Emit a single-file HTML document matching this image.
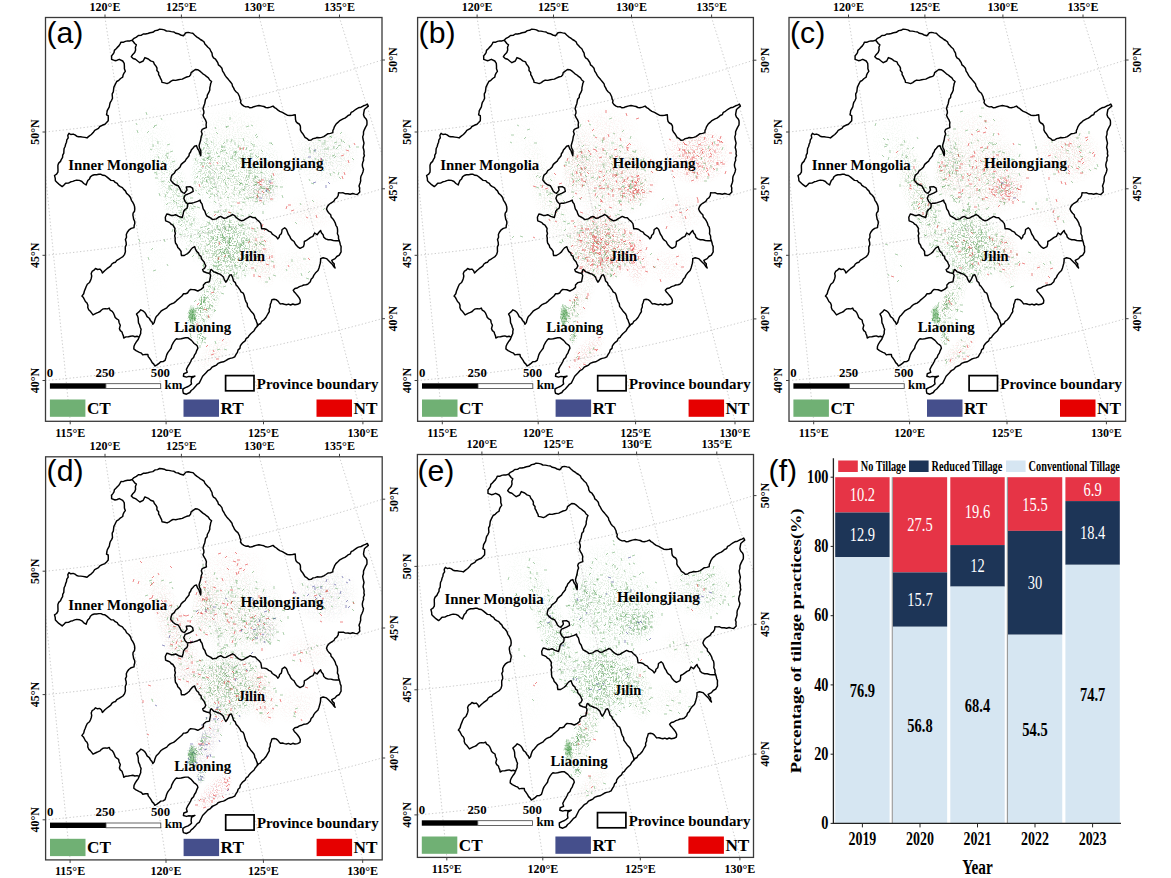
<!DOCTYPE html>
<html><head><meta charset="utf-8"><style>
html,body{margin:0;padding:0;background:#fff;}
body{width:1171px;height:878px;overflow:hidden;}
svg{display:block;}
</style></head><body>
<svg width="1171" height="878" viewBox="0 0 1171 878">
<defs><polygon id="outerA" points="139.1,337.1 130.6,336.3 123.7,338.0 122.0,332.0 119.4,328.6 120.3,325.2 118.6,320.0 115.2,317.5 113.5,313.2 109.2,308.1 103.2,308.9 96.4,313.2 93.0,314.9 88.7,309.8 87.0,303.0 84.4,299.5 81.9,296.1 84.4,291.0 86.1,286.7 89.5,282.5 91.3,278.2 92.1,271.4 95.5,268.5 99.8,269.1 102.4,273.1 104.9,270.5 109.2,267.1 113.5,262.8 118.6,259.4 122.9,256.7 125.4,251.6 126.3,244.7 125.4,239.6 126.3,234.5 128.8,230.2 134.0,227.6 134.8,223.4 133.6,219.1 133.1,213.1 134.8,208.8 134.0,204.6 131.4,200.3 128.8,195.2 125.4,190.9 120.3,186.6 115.2,182.4 109.2,178.9 104.9,175.5 98.9,174.3 92.1,175.5 89.5,178.9 86.1,184.9 81.9,181.5 76.7,180.1 70.8,181.8 65.6,183.2 62.2,186.6 58.8,184.1 55.4,180.7 54.5,175.5 57.9,172.1 57.9,165.3 61.4,159.3 63.9,150.8 66.5,142.2 69.0,133.3 76.7,136.2 82.7,137.1 87.0,137.9 91.3,134.5 94.7,130.3 99.8,126.5 104.9,124.3 108.2,120.8 108.2,115.7 106.5,114.8 108.2,108.8 111.6,100.3 113.3,91.8 115.0,84.9 116.7,81.5 122.7,77.2 125.3,71.3 124.4,66.1 122.7,61.0 119.3,59.3 115.0,60.7 111.6,59.3 111.6,55.9 115.9,49.0 121.0,42.2 125.3,41.4 132.1,40.2 136.4,37.1 143.2,34.0 150.0,32.8 155.2,30.6 162.0,29.4 168.8,31.1 174.0,32.0 178.2,33.7 183.4,35.7 185.9,32.8 192.8,33.3 197.0,37.1 202.2,40.5 206.4,45.6 210.7,50.8 212.4,55.9 216.7,61.0 220.1,66.1 222.6,71.1 225.1,75.4 228.5,79.6 232.0,83.9 234.5,89.9 237.9,93.3 239.6,96.7 240.5,102.7 243.9,106.1 249.9,107.8 255.9,106.1 261.9,106.1 267.8,107.8 273.0,106.1 276.4,108.7 279.8,111.3 284.9,113.8 290.0,115.5 295.2,114.7 296.0,121.5 300.3,125.8 301.2,131.8 303.7,135.2 308.8,140.3 313.1,138.6 319.1,137.7 325.9,135.2 332.8,132.6 334.5,126.6 337.9,122.4 343.0,118.9 348.1,115.5 353.3,111.3 358.4,107.8 363.5,105.8 367.3,104.1 368.3,106.1 364.4,109.5 363.5,114.7 366.1,118.9 366.9,124.9 363.5,131.8 362.7,136.9 363.5,145.4 364.4,155.7 362.7,162.5 363.5,169.3 361.0,176.2 360.1,183.0 359.0,186.0 359.8,192.0 357.3,194.5 347.9,193.7 338.5,192.8 336.8,197.9 332.5,202.2 327.4,206.5 326.5,209.0 329.1,213.3 332.5,218.4 335.9,225.3 337.6,231.3 339.3,240.7 341.1,246.6 341.1,251.8 339.3,255.2 335.1,258.6 331.7,260.3 334.2,263.7 335.1,268.0 332.5,264.6 329.9,262.0 326.5,258.6 323.1,257.7 320.6,258.6 319.7,265.4 318.0,270.6 315.4,273.1 312.9,277.4 310.3,281.7 307.7,284.2 301.8,285.9 294.9,288.5 293.2,290.2 295.8,293.6 299.2,297.9 300.0,303.0 294.9,304.7 286.4,304.7 280.4,303.9 276.1,299.6 271.9,299.6 270.2,304.7 269.3,311.6 265.9,317.5 263.7,320.0 260.6,323.5 257.3,326.3 255.2,328.6 249.2,335.4 243.2,342.3 238.1,349.9 234.7,356.8 227.8,359.3 221.0,362.3 218.0,363.4 214.5,366.0 210.3,369.4 206.0,372.8 202.6,376.2 200.9,379.7 199.2,383.1 195.8,386.1 193.2,389.0 189.8,392.5 186.4,394.2 183.4,393.3 182.9,389.0 188.1,386.5 191.5,383.9 191.1,381.4 191.5,378.0 194.9,376.1 191.5,376.7 186.4,377.1 183.4,376.2 183.8,373.7 187.2,372.4 186.4,369.4 188.1,366.0 190.6,361.7 193.6,357.5 195.8,353.2 197.9,348.1 195.8,344.6 191.5,340.4 188.1,337.8 185.5,337.8 181.2,338.7 176.5,338.7 173.6,342.1 171.8,345.5 169.3,350.6 166.7,354.9 165.0,360.4 159.0,363.4 154.8,366.0 152.2,362.6 149.6,358.3 147.9,354.5 142.8,354.9 139.4,352.3 136.0,350.6 133.8,348.9 135.1,343.8 136.8,341.2 139.1,337.1"/>
<radialGradient id="rgf"><stop offset="0" stop-color="#fff"/><stop offset="0.55" stop-color="#fff" stop-opacity="0.55"/><stop offset="1" stop-color="#fff" stop-opacity="0"/></radialGradient>
<clipPath id="oca"><use href="#outerA" transform="translate(0,0)"/></clipPath>
<clipPath id="ocb"><use href="#outerA" transform="translate(372.1,0)"/></clipPath>
<clipPath id="occ"><use href="#outerA" transform="translate(743.5,0)"/></clipPath>
<clipPath id="ocd"><use href="#outerA" transform="translate(0,439.3)"/></clipPath>
<clipPath id="oce"><use href="#outerA" transform="translate(376.4,434.0)"/></clipPath>
<filter id="spg" filterUnits="userSpaceOnUse" x="0" y="0" width="1171" height="878" color-interpolation-filters="sRGB"><feTurbulence type="fractalNoise" baseFrequency="0.75" numOctaves="2" seed="3"/><feColorMatrix type="matrix" values="0 0 0 0 0.33  0 0 0 0 0.62  0 0 0 0 0.33  -9 0 0 0 4.4"/></filter>
<mask id="mkg" maskUnits="userSpaceOnUse" x="0" y="0" width="1171" height="878"><g clip-path="url(#oca)"><ellipse cx="178.0" cy="200.0" rx="17.2" ry="71.5" transform="rotate(-20 178.0 200.0)" fill="url(#rgf)" opacity="0.306"/><ellipse cx="240.0" cy="175.0" rx="49.3" ry="44.4" transform="rotate(0 240.0 175.0)" fill="url(#rgf)" opacity="0.323"/><ellipse cx="205.0" cy="165.0" rx="14.8" ry="37.0" transform="rotate(10 205.0 165.0)" fill="url(#rgf)" opacity="0.300"/><ellipse cx="262.0" cy="190.0" rx="17.2" ry="16.0" transform="rotate(0 262.0 190.0)" fill="url(#rgf)" opacity="0.275"/><ellipse cx="232.0" cy="128.0" rx="37.0" ry="22.2" transform="rotate(0 232.0 128.0)" fill="url(#rgf)" opacity="0.085"/><ellipse cx="325.0" cy="155.0" rx="34.5" ry="30.8" transform="rotate(0 325.0 155.0)" fill="url(#rgf)" opacity="0.182"/><ellipse cx="310.0" cy="212.0" rx="29.6" ry="19.7" transform="rotate(0 310.0 212.0)" fill="url(#rgf)" opacity="0.050"/><ellipse cx="228.0" cy="245.0" rx="34.5" ry="39.4" transform="rotate(-20 228.0 245.0)" fill="url(#rgf)" opacity="0.621"/><ellipse cx="262.0" cy="255.0" rx="14.8" ry="34.5" transform="rotate(-10 262.0 255.0)" fill="url(#rgf)" opacity="0.154"/><ellipse cx="296.0" cy="266.0" rx="27.1" ry="19.7" transform="rotate(0 296.0 266.0)" fill="url(#rgf)" opacity="0.070"/><ellipse cx="208.0" cy="300.0" rx="12.3" ry="44.4" transform="rotate(22 208.0 300.0)" fill="url(#rgf)" opacity="0.380"/><ellipse cx="192.0" cy="316.0" rx="5.5" ry="12.3" transform="rotate(0 192.0 316.0)" fill="url(#rgf)" opacity="1.000"/><ellipse cx="202.0" cy="304.0" rx="3.7" ry="14.8" transform="rotate(15 202.0 304.0)" fill="url(#rgf)" opacity="0.800"/><ellipse cx="201.0" cy="337.0" rx="4.9" ry="8.6" transform="rotate(0 201.0 337.0)" fill="url(#rgf)" opacity="0.800"/><ellipse cx="215.0" cy="352.0" rx="11.1" ry="27.1" transform="rotate(42 215.0 352.0)" fill="url(#rgf)" opacity="0.080"/><ellipse cx="150.0" cy="140.0" rx="27.1" ry="34.5" transform="rotate(0 150.0 140.0)" fill="url(#rgf)" opacity="0.060"/><ellipse cx="150.0" cy="255.0" rx="24.6" ry="49.3" transform="rotate(0 150.0 255.0)" fill="url(#rgf)" opacity="0.029"/></g><g clip-path="url(#ocb)"><ellipse cx="550.1" cy="200.0" rx="17.2" ry="71.5" transform="rotate(-20 550.1 200.0)" fill="url(#rgf)" opacity="0.128"/><ellipse cx="612.1" cy="175.0" rx="49.3" ry="44.4" transform="rotate(0 612.1 175.0)" fill="url(#rgf)" opacity="0.187"/><ellipse cx="577.1" cy="165.0" rx="14.8" ry="37.0" transform="rotate(10 577.1 165.0)" fill="url(#rgf)" opacity="0.180"/><ellipse cx="634.1" cy="190.0" rx="17.2" ry="16.0" transform="rotate(0 634.1 190.0)" fill="url(#rgf)" opacity="0.250"/><ellipse cx="604.1" cy="128.0" rx="37.0" ry="22.2" transform="rotate(0 604.1 128.0)" fill="url(#rgf)" opacity="0.040"/><ellipse cx="697.1" cy="155.0" rx="34.5" ry="30.8" transform="rotate(0 697.1 155.0)" fill="url(#rgf)" opacity="0.098"/><ellipse cx="682.1" cy="212.0" rx="29.6" ry="19.7" transform="rotate(0 682.1 212.0)" fill="url(#rgf)" opacity="0.040"/><ellipse cx="600.1" cy="245.0" rx="34.5" ry="39.4" transform="rotate(-20 600.1 245.0)" fill="url(#rgf)" opacity="0.352"/><ellipse cx="634.1" cy="255.0" rx="14.8" ry="34.5" transform="rotate(-10 634.1 255.0)" fill="url(#rgf)" opacity="0.056"/><ellipse cx="668.1" cy="266.0" rx="27.1" ry="19.7" transform="rotate(0 668.1 266.0)" fill="url(#rgf)" opacity="0.030"/><ellipse cx="580.1" cy="300.0" rx="12.3" ry="44.4" transform="rotate(22 580.1 300.0)" fill="url(#rgf)" opacity="0.084"/><ellipse cx="564.1" cy="316.0" rx="5.5" ry="12.3" transform="rotate(0 564.1 316.0)" fill="url(#rgf)" opacity="1.000"/><ellipse cx="574.1" cy="304.0" rx="3.7" ry="14.8" transform="rotate(15 574.1 304.0)" fill="url(#rgf)" opacity="0.720"/><ellipse cx="573.1" cy="337.0" rx="4.9" ry="8.6" transform="rotate(0 573.1 337.0)" fill="url(#rgf)" opacity="0.720"/><ellipse cx="587.1" cy="352.0" rx="11.1" ry="27.1" transform="rotate(42 587.1 352.0)" fill="url(#rgf)" opacity="0.072"/><ellipse cx="522.1" cy="140.0" rx="27.1" ry="34.5" transform="rotate(0 522.1 140.0)" fill="url(#rgf)" opacity="0.024"/><ellipse cx="522.1" cy="255.0" rx="24.6" ry="49.3" transform="rotate(0 522.1 255.0)" fill="url(#rgf)" opacity="0.012"/></g><g clip-path="url(#occ)"><ellipse cx="921.5" cy="200.0" rx="17.2" ry="71.5" transform="rotate(-20 921.5 200.0)" fill="url(#rgf)" opacity="0.318"/><ellipse cx="983.5" cy="175.0" rx="49.3" ry="44.4" transform="rotate(0 983.5 175.0)" fill="url(#rgf)" opacity="0.204"/><ellipse cx="948.5" cy="165.0" rx="14.8" ry="37.0" transform="rotate(10 948.5 165.0)" fill="url(#rgf)" opacity="0.312"/><ellipse cx="1005.5" cy="190.0" rx="17.2" ry="16.0" transform="rotate(0 1005.5 190.0)" fill="url(#rgf)" opacity="0.075"/><ellipse cx="975.5" cy="128.0" rx="37.0" ry="22.2" transform="rotate(0 975.5 128.0)" fill="url(#rgf)" opacity="0.050"/><ellipse cx="1068.5" cy="155.0" rx="34.5" ry="30.8" transform="rotate(0 1068.5 155.0)" fill="url(#rgf)" opacity="0.130"/><ellipse cx="1053.5" cy="212.0" rx="29.6" ry="19.7" transform="rotate(0 1053.5 212.0)" fill="url(#rgf)" opacity="0.060"/><ellipse cx="971.5" cy="245.0" rx="34.5" ry="39.4" transform="rotate(-20 971.5 245.0)" fill="url(#rgf)" opacity="0.589"/><ellipse cx="1005.5" cy="255.0" rx="14.8" ry="34.5" transform="rotate(-10 1005.5 255.0)" fill="url(#rgf)" opacity="0.154"/><ellipse cx="1039.5" cy="266.0" rx="27.1" ry="19.7" transform="rotate(0 1039.5 266.0)" fill="url(#rgf)" opacity="0.060"/><ellipse cx="951.5" cy="300.0" rx="12.3" ry="44.4" transform="rotate(22 951.5 300.0)" fill="url(#rgf)" opacity="0.294"/><ellipse cx="935.5" cy="316.0" rx="5.5" ry="12.3" transform="rotate(0 935.5 316.0)" fill="url(#rgf)" opacity="1.000"/><ellipse cx="945.5" cy="304.0" rx="3.7" ry="14.8" transform="rotate(15 945.5 304.0)" fill="url(#rgf)" opacity="0.720"/><ellipse cx="944.5" cy="337.0" rx="4.9" ry="8.6" transform="rotate(0 944.5 337.0)" fill="url(#rgf)" opacity="0.720"/><ellipse cx="958.5" cy="352.0" rx="11.1" ry="27.1" transform="rotate(42 958.5 352.0)" fill="url(#rgf)" opacity="0.120"/><ellipse cx="893.5" cy="140.0" rx="27.1" ry="34.5" transform="rotate(0 893.5 140.0)" fill="url(#rgf)" opacity="0.060"/><ellipse cx="893.5" cy="255.0" rx="24.6" ry="49.3" transform="rotate(0 893.5 255.0)" fill="url(#rgf)" opacity="0.024"/></g><g clip-path="url(#ocd)"><ellipse cx="178.0" cy="639.3" rx="17.2" ry="71.5" transform="rotate(-20 178.0 639.3)" fill="url(#rgf)" opacity="0.138"/><ellipse cx="240.0" cy="614.3" rx="49.3" ry="44.4" transform="rotate(0 240.0 614.3)" fill="url(#rgf)" opacity="0.238"/><ellipse cx="205.0" cy="604.3" rx="14.8" ry="37.0" transform="rotate(10 205.0 604.3)" fill="url(#rgf)" opacity="0.150"/><ellipse cx="262.0" cy="629.3" rx="17.2" ry="16.0" transform="rotate(0 262.0 629.3)" fill="url(#rgf)" opacity="0.300"/><ellipse cx="232.0" cy="567.3" rx="37.0" ry="22.2" transform="rotate(0 232.0 567.3)" fill="url(#rgf)" opacity="0.040"/><ellipse cx="325.0" cy="594.3" rx="34.5" ry="30.8" transform="rotate(0 325.0 594.3)" fill="url(#rgf)" opacity="0.117"/><ellipse cx="310.0" cy="651.3" rx="29.6" ry="19.7" transform="rotate(0 310.0 651.3)" fill="url(#rgf)" opacity="0.040"/><ellipse cx="228.0" cy="684.3" rx="34.5" ry="39.4" transform="rotate(-20 228.0 684.3)" fill="url(#rgf)" opacity="0.512"/><ellipse cx="262.0" cy="694.3" rx="14.8" ry="34.5" transform="rotate(-10 262.0 694.3)" fill="url(#rgf)" opacity="0.126"/><ellipse cx="296.0" cy="705.3" rx="27.1" ry="19.7" transform="rotate(0 296.0 705.3)" fill="url(#rgf)" opacity="0.040"/><ellipse cx="208.0" cy="739.3" rx="12.3" ry="44.4" transform="rotate(22 208.0 739.3)" fill="url(#rgf)" opacity="0.096"/><ellipse cx="192.0" cy="755.3" rx="5.5" ry="12.3" transform="rotate(0 192.0 755.3)" fill="url(#rgf)" opacity="1.000"/><ellipse cx="202.0" cy="743.3" rx="3.7" ry="14.8" transform="rotate(15 202.0 743.3)" fill="url(#rgf)" opacity="0.480"/><ellipse cx="201.0" cy="776.3" rx="4.9" ry="8.6" transform="rotate(0 201.0 776.3)" fill="url(#rgf)" opacity="0.480"/><ellipse cx="150.0" cy="579.3" rx="27.1" ry="34.5" transform="rotate(0 150.0 579.3)" fill="url(#rgf)" opacity="0.036"/><ellipse cx="150.0" cy="694.3" rx="24.6" ry="49.3" transform="rotate(0 150.0 694.3)" fill="url(#rgf)" opacity="0.012"/></g><g clip-path="url(#oce)"><ellipse cx="554.4" cy="634.0" rx="17.2" ry="71.5" transform="rotate(-20 554.4 634.0)" fill="url(#rgf)" opacity="0.316"/><ellipse cx="616.4" cy="609.0" rx="49.3" ry="44.4" transform="rotate(0 616.4 609.0)" fill="url(#rgf)" opacity="0.326"/><ellipse cx="581.4" cy="599.0" rx="14.8" ry="37.0" transform="rotate(10 581.4 599.0)" fill="url(#rgf)" opacity="0.255"/><ellipse cx="638.4" cy="624.0" rx="17.2" ry="16.0" transform="rotate(0 638.4 624.0)" fill="url(#rgf)" opacity="0.440"/><ellipse cx="608.4" cy="562.0" rx="37.0" ry="22.2" transform="rotate(0 608.4 562.0)" fill="url(#rgf)" opacity="0.090"/><ellipse cx="701.4" cy="589.0" rx="34.5" ry="30.8" transform="rotate(0 701.4 589.0)" fill="url(#rgf)" opacity="0.213"/><ellipse cx="686.4" cy="646.0" rx="29.6" ry="19.7" transform="rotate(0 686.4 646.0)" fill="url(#rgf)" opacity="0.075"/><ellipse cx="604.4" cy="679.0" rx="34.5" ry="39.4" transform="rotate(-20 604.4 679.0)" fill="url(#rgf)" opacity="0.621"/><ellipse cx="638.4" cy="689.0" rx="14.8" ry="34.5" transform="rotate(-10 638.4 689.0)" fill="url(#rgf)" opacity="0.258"/><ellipse cx="672.4" cy="700.0" rx="27.1" ry="19.7" transform="rotate(0 672.4 700.0)" fill="url(#rgf)" opacity="0.085"/><ellipse cx="584.4" cy="734.0" rx="12.3" ry="44.4" transform="rotate(22 584.4 734.0)" fill="url(#rgf)" opacity="0.360"/><ellipse cx="568.4" cy="750.0" rx="5.5" ry="12.3" transform="rotate(0 568.4 750.0)" fill="url(#rgf)" opacity="1.000"/><ellipse cx="578.4" cy="738.0" rx="3.7" ry="14.8" transform="rotate(15 578.4 738.0)" fill="url(#rgf)" opacity="0.760"/><ellipse cx="577.4" cy="771.0" rx="4.9" ry="8.6" transform="rotate(0 577.4 771.0)" fill="url(#rgf)" opacity="0.760"/><ellipse cx="591.4" cy="786.0" rx="11.1" ry="27.1" transform="rotate(42 591.4 786.0)" fill="url(#rgf)" opacity="0.096"/><ellipse cx="526.4" cy="574.0" rx="27.1" ry="34.5" transform="rotate(0 526.4 574.0)" fill="url(#rgf)" opacity="0.060"/><ellipse cx="526.4" cy="689.0" rx="24.6" ry="49.3" transform="rotate(0 526.4 689.0)" fill="url(#rgf)" opacity="0.026"/></g></mask>
<filter id="spr" filterUnits="userSpaceOnUse" x="0" y="0" width="1171" height="878" color-interpolation-filters="sRGB"><feTurbulence type="fractalNoise" baseFrequency="0.75" numOctaves="2" seed="7"/><feColorMatrix type="matrix" values="0 0 0 0 0.9  0 0 0 0 0.15  0 0 0 0 0.15  -9 0 0 0 4.4"/></filter>
<mask id="mkr" maskUnits="userSpaceOnUse" x="0" y="0" width="1171" height="878"><g clip-path="url(#oca)"><ellipse cx="240.0" cy="175.0" rx="49.3" ry="44.4" transform="rotate(0 240.0 175.0)" fill="url(#rgf)" opacity="0.017"/><ellipse cx="262.0" cy="190.0" rx="17.2" ry="16.0" transform="rotate(0 262.0 190.0)" fill="url(#rgf)" opacity="0.125"/><ellipse cx="232.0" cy="128.0" rx="37.0" ry="22.2" transform="rotate(0 232.0 128.0)" fill="url(#rgf)" opacity="0.015"/><ellipse cx="325.0" cy="155.0" rx="34.5" ry="30.8" transform="rotate(0 325.0 155.0)" fill="url(#rgf)" opacity="0.039"/><ellipse cx="310.0" cy="212.0" rx="29.6" ry="19.7" transform="rotate(0 310.0 212.0)" fill="url(#rgf)" opacity="0.050"/><ellipse cx="228.0" cy="245.0" rx="34.5" ry="39.4" transform="rotate(-20 228.0 245.0)" fill="url(#rgf)" opacity="0.019"/><ellipse cx="262.0" cy="255.0" rx="14.8" ry="34.5" transform="rotate(-10 262.0 255.0)" fill="url(#rgf)" opacity="0.126"/><ellipse cx="296.0" cy="266.0" rx="27.1" ry="19.7" transform="rotate(0 296.0 266.0)" fill="url(#rgf)" opacity="0.030"/><ellipse cx="208.0" cy="300.0" rx="12.3" ry="44.4" transform="rotate(22 208.0 300.0)" fill="url(#rgf)" opacity="0.020"/><ellipse cx="215.0" cy="352.0" rx="11.1" ry="27.1" transform="rotate(42 215.0 352.0)" fill="url(#rgf)" opacity="0.080"/><ellipse cx="150.0" cy="255.0" rx="24.6" ry="49.3" transform="rotate(0 150.0 255.0)" fill="url(#rgf)" opacity="0.002"/></g><g clip-path="url(#ocb)"><ellipse cx="550.1" cy="200.0" rx="17.2" ry="71.5" transform="rotate(-20 550.1 200.0)" fill="url(#rgf)" opacity="0.043"/><ellipse cx="612.1" cy="175.0" rx="49.3" ry="44.4" transform="rotate(0 612.1 175.0)" fill="url(#rgf)" opacity="0.153"/><ellipse cx="577.1" cy="165.0" rx="14.8" ry="37.0" transform="rotate(10 577.1 165.0)" fill="url(#rgf)" opacity="0.120"/><ellipse cx="634.1" cy="190.0" rx="17.2" ry="16.0" transform="rotate(0 634.1 190.0)" fill="url(#rgf)" opacity="0.250"/><ellipse cx="604.1" cy="128.0" rx="37.0" ry="22.2" transform="rotate(0 604.1 128.0)" fill="url(#rgf)" opacity="0.060"/><ellipse cx="697.1" cy="155.0" rx="34.5" ry="30.8" transform="rotate(0 697.1 155.0)" fill="url(#rgf)" opacity="0.293"/><ellipse cx="682.1" cy="212.0" rx="29.6" ry="19.7" transform="rotate(0 682.1 212.0)" fill="url(#rgf)" opacity="0.060"/><ellipse cx="600.1" cy="245.0" rx="34.5" ry="39.4" transform="rotate(-20 600.1 245.0)" fill="url(#rgf)" opacity="0.352"/><ellipse cx="634.1" cy="255.0" rx="14.8" ry="34.5" transform="rotate(-10 634.1 255.0)" fill="url(#rgf)" opacity="0.224"/><ellipse cx="668.1" cy="266.0" rx="27.1" ry="19.7" transform="rotate(0 668.1 266.0)" fill="url(#rgf)" opacity="0.070"/><ellipse cx="580.1" cy="300.0" rx="12.3" ry="44.4" transform="rotate(22 580.1 300.0)" fill="url(#rgf)" opacity="0.056"/><ellipse cx="574.1" cy="304.0" rx="3.7" ry="14.8" transform="rotate(15 574.1 304.0)" fill="url(#rgf)" opacity="0.080"/><ellipse cx="573.1" cy="337.0" rx="4.9" ry="8.6" transform="rotate(0 573.1 337.0)" fill="url(#rgf)" opacity="0.080"/><ellipse cx="587.1" cy="352.0" rx="11.1" ry="27.1" transform="rotate(42 587.1 352.0)" fill="url(#rgf)" opacity="0.168"/><ellipse cx="522.1" cy="140.0" rx="27.1" ry="34.5" transform="rotate(0 522.1 140.0)" fill="url(#rgf)" opacity="0.006"/><ellipse cx="522.1" cy="255.0" rx="24.6" ry="49.3" transform="rotate(0 522.1 255.0)" fill="url(#rgf)" opacity="0.003"/></g><g clip-path="url(#occ)"><ellipse cx="921.5" cy="200.0" rx="17.2" ry="71.5" transform="rotate(-20 921.5 200.0)" fill="url(#rgf)" opacity="0.056"/><ellipse cx="983.5" cy="175.0" rx="49.3" ry="44.4" transform="rotate(0 983.5 175.0)" fill="url(#rgf)" opacity="0.136"/><ellipse cx="948.5" cy="165.0" rx="14.8" ry="37.0" transform="rotate(10 948.5 165.0)" fill="url(#rgf)" opacity="0.078"/><ellipse cx="1005.5" cy="190.0" rx="17.2" ry="16.0" transform="rotate(0 1005.5 190.0)" fill="url(#rgf)" opacity="0.375"/><ellipse cx="975.5" cy="128.0" rx="37.0" ry="22.2" transform="rotate(0 975.5 128.0)" fill="url(#rgf)" opacity="0.050"/><ellipse cx="1068.5" cy="155.0" rx="34.5" ry="30.8" transform="rotate(0 1068.5 155.0)" fill="url(#rgf)" opacity="0.130"/><ellipse cx="1053.5" cy="212.0" rx="29.6" ry="19.7" transform="rotate(0 1053.5 212.0)" fill="url(#rgf)" opacity="0.040"/><ellipse cx="971.5" cy="245.0" rx="34.5" ry="39.4" transform="rotate(-20 971.5 245.0)" fill="url(#rgf)" opacity="0.051"/><ellipse cx="1005.5" cy="255.0" rx="14.8" ry="34.5" transform="rotate(-10 1005.5 255.0)" fill="url(#rgf)" opacity="0.126"/><ellipse cx="1039.5" cy="266.0" rx="27.1" ry="19.7" transform="rotate(0 1039.5 266.0)" fill="url(#rgf)" opacity="0.040"/><ellipse cx="951.5" cy="300.0" rx="12.3" ry="44.4" transform="rotate(22 951.5 300.0)" fill="url(#rgf)" opacity="0.026"/><ellipse cx="945.5" cy="304.0" rx="3.7" ry="14.8" transform="rotate(15 945.5 304.0)" fill="url(#rgf)" opacity="0.080"/><ellipse cx="944.5" cy="337.0" rx="4.9" ry="8.6" transform="rotate(0 944.5 337.0)" fill="url(#rgf)" opacity="0.080"/><ellipse cx="958.5" cy="352.0" rx="11.1" ry="27.1" transform="rotate(42 958.5 352.0)" fill="url(#rgf)" opacity="0.120"/><ellipse cx="893.5" cy="255.0" rx="24.6" ry="49.3" transform="rotate(0 893.5 255.0)" fill="url(#rgf)" opacity="0.006"/></g><g clip-path="url(#ocd)"><ellipse cx="178.0" cy="639.3" rx="17.2" ry="71.5" transform="rotate(-20 178.0 639.3)" fill="url(#rgf)" opacity="0.138"/><ellipse cx="240.0" cy="614.3" rx="49.3" ry="44.4" transform="rotate(0 240.0 614.3)" fill="url(#rgf)" opacity="0.075"/><ellipse cx="205.0" cy="604.3" rx="14.8" ry="37.0" transform="rotate(10 205.0 604.3)" fill="url(#rgf)" opacity="0.135"/><ellipse cx="262.0" cy="629.3" rx="17.2" ry="16.0" transform="rotate(0 262.0 629.3)" fill="url(#rgf)" opacity="0.075"/><ellipse cx="232.0" cy="567.3" rx="37.0" ry="22.2" transform="rotate(0 232.0 567.3)" fill="url(#rgf)" opacity="0.060"/><ellipse cx="325.0" cy="594.3" rx="34.5" ry="30.8" transform="rotate(0 325.0 594.3)" fill="url(#rgf)" opacity="0.052"/><ellipse cx="310.0" cy="651.3" rx="29.6" ry="19.7" transform="rotate(0 310.0 651.3)" fill="url(#rgf)" opacity="0.060"/><ellipse cx="228.0" cy="684.3" rx="34.5" ry="39.4" transform="rotate(-20 228.0 684.3)" fill="url(#rgf)" opacity="0.096"/><ellipse cx="262.0" cy="694.3" rx="14.8" ry="34.5" transform="rotate(-10 262.0 694.3)" fill="url(#rgf)" opacity="0.154"/><ellipse cx="296.0" cy="705.3" rx="27.1" ry="19.7" transform="rotate(0 296.0 705.3)" fill="url(#rgf)" opacity="0.060"/><ellipse cx="208.0" cy="739.3" rx="12.3" ry="44.4" transform="rotate(22 208.0 739.3)" fill="url(#rgf)" opacity="0.080"/><ellipse cx="215.0" cy="791.3" rx="11.1" ry="27.1" transform="rotate(42 215.0 791.3)" fill="url(#rgf)" opacity="0.256"/><ellipse cx="150.0" cy="579.3" rx="27.1" ry="34.5" transform="rotate(0 150.0 579.3)" fill="url(#rgf)" opacity="0.024"/><ellipse cx="150.0" cy="694.3" rx="24.6" ry="49.3" transform="rotate(0 150.0 694.3)" fill="url(#rgf)" opacity="0.015"/></g><g clip-path="url(#oce)"><ellipse cx="701.4" cy="589.0" rx="34.5" ry="30.8" transform="rotate(0 701.4 589.0)" fill="url(#rgf)" opacity="0.013"/><ellipse cx="686.4" cy="646.0" rx="29.6" ry="19.7" transform="rotate(0 686.4 646.0)" fill="url(#rgf)" opacity="0.025"/><ellipse cx="638.4" cy="689.0" rx="14.8" ry="34.5" transform="rotate(-10 638.4 689.0)" fill="url(#rgf)" opacity="0.022"/><ellipse cx="672.4" cy="700.0" rx="27.1" ry="19.7" transform="rotate(0 672.4 700.0)" fill="url(#rgf)" opacity="0.015"/><ellipse cx="584.4" cy="734.0" rx="12.3" ry="44.4" transform="rotate(22 584.4 734.0)" fill="url(#rgf)" opacity="0.040"/><ellipse cx="591.4" cy="786.0" rx="11.1" ry="27.1" transform="rotate(42 591.4 786.0)" fill="url(#rgf)" opacity="0.064"/><ellipse cx="526.4" cy="689.0" rx="24.6" ry="49.3" transform="rotate(0 526.4 689.0)" fill="url(#rgf)" opacity="0.004"/></g></mask>
<filter id="spb" filterUnits="userSpaceOnUse" x="0" y="0" width="1171" height="878" color-interpolation-filters="sRGB"><feTurbulence type="fractalNoise" baseFrequency="0.75" numOctaves="2" seed="11"/><feColorMatrix type="matrix" values="0 0 0 0 0.25  0 0 0 0 0.25  0 0 0 0 0.6  -9 0 0 0 4.4"/></filter>
<mask id="mkb" maskUnits="userSpaceOnUse" x="0" y="0" width="1171" height="878"><g clip-path="url(#oca)"><ellipse cx="262.0" cy="190.0" rx="17.2" ry="16.0" transform="rotate(0 262.0 190.0)" fill="url(#rgf)" opacity="0.100"/><ellipse cx="325.0" cy="155.0" rx="34.5" ry="30.8" transform="rotate(0 325.0 155.0)" fill="url(#rgf)" opacity="0.039"/></g><g clip-path="url(#ocb)"></g><g clip-path="url(#occ)"><ellipse cx="1005.5" cy="190.0" rx="17.2" ry="16.0" transform="rotate(0 1005.5 190.0)" fill="url(#rgf)" opacity="0.050"/></g><g clip-path="url(#ocd)"><ellipse cx="178.0" cy="639.3" rx="17.2" ry="71.5" transform="rotate(-20 178.0 639.3)" fill="url(#rgf)" opacity="0.031"/><ellipse cx="240.0" cy="614.3" rx="49.3" ry="44.4" transform="rotate(0 240.0 614.3)" fill="url(#rgf)" opacity="0.027"/><ellipse cx="205.0" cy="604.3" rx="14.8" ry="37.0" transform="rotate(10 205.0 604.3)" fill="url(#rgf)" opacity="0.015"/><ellipse cx="262.0" cy="629.3" rx="17.2" ry="16.0" transform="rotate(0 262.0 629.3)" fill="url(#rgf)" opacity="0.125"/><ellipse cx="325.0" cy="594.3" rx="34.5" ry="30.8" transform="rotate(0 325.0 594.3)" fill="url(#rgf)" opacity="0.091"/><ellipse cx="228.0" cy="684.3" rx="34.5" ry="39.4" transform="rotate(-20 228.0 684.3)" fill="url(#rgf)" opacity="0.032"/><ellipse cx="208.0" cy="739.3" rx="12.3" ry="44.4" transform="rotate(22 208.0 739.3)" fill="url(#rgf)" opacity="0.144"/><ellipse cx="192.0" cy="755.3" rx="5.5" ry="12.3" transform="rotate(0 192.0 755.3)" fill="url(#rgf)" opacity="0.540"/><ellipse cx="202.0" cy="743.3" rx="3.7" ry="14.8" transform="rotate(15 202.0 743.3)" fill="url(#rgf)" opacity="0.320"/><ellipse cx="201.0" cy="776.3" rx="4.9" ry="8.6" transform="rotate(0 201.0 776.3)" fill="url(#rgf)" opacity="0.320"/><ellipse cx="215.0" cy="791.3" rx="11.1" ry="27.1" transform="rotate(42 215.0 791.3)" fill="url(#rgf)" opacity="0.064"/><ellipse cx="150.0" cy="694.3" rx="24.6" ry="49.3" transform="rotate(0 150.0 694.3)" fill="url(#rgf)" opacity="0.003"/></g><g clip-path="url(#oce)"><ellipse cx="554.4" cy="634.0" rx="17.2" ry="71.5" transform="rotate(-20 554.4 634.0)" fill="url(#rgf)" opacity="0.024"/><ellipse cx="616.4" cy="609.0" rx="49.3" ry="44.4" transform="rotate(0 616.4 609.0)" fill="url(#rgf)" opacity="0.014"/><ellipse cx="581.4" cy="599.0" rx="14.8" ry="37.0" transform="rotate(10 581.4 599.0)" fill="url(#rgf)" opacity="0.045"/><ellipse cx="638.4" cy="624.0" rx="17.2" ry="16.0" transform="rotate(0 638.4 624.0)" fill="url(#rgf)" opacity="0.060"/><ellipse cx="608.4" cy="562.0" rx="37.0" ry="22.2" transform="rotate(0 608.4 562.0)" fill="url(#rgf)" opacity="0.010"/><ellipse cx="701.4" cy="589.0" rx="34.5" ry="30.8" transform="rotate(0 701.4 589.0)" fill="url(#rgf)" opacity="0.034"/><ellipse cx="604.4" cy="679.0" rx="34.5" ry="39.4" transform="rotate(-20 604.4 679.0)" fill="url(#rgf)" opacity="0.019"/><ellipse cx="578.4" cy="738.0" rx="3.7" ry="14.8" transform="rotate(15 578.4 738.0)" fill="url(#rgf)" opacity="0.040"/><ellipse cx="577.4" cy="771.0" rx="4.9" ry="8.6" transform="rotate(0 577.4 771.0)" fill="url(#rgf)" opacity="0.040"/></g></mask><radialGradient id="gblob"><stop offset="0" stop-color="#5fa862" stop-opacity="0.75"/><stop offset="0.6" stop-color="#6aae6c" stop-opacity="0.45"/><stop offset="1" stop-color="#7ab87a" stop-opacity="0"/></radialGradient></defs>
<rect width="1171" height="878" fill="#fff"/>
<rect x="0" y="0" width="1171" height="878" filter="url(#spg)" mask="url(#mkg)"/>
<rect x="0" y="0" width="1171" height="878" filter="url(#spr)" mask="url(#mkr)"/>
<rect x="0" y="0" width="1171" height="878" filter="url(#spb)" mask="url(#mkb)"/>
<clipPath id="clipa"><rect x="45.5" y="17.5" width="336.5" height="403.8"/></clipPath>
<g clip-path="url(#clipa)" fill="none" stroke="#b4b4b4" stroke-width="0.7" stroke-dasharray="1.3 2.2">
<polyline points="85.9,578.1 84.2,561.5 82.6,544.9 80.9,528.3 79.3,511.7 77.6,495.0 75.9,478.4 74.3,461.8 72.6,445.1 70.9,428.5 69.3,411.9 67.6,395.2 65.9,378.6 64.3,362.0 62.6,345.4 60.9,328.9 59.3,312.3 57.6,295.8 56.0,279.3 54.3,262.8 52.7,246.3 51.0,229.9 49.4,213.6 47.8,197.2 46.1,180.9 44.5,164.7 42.9,148.5 41.3,132.4 39.7,116.3 38.1,100.3 36.5,84.4 34.9,68.5 33.3,52.7 31.7,37.0 30.1,21.4 28.6,5.9 27.0,-9.6 25.5,-24.9 24.0,-40.1 22.5,-55.2"/>
<polyline points="187.9,565.3 185.4,548.8 182.9,532.3 180.4,515.8 177.9,499.3 175.4,482.7 172.9,466.2 170.4,449.7 167.9,433.1 165.4,416.6 162.9,400.1 160.4,383.6 157.9,367.1 155.4,350.6 152.9,334.1 150.4,317.6 147.9,301.2 145.5,284.7 143.0,268.3 140.5,252.0 138.0,235.6 135.6,219.3 133.1,203.0 130.6,186.8 128.2,170.6 125.7,154.5 123.3,138.4 120.9,122.4 118.5,106.4 116.1,90.5 113.7,74.7 111.3,58.9 108.9,43.2 106.5,27.6 104.2,12.1 101.9,-3.3 99.5,-18.7 97.2,-33.9 94.9,-49.0 92.7,-64.1"/>
<polyline points="289.1,547.3 285.8,531.0 282.5,514.6 279.2,498.3 275.8,481.9 272.5,465.5 269.2,449.1 265.8,432.8 262.5,416.4 259.2,400.0 255.9,383.6 252.5,367.2 249.2,350.9 245.9,334.5 242.6,318.2 239.2,301.9 235.9,285.6 232.6,269.3 229.3,253.0 226.0,236.8 222.7,220.6 219.4,204.5 216.2,188.3 212.9,172.2 209.6,156.2 206.4,140.2 203.1,124.3 199.9,108.4 196.7,92.6 193.5,76.8 190.3,61.1 187.1,45.5 184.0,29.9 180.8,14.5 177.7,-0.9 174.6,-16.2 171.5,-31.4 168.4,-46.5 165.4,-61.5 162.3,-76.4"/>
<polyline points="389.3,524.3 385.2,508.2 381.0,492.0 376.9,475.8 372.7,459.7 368.6,443.5 364.4,427.3 360.3,411.1 356.1,394.9 352.0,378.7 347.8,362.5 343.7,346.3 339.6,330.1 335.4,314.0 331.3,297.8 327.1,281.7 323.0,265.6 318.9,249.5 314.8,233.4 310.7,217.4 306.6,201.4 302.5,185.4 298.4,169.4 294.3,153.5 290.2,137.7 286.2,121.9 282.1,106.1 278.1,90.4 274.1,74.8 270.1,59.2 266.1,43.7 262.2,28.2 258.2,12.9 254.3,-2.4 250.4,-17.6 246.6,-32.8 242.7,-47.8 238.9,-62.7 235.1,-77.5 231.3,-92.2"/>
<polyline points="488.2,496.3 483.3,480.4 478.3,464.4 473.4,448.5 468.4,432.5 463.5,416.6 458.5,400.6 453.5,384.7 448.6,368.7 443.6,352.7 438.7,336.8 433.7,320.8 428.8,304.9 423.8,288.9 418.9,273.0 413.9,257.1 409.0,241.2 404.0,225.4 399.1,209.5 394.2,193.7 389.3,177.9 384.4,162.2 379.5,146.5 374.7,130.8 369.8,115.1 365.0,99.6 360.1,84.0 355.3,68.6 350.5,53.1 345.8,37.8 341.0,22.5 336.3,7.2 331.6,-7.9 326.9,-23.0 322.2,-38.0 317.6,-52.9 313.0,-67.7 308.4,-82.4 303.9,-97.0 299.4,-111.5"/>
<polyline points="-119.2,387.8 -100.2,387.7 -81.2,387.4 -62.2,386.9 -43.1,386.3 -24.1,385.4 -5.2,384.3 13.8,383.1 32.8,381.6 51.7,380.0 70.7,378.1 89.6,376.1 108.5,373.9 127.3,371.4 146.2,368.8 165.0,366.0 183.7,363.0 202.5,359.8 221.2,356.3 239.9,352.8 258.5,349.0 277.1,345.0 295.7,340.8 314.2,336.4 332.6,331.9 351.1,327.1 369.4,322.2 387.7,317.1 406.0,311.8 424.2,306.3 442.4,300.6 460.4,294.7 478.5,288.6 496.4,282.4 514.3,276.0 532.2,269.3 549.9,262.5 567.6,255.5 585.2,248.4 602.8,241.0"/>
<polyline points="-119.1,263.1 -101.4,263.0 -83.6,262.8 -65.9,262.3 -48.2,261.7 -30.5,260.9 -12.8,259.9 4.9,258.7 22.6,257.4 40.3,255.8 57.9,254.1 75.5,252.2 93.2,250.1 110.7,247.9 128.3,245.4 145.8,242.8 163.3,240.0 180.8,237.0 198.3,233.8 215.7,230.4 233.0,226.9 250.4,223.2 267.7,219.3 284.9,215.2 302.2,211.0 319.3,206.6 336.5,202.0 353.5,197.2 370.6,192.2 387.5,187.1 404.4,181.8 421.3,176.3 438.1,170.7 454.9,164.9 471.5,158.9 488.2,152.7 504.7,146.3 521.2,139.8 537.6,133.1 554.0,126.3"/>
<polyline points="-119.0,140.3 -102.5,140.3 -86.1,140.0 -69.6,139.6 -53.1,139.0 -36.7,138.3 -20.3,137.4 -3.8,136.3 12.6,135.0 29.0,133.6 45.4,132.0 61.7,130.2 78.1,128.3 94.4,126.2 110.7,123.9 127.0,121.4 143.2,118.8 159.5,116.1 175.7,113.1 191.8,110.0 208.0,106.7 224.1,103.3 240.1,99.7 256.2,95.9 272.1,91.9 288.1,87.8 304.0,83.6 319.8,79.1 335.6,74.5 351.4,69.8 367.1,64.8 382.8,59.8 398.4,54.5 413.9,49.1 429.4,43.5 444.8,37.8 460.2,31.9 475.5,25.9 490.8,19.7 506.0,13.3"/>
</g>
<g clip-path="url(#clipa)"><path d="M146 112l1 3m83 2l0 3m-69-2l1 2m-26 3l1 2m114 0l2 1m-99 0l3-1m69 1l1 2m-12-1l1 2m10-2l3-1m17 1l3-1m-96 2l2-2m-18 4l1 3m78-1l2 2m-71-1l2-2m191 3l2-2m-140 3l0 3m53-2l2-2m73 2l2 2m-3-1l3-1m-125 2l0 3m36-3l1 3m12-3l2-2m-31 3l0 3m5-3l-1 3m110-3l1 3m-24-2l3 1m4-1l0 3m-167-2l0 3m53-3l1 2m131-2l2 2m-141-1l2 2m29-2l0 3m-29-2l2 2m43-2l2 2m16-2l3 0m-1 0l2 2m61-2l3-1m-184 2l0 3m70-3l2-2m29 2l0 3m68-3l3 0m-158 1l3-1m52 1l0 3m17-3l-1 3m111-3l1 3m-143-2l2 1m15-1l1 2m109-2l0 3m4-3l3-1m-137 2l-1 3m18-3l3 0m23 0l-1 3m64-3l-1 3m19-3l0 3m28-3l3 0m-209 2l2 1m69-1l2 2m17-2l3-1m81 1l3 0m9 0l2-2m-77 3l2 2m47-2l0 3m-87-2l3-1m8 1l3 1m12-1l3-1m61 1l3-1m-146 2l3-1m43 1l2 2m2-2l3-1m3 1l1 2m8-2l2 1m-30 0l3 1m23-1l3-1m0 1l-1 3m-69-2l3-1m81 1l3 0m-88 1l2 1m66-1l-1 3m11-3l0 3m7-3l1 3m4-3l2 2m-99-1l1 2m8-2l1 3m164-3l3-1m-128 2l2 1m-1-1l3-1m6 1l3-1m-25 2l1 3m8-3l0 3m3-3l2 2m21-2l3 1m5-1l3 0m16 0l2-2m56 2l1 2m18-2l2-2m16 2l2 2m-200-1l2 2m46-2l2 1m2-1l3-1m25 1l2 1m5-1l1 2m3-2l2 1m56-1l2 1m13-1l1 2m-109-1l2-2m64 2l1 3m44-3l3 0m-162 1l2 2m100-2l2-2m-94 3l3-1m26 1l1 3m2-3l1 2m21-2l1 3m19-3l0 3m9-3l-1 3m62-3l2 2m-161 0l1 3m111-3l0 3m-47-2l2 2m4-2l1 2m24-1l1 3m21-3l3 1m43-1l-1 3m-99-2l1 3m3-3l-1 3m32-3l3 0m-115 1l3-1m16 1l2 2m44-2l2-2m48 2l2-2m38 3l3 0m20 0l2 2m-114 0l0 3m4-3l2 2m13-2l3 0m0 0l3-1m13 1l3-1m-53 2l3-1m59 1l3 1m70-1l2 1m4-1l-1 3m-184-2l3-1m-1 1l1 2m91-2l3 0m79 0l1 3m-111-2l2-2m25 3l-1 3m3-3l-1 3m7-3l0 3m16-3l1 3m-65-2l2 2m10-2l-1 3m37-3l1 3m0-3l2 1m-48 0l0 3m22-3l2-2m105 2l2 2m-186-1l3 0m38 0l2-2m13 2l2 1m14-1l3 1m23-1l1 2m-50-1l2-2m1 2l-1 3m53-3l1 2m49-2l1 2m-39-1l3-1m-106 2l2 2m7-2l1 3m3-3l2 1m12-1l0 3m8-3l-1 3m4-3l2 1m3-1l0 3m12-3l2-2m21 2l2-2m-87 3l3-1m61 1l1 3m13-3l2 2m14-2l3 1m-44 0l1 2m25-2l3 1m68-1l3 1m-144 1l3 1m66-1l2-2m4 2l3-1m6 1l3-1m16 1l-1 3m-103-2l0 3m43-3l2 2m31-2l0 3m9-3l2-2m4 2l2 2m1-2l0 3m12-3l3 1m-75 0l2 1m9-1l3 1m10-1l2 1m6-1l-1 3m35-3l2-2m-1 2l1 3m9-3l3 0m-113 1l2 2m5-2l0 3m33-3l3 1m46-1l3 0m-20 1l2 1m-1-1l2 2m18-2l3-1m1 1l3-1m-85 2l1 2m9-2l2 1m11 0l3 0m6 0l2 1m21-1l-1 3m27-3l3 0m-103 1l2 1m38-1l2 2m46-2l1 2m-96-1l1 3m38-3l2 2m25-2l2-2m30 2l1 3m10-3l3 0m-105 1l-1 3m45-3l3 0m1 0l1 3m1-3l2 2m15-2l2 1m-52 0l1 3m73-3l2 2m23-2l1 3m-106-2l3 0m40 1l1 2m6-2l2 1m20-1l2 1m6-1l-1 3m-66-2l3 0m16 0l2-2m33 2l1 2m1-2l3 1m2-1l3-1m-70 2l1 2m-12-1l2 2m137-2l2 2m-100-1l2 2m-40-1l1 2m10-2l1 2m54-2l3 1m10-1l3-1m5 1l1 3m-73-2l2 2m107-2l1 2m-116-1l2-2m-21 3l2-2m52 2l2 1m9-1l1 2m-52-1l3 1m10-1l3 1m1 0l3 1m-9 0l3 1m32 0l0 3m14-3l2 1m-23 0l-1 3m105-3l2-2m-141 3l3-1m27 1l1 2m8-2l2 1m38-1l0 3m-48-2l3 0m11 0l3 1m-53 0l3-1m55 1l2 1m-32 0l2-2m40 2l0 3m2-3l2-2m-65 3l2 1m47-1l1 2m3-2l3 1m-16 0l-1 3m-43-2l0 3m69-3l3 0m-77 1l3 0m12 0l0 3m30-3l1 3m-46-1l0 3m2-3l2 1m47-1l0 3m-44-2l2 1m19 0l3 1m85-1l2 2m-124-1l1 3m17-3l2 1m-3 0l2 1m16-1l3 0m18 0l1 3m8-3l2 2m1-2l3 1m-26 0l-1 3m8-3l0 3m15-3l2 1m-62 0l2-2m35 2l0 3m23-3l3 0m-39 1l3-1m18 1l1 3m2-3l3 0m0 0l1 3m25-3l1 2m-58-1l3-1m19 1l2-2m18 2l3 1m2-1l3 0m4 0l1 2m-82-1l-1 3m46-3l2 1m5-1l2 2m7-2l2-2m-1 2l1 2m-51-1l2-2m20 2l2-2m4 2l-1 3m15-3l2 1m-55 0l3 0m25 0l2 2m30-2l2 2m18-2l3 1m-24 0l2 1m9-1l-1 3m-45-2l2-2m7 2l3 0m13 0l-1 3m-43-2l3 1m18-1l0 3m-9-2l0 3m32-3l-1 3m-12-2l2 1m5-1l1 2m-19-1l2-2m10 2l3 0m9 0l3 1m-2-1l0 3m5-3l2 1m1-1l1 3m27-3l3 0m-45 1l-1 3m11-3l3 1m15-1l1 2m-108-1l1 3m24-3l1 3m84-3l0 3m-59-2l2 2m20-2l2-2m11 2l1 3m3-3l0 3m14-3l0 3m2-3l3 1m-39 0l3 0m16 0l0 3m16-3l0 3m-5-2l0 3m4-3l1 3m15-3l2 2m0-2l3-1m-35 2l1 3m11-3l1 3m13-3l2 2m-43-1l2-2m12 2l2-2m25 2l2 2m4-2l3 1m-57 0l3-1m28 1l3 0m0 0l-1 3m19-3l2-2m2 2l2 1m-67 0l1 3m29-3l1 2m-15-1l2 1m11-1l-1 3m9-3l3 0m1 0l1 3m-54-2l1 2m57-2l3 1m-22 0l-1 3m-73-2l2-2m64 2l3 0m0 0l3-1m4 1l1 3m32-3l0 3m-55-2l3 1m30-1l-1 3m2-3l3 1m-39 0l0 3m11-3l3 0m6 0l2 2m24-2l3-1m-1 1l3 0m-58 1l2 1m21-1l2-2m2 2l2 1m-12 0l1 2m13-2l2-2m11 2l2 1m-55 0l2-2m39 2l1 3m2-3l-1 3m13-3l0 3m3-3l-1 3m-46-2l0 3m30-3l2-2m18 2l2-2m-103 3l1 3m43-3l2-2m21 2l2-2m1 2l1 3m14-3l2 1m3-1l1 2m17-2l3-1m-12 2l1 2m-18-1l3 0m-1 0l3 1m19-1l3-1m35 1l0 3m11-3l3 0m-89 1l2 2m4-2l1 2m19-2l2-2m-19 3l2 1m43-1l3 1m-60 0l3 1m0-1l2 1m24-1l-1 3m-38-2l-1 3m-36-2l1 2m67-2l1 2m-33-1l1 3m9-3l3 1m3-1l3 0m12 0l2 1m9-1l2 2m-34-1l3 1m0-1l3 0m20 0l2 1m-24 0l1 3m9-3l2-2m6 3l3 0m-18 1l1 2m34-2l1 3m30-3l1 2m-80-1l3-1m7 1l3-1m-67 2l3-1m57 1l3 1m9-1l-1 3m5-3l3-1m10 1l3-1m-40 2l3 1m26-1l1 3m2-3l-1 3m-8-2l2 2m71-2l1 3m6-3l2-2m-76 3l0 3m10-2l2 1m27-1l3 1m-7 1l1 3m-34-2l3 0m67 0l3 1m-80 0l1 2m-9 0l-1 3m45-2l3 0m-38 1l2 2m-24 1l3 1m3 0l1 3m8-3l3-1m-12 2l0 3m-8 0l3 1m12 1l3 1m-20 2l1 3m-4-2l1 3m-3-1l1 2m6-2l2-2m5 2l2 1m-12 0l3-1m-3 2l3-1m-12 2l2-2m7 2l3 1m4 1l2 2m-12-1l2-2m8 2l-1 3m3-3l1 2m-16 1l3 0m3 0l0 3m3-3l3 1m0-1l2 1m-16 0l3-1m16 1l1 2m-22-1l3 1m0-1l-1 3m11-3l2 1m-17 0l3 1m-2-1l2-2m-3 3l0 3m1-3l2 1m2-1l2 1m16-1l2-2m-27 3l2 2m1-2l2-2m-2 3l1 3m-3-2l-1 3m3-3l3 0m-6 1l2-2m0 2l0 3m4-3l1 3m-5-2l2 2m-1-2l2 2m0-2l1 3m12-3l3 0m-8 1l2 2m-15-1l2 2m1-2l1 3m1-3l2 1m8-1l0 3m-10-2l2-2m-4 4l1 2m-2 0l-1 3m15-3l1 2m-16 0l3 0m-1 0l-1 3m2-3l3 0m-7 2l2 2m-1 3l1 3m-1 0l2 2m12-1l1 2m1-2l-1 3m-2-1l-1 3m-5-1l1 3m17-3l1 3m-12-2l2 1m-6 2l0 3m24 1l3 1m-10 0l3-1" fill="none" stroke="#3f923f" stroke-opacity="0.42" stroke-width="1"/>
<path d="M354 143l1 2m-115 2l0 3m4-3l-1 3m103 0l3 1m-8 5l3-1m-23 3l0 3m27-1l1 3m-132-1l1 2m-9-1l2 1m-9 2l2 1m140 5l1 3m-72-2l1 3m68 0l1 3m-82 1l3 0m-5 1l3 1m-5 0l3 1m10 0l3 0m-74 1l1 3m59-3l3 1m4 3l2 1m0 0l2 2m-12 0l1 2m3-2l2 2m-7 2l1 3m12 1l3 0m-14 1l3 1m-25 2l3 0m48 2l3 0m-4 1l-1 3m5 2l3-1m-66 2l3 1m85 2l1 3m-103-2l2-2m90 3l2 1m-45 6l-1 3m-11 1l3 1m10 2l2-2m-10 9l0 3m8-1l2 2m-47 0l1 3m28-2l2-2m13 8l3 0m-12 6l1 3m17-3l0 3m-2-2l-1 3m-50-2l-1 3m6-3l2-2m82 3l2 2m-60-1l1 2m9 0l3 0m3 3l3 1m5 0l0 3m14-3l1 2m-38 1l3 0m0 6l0 3m4-1l3 1m-50 16l3-1m-17 13l2-2m5 6l3 1m1 5l1 3m-12 5l0 3m25 15l2-2m-18 8l2-2m5 5l1 2m-3 3l3-1m2 5l3 0" fill="none" stroke="#e01818" stroke-opacity="0.5" stroke-width="1"/>
<path d="M315 149l0 3m-7 5l3 0m10 1l1 2m-52 20l0 3m58-1l2 2m-17-1l3-1m10 3l0 3m-59 1l-1 3m-7 6l3 0" fill="none" stroke="#30308c" stroke-opacity="0.5" stroke-width="1"/></g>
<ellipse cx="192.0" cy="315.0" rx="4.2" ry="10" fill="url(#gblob)"/>
<g fill="none" stroke="#000" stroke-width="1.45" stroke-linejoin="round">
<polygon points="139.1,337.1 137.0,336.3 134.9,336.7 132.8,335.9 130.6,336.3 128.3,336.7 125.9,336.9 123.7,338.0 123.4,335.9 122.6,334.0 122.0,332.0 120.3,330.6 119.4,328.6 120.3,325.2 119.1,322.7 118.6,320.0 116.8,318.9 115.2,317.5 114.4,315.3 113.5,313.2 112.2,311.4 110.2,310.2 109.2,308.1 107.3,308.9 105.2,308.6 103.2,308.9 101.5,310.0 100.1,311.5 98.3,312.4 96.4,313.2 93.0,314.9 91.7,313.1 90.3,311.3 88.7,309.8 87.8,307.6 87.9,305.2 87.0,303.0 85.4,301.5 84.4,299.5 83.4,297.6 81.9,296.1 83.7,293.8 84.4,291.0 85.3,288.9 86.1,286.7 87.3,284.2 89.5,282.5 90.5,280.4 91.3,278.2 91.7,276.0 91.2,273.6 92.1,271.4 94.0,270.2 95.5,268.5 97.6,269.5 99.8,269.1 101.5,270.8 102.4,273.1 104.9,270.5 107.0,268.7 109.2,267.1 110.8,265.9 111.8,264.0 113.5,262.8 115.5,262.2 116.8,260.4 118.6,259.4 120.7,258.0 122.9,256.7 124.6,254.3 125.4,251.6 125.3,249.3 125.3,246.9 126.3,244.7 126.1,242.1 125.4,239.6 126.5,237.2 126.3,234.5 127.3,232.2 128.8,230.2 131.2,228.4 134.0,227.6 134.2,225.5 134.8,223.4 134.6,221.1 133.6,219.1 133.3,217.1 132.9,215.1 133.1,213.1 134.5,211.2 134.8,208.8 134.6,206.7 134.0,204.6 132.8,202.4 131.4,200.3 130.5,197.5 128.8,195.2 126.6,193.4 125.4,190.9 123.7,189.4 122.4,187.6 120.3,186.6 118.4,185.4 117.2,183.4 115.2,182.4 113.5,180.6 111.0,180.4 109.2,178.9 107.1,177.1 104.9,175.5 102.9,175.3 101.0,174.3 98.9,174.3 96.6,174.7 94.3,174.7 92.1,175.5 90.4,176.9 89.5,178.9 87.8,180.6 86.9,182.7 86.1,184.9 83.8,183.5 81.9,181.5 79.4,180.4 76.7,180.1 74.7,180.6 72.8,181.4 70.8,181.8 68.4,183.1 65.6,183.2 64.0,185.0 62.2,186.6 60.5,185.3 58.8,184.1 57.1,182.4 55.4,180.7 55.2,178.1 54.5,175.5 56.6,174.2 57.9,172.1 58.0,169.8 57.9,167.6 57.9,165.3 58.7,163.1 60.5,161.4 61.4,159.3 62.6,157.3 62.7,155.1 63.8,153.1 63.9,150.8 64.1,148.5 65.1,146.5 65.6,144.3 66.5,142.2 66.8,139.9 68.2,137.9 67.8,135.4 69.0,133.3 70.8,134.5 73.1,134.1 75.0,134.9 76.7,136.2 78.6,136.8 80.7,136.8 82.7,137.1 84.9,137.4 87.0,137.9 89.1,136.1 91.3,134.5 93.2,132.6 94.7,130.3 96.6,129.3 98.5,128.3 99.8,126.5 102.3,125.3 104.9,124.3 106.6,122.6 108.2,120.8 108.3,118.2 108.2,115.7 106.5,114.8 106.9,112.7 107.2,110.7 108.2,108.8 109.3,106.8 109.7,104.5 110.3,102.3 111.6,100.3 112.5,98.3 112.3,96.0 112.2,93.8 113.3,91.8 113.6,89.4 113.9,87.1 115.0,84.9 116.7,81.5 118.8,80.3 120.6,78.5 122.7,77.2 123.1,75.0 124.0,73.1 125.3,71.3 124.4,68.8 124.4,66.1 124.2,63.3 122.7,61.0 119.3,59.3 117.2,60.2 115.0,60.7 111.6,59.3 111.6,55.9 112.9,54.3 114.0,52.6 114.4,50.4 115.9,49.0 117.3,47.4 118.9,45.9 120.0,44.1 121.0,42.2 123.2,42.3 125.3,41.4 127.6,40.9 129.9,40.9 132.1,40.2 134.0,38.3 136.4,37.1 138.4,35.5 141.1,35.4 143.2,34.0 145.5,34.0 147.8,33.5 150.0,32.8 152.8,32.3 155.2,30.6 157.5,30.3 159.6,29.2 162.0,29.4 164.3,29.9 166.4,31.0 168.8,31.1 171.4,31.6 174.0,32.0 175.9,33.3 178.2,33.7 180.7,35.0 183.4,35.7 185.9,32.8 188.2,32.4 190.5,32.9 192.8,33.3 194.8,35.3 197.0,37.1 198.7,38.2 200.4,39.5 202.2,40.5 204.0,41.8 204.9,44.0 206.4,45.6 207.9,47.3 209.7,48.7 210.7,50.8 212.0,53.2 212.4,55.9 213.5,57.8 215.5,59.1 216.7,61.0 217.8,62.7 218.4,64.8 220.1,66.1 221.9,68.3 222.6,71.1 224.0,73.2 225.1,75.4 226.7,77.6 228.5,79.6 230.3,81.7 232.0,83.9 232.5,86.1 233.6,87.9 234.5,89.9 236.0,91.8 237.9,93.3 239.6,96.7 239.9,98.7 240.9,100.6 240.5,102.7 241.9,104.7 243.9,106.1 245.8,106.9 248.0,106.7 249.9,107.8 252.0,107.5 253.9,106.7 255.9,106.1 258.9,105.5 261.9,106.1 263.9,106.5 265.8,107.5 267.8,107.8 270.4,107.1 273.0,106.1 274.6,107.6 276.4,108.7 278.0,110.1 279.8,111.3 282.4,112.4 284.9,113.8 287.3,115.2 290.0,115.5 292.6,115.2 295.2,114.7 295.4,117.0 295.5,119.3 296.0,121.5 297.3,123.0 299.2,124.0 300.3,125.8 300.5,127.8 300.4,129.9 301.2,131.8 302.6,133.4 303.7,135.2 305.0,137.3 307.1,138.6 308.8,140.3 311.2,140.0 313.1,138.6 315.1,138.3 317.0,137.5 319.1,137.7 321.6,137.4 323.8,136.6 325.9,135.2 328.0,133.7 330.5,133.4 332.8,132.6 332.9,130.5 333.8,128.6 334.5,126.6 335.9,124.3 337.9,122.4 339.4,120.9 341.2,119.9 343.0,118.9 344.9,118.1 346.6,116.9 348.1,115.5 350.3,114.6 351.2,112.3 353.3,111.3 354.9,110.0 356.6,108.8 358.4,107.8 361.1,107.2 363.5,105.8 365.5,105.1 367.3,104.1 368.3,106.1 366.3,107.7 364.4,109.5 363.9,112.1 363.5,114.7 364.3,117.1 366.1,118.9 366.9,120.8 367.0,122.9 366.9,124.9 365.6,127.1 364.5,129.4 363.5,131.8 363.5,134.4 362.7,136.9 363.0,139.0 363.5,141.1 364.0,143.2 363.5,145.4 363.1,147.5 363.7,149.5 364.1,151.6 363.9,153.7 364.4,155.7 363.4,157.9 363.6,160.3 362.7,162.5 362.3,164.8 362.6,167.1 363.5,169.3 363.0,171.7 362.1,174.0 361.0,176.2 360.6,178.5 360.7,180.8 360.1,183.0 359.0,186.0 359.7,187.9 359.5,190.0 359.8,192.0 357.3,194.5 355.0,194.1 352.7,193.5 350.2,194.2 347.9,193.7 345.5,193.8 343.2,192.8 340.9,192.9 338.5,192.8 338.2,195.5 336.8,197.9 335.0,199.0 334.1,200.9 332.5,202.2 330.5,203.3 328.8,204.7 327.4,206.5 326.5,209.0 327.5,211.3 329.1,213.3 330.7,214.7 331.1,216.9 332.5,218.4 334.0,220.5 335.2,222.8 335.9,225.3 337.1,227.1 337.5,229.2 337.6,231.3 337.4,233.8 338.5,236.0 338.5,238.4 339.3,240.7 339.9,242.7 340.3,244.7 341.1,246.6 341.0,249.2 341.1,251.8 339.3,255.2 336.8,256.5 335.1,258.6 331.7,260.3 332.6,262.3 334.2,263.7 334.2,265.9 335.1,268.0 333.6,266.4 332.5,264.6 329.9,262.0 328.2,260.3 326.5,258.6 323.1,257.7 320.6,258.6 320.6,260.9 320.3,263.2 319.7,265.4 319.0,268.0 318.0,270.6 315.4,273.1 313.9,275.1 312.9,277.4 311.1,279.3 310.3,281.7 307.7,284.2 305.8,284.8 303.7,285.0 301.8,285.9 299.4,286.6 297.3,288.0 294.9,288.5 293.2,290.2 294.3,292.1 295.8,293.6 297.6,295.7 299.2,297.9 300.3,300.3 300.0,303.0 297.6,304.3 294.9,304.7 292.8,304.0 290.6,305.0 288.5,304.1 286.4,304.7 284.4,304.3 282.5,303.7 280.4,303.9 279.0,302.4 277.7,300.8 276.1,299.6 274.0,299.2 271.9,299.6 271.2,302.2 270.2,304.7 270.2,307.0 269.2,309.3 269.3,311.6 268.1,313.5 267.0,315.5 265.9,317.5 263.7,320.0 261.7,321.3 260.6,323.5 258.6,324.5 257.3,326.3 255.2,328.6 254.1,330.7 252.4,332.2 250.7,333.7 249.2,335.4 248.0,337.4 246.0,338.7 245.1,340.9 243.2,342.3 241.6,344.0 240.3,345.8 239.9,348.4 238.1,349.9 237.4,352.4 235.9,354.6 234.7,356.8 232.5,357.9 230.1,358.4 227.8,359.3 225.7,360.7 223.5,361.8 221.0,362.3 218.0,363.4 216.5,365.1 214.5,366.0 212.0,367.2 210.3,369.4 207.8,370.7 206.0,372.8 204.3,374.5 202.6,376.2 200.9,379.7 199.2,383.1 197.2,384.3 195.8,386.1 193.2,389.0 191.2,390.5 189.8,392.5 186.4,394.2 183.4,393.3 182.9,391.2 182.9,389.0 185.4,387.6 188.1,386.5 189.9,385.3 191.5,383.9 191.1,381.4 191.5,378.0 194.9,376.1 191.5,376.7 188.9,376.4 186.4,377.1 183.4,376.2 183.8,373.7 187.2,372.4 186.4,369.4 188.1,366.0 189.5,363.9 190.6,361.7 191.7,359.3 193.6,357.5 194.4,355.2 195.8,353.2 196.7,350.6 197.9,348.1 197.3,346.1 195.8,344.6 194.1,343.5 192.8,341.9 191.5,340.4 189.8,339.1 188.1,337.8 185.5,337.8 183.3,338.2 181.2,338.7 178.8,339.1 176.5,338.7 174.9,340.3 173.6,342.1 171.8,345.5 171.1,348.3 169.3,350.6 167.8,352.6 166.7,354.9 165.9,357.7 165.0,360.4 163.1,361.6 160.7,361.8 159.0,363.4 157.0,364.8 154.8,366.0 153.8,364.1 152.2,362.6 151.0,360.4 149.6,358.3 148.2,356.6 147.9,354.5 145.3,354.4 142.8,354.9 141.4,353.2 139.4,352.3 136.0,350.6 133.8,348.9 134.0,346.2 135.1,343.8 136.8,341.2 138.3,339.3 139.1,337.1"/>
<polyline points="132.1,40.2 133.4,41.8 134.7,43.5 136.4,44.8 135.4,47.3 135.6,50.0 134.7,52.5 132.8,54.4 131.3,56.7 133.1,58.5 135.5,59.3 137.6,61.0 139.8,62.7 143.2,61.0 144.9,57.6 148.3,59.0 150.6,60.9 153.5,61.9 154.4,64.2 156.0,66.1 157.0,68.1 156.9,70.5 158.6,72.4 158.6,74.7 159.8,76.5 160.5,78.4 161.6,80.3 162.0,82.4 164.6,82.9 167.1,83.6 169.2,82.6 171.1,81.2 173.1,80.1 175.7,80.4 178.2,79.8 180.3,79.4 182.3,79.1 184.2,78.1 186.7,77.0 189.3,76.4 190.6,74.8 191.1,72.6 192.8,71.3 195.3,69.5 197.6,69.7 199.6,70.9 201.2,72.3 202.9,73.8 204.8,75.0 206.4,76.4 208.4,77.8 209.7,80.0 211.6,81.5 210.7,83.5 210.3,85.7 209.8,87.8 209.8,90.0 208.7,92.7 207.3,95.2 207.1,97.5 205.5,99.3 205.1,101.5 204.7,103.7 203.7,106.2 203.0,108.8 203.8,110.9 203.9,113.1 203.0,115.3 203.9,117.4 205.4,119.8 206.4,122.5 206.1,125.0 206.4,127.6 204.3,128.4 202.2,129.3 201.3,131.5 202.2,134.0 201.3,136.2 200.9,138.5 200.5,140.8 199.8,143.0 199.1,145.5 199.5,148.0 200.7,150.0 200.9,152.8 200.7,155.7 199.5,152.5 198.9,150.5 197.6,148.8 196.4,145.6 194.5,146.3 192.9,148.2 191.3,150.0 190.6,152.0 189.3,153.7 189.0,155.8 187.6,157.5 186.1,159.2 185.1,161.2 183.2,162.6 181.2,164.4 180.1,166.9 178.1,169.0 175.7,170.7 174.2,173.3 171.9,175.1 171.1,177.5 170.7,180.1 173.2,183.2 175.5,184.8 178.2,185.7 180.1,188.9 181.0,191.0 182.6,192.6 184.5,193.2 187.0,190.1 186.3,187.0 190.1,186.6 192.6,188.2 193.2,191.4 190.1,193.2 187.6,194.2 185.1,195.1 183.8,198.3 185.1,201.4 187.6,203.9"/>
<polyline points="187.6,203.9 188.8,203.3 191.3,203.3 193.8,202.6 197.6,201.4 200.1,200.1 200.7,202.2 202.0,203.9 202.6,206.4 203.2,208.9 204.9,211.2 205.7,213.9 206.8,215.9 208.9,217.0 210.9,218.1 212.6,219.6 216.4,218.9 218.4,217.3 220.8,216.4 223.9,218.3 226.0,218.1 227.7,217.0 230.2,215.8 232.7,214.5 234.8,215.8 236.4,217.7 238.8,219.5 241.5,220.8 243.8,220.2 245.8,218.9 248.0,217.7 250.2,216.4 252.6,217.5 255.2,217.7 257.0,219.7 259.0,221.4 260.8,223.6 261.3,226.1 261.6,228.7 264.2,228.8 266.7,229.5 268.7,231.1 271.0,232.1 272.3,234.2 274.4,235.5 276.4,236.9 277.8,238.9 279.1,237.3 279.6,235.2 281.3,233.8 281.8,231.7 282.1,229.5 284.7,227.8 286.4,229.2 287.2,231.3 288.2,234.0 289.8,236.4 290.7,238.5 292.2,240.2 294.1,241.5 295.0,243.4 296.1,245.1 297.5,246.6 300.0,248.3 303.5,246.6 304.2,244.1 304.3,241.5 306.5,240.3 308.6,238.9 310.6,237.4 312.9,236.4 314.6,233.0 317.1,234.7 318.8,232.5 320.6,230.4 321.4,232.8 323.1,234.7 323.8,237.2 325.7,238.9 328.2,239.8 330.8,239.8 333.3,240.5 335.9,240.7 339.3,240.7"/>
<polyline points="187.6,203.9 187.6,206.4 186.8,208.4 185.0,209.5 183.6,211.5 183.2,213.9 182.2,217.5 178.6,216.4 175.6,214.7 173.4,215.4 171.0,215.4 169.0,214.5 166.8,214.0 165.3,217.2 165.6,220.8 167.7,221.7 169.8,222.6 171.1,224.2 172.9,225.2 175.0,228.5 174.7,231.0 175.4,233.5 174.7,235.8 175.2,238.1 175.1,240.4 175.5,243.0 177.1,245.2 177.8,247.5 179.5,249.1 181.1,251.5 181.1,253.5 181.5,255.5 184.3,255.5 187.5,253.5 189.4,251.9 190.7,249.9 192.4,247.9 194.7,246.7 195.5,249.1 196.6,251.4 198.6,253.1 199.2,255.1 201.0,256.3 201.3,258.5 202.6,260.3 204.1,261.9 204.9,264.0 205.8,265.9 204.6,268.3 202.6,269.5 203.4,271.5 206.6,272.7 209.8,273.5"/>
<polyline points="209.8,273.5 210.6,269.9 211.4,269.5 213.8,271.9 215.9,272.5 217.8,273.5 220.0,274.1 221.8,275.5 223.5,277.1 224.2,279.4 225.8,282.2 227.1,280.5 228.1,278.6 229.7,275.1 231.3,274.7 232.2,276.6 232.9,278.6 233.5,281.0 235.3,282.6 236.1,284.9 237.7,286.6 240.0,289.8 241.0,291.9 243.2,293.1 244.1,295.3 244.6,297.3 245.1,299.3 245.8,301.3 247.2,303.7 247.5,306.4 249.2,308.6 250.8,310.9 252.2,312.5 253.6,314.1 254.5,316.0 254.8,318.1 255.9,319.8 256.5,321.8 257.4,324.0 257.3,326.3"/>
<polyline points="209.8,273.5 210.6,275.6 210.2,277.8 209.8,279.8 209.4,281.8 205.8,282.6 203.4,285.0 203.4,287.4 201.0,289.4 197.8,291.0 194.7,289.8 192.7,289.6 190.7,289.4 189.1,290.6 187.5,293.0 185.6,293.7 183.5,293.8 181.9,296.0 179.0,298.5 176.7,300.4 175.2,301.9 173.6,303.1 171.6,303.8 169.8,304.7 168.2,306.1 166.8,307.8 164.9,308.8 163.0,309.8 161.0,311.2 159.5,313.1 157.9,314.9 156.3,316.5 155.4,318.4 154.7,320.5 154.2,322.6 152.8,324.3 152.0,322.1 150.4,320.4 149.3,318.3 147.1,316.6 145.9,314.1 144.6,312.2 142.9,310.8 140.8,309.8 139.5,311.4 137.9,312.7 136.5,314.1 137.6,316.1 138.2,318.3 138.3,320.6 138.5,322.9 139.6,325.0 140.2,327.2 141.1,329.3 140.7,331.4 140.7,333.5 139.1,337.1"/>
</g>
<g font-family="Liberation Serif, Times New Roman, serif" font-weight="bold" font-size="14.6" fill="#000">
<text x="68.2" y="170.4" textLength="99" lengthAdjust="spacingAndGlyphs">Inner Mongolia</text>
<text x="240.5" y="167.6" textLength="83" lengthAdjust="spacingAndGlyphs">Heilongjiang</text>
<text x="237.7" y="261.2" textLength="27.3" lengthAdjust="spacingAndGlyphs">Jilin</text>
<text x="174.2" y="331.9" textLength="57" lengthAdjust="spacingAndGlyphs">Liaoning</text>
</g>
<rect x="45.5" y="17.5" width="336.5" height="403.8" fill="none" stroke="#3a3a3a" stroke-width="1.3"/>
<g font-family="Liberation Serif, Times New Roman, serif" font-weight="bold" font-size="12" fill="#000">
<line x1="70.2" y1="421.3" x2="70.2" y2="424.3" stroke="#404040" stroke-width="1"/>
<text x="70.2" y="436.6" text-anchor="middle">115°E</text>
<line x1="105.0" y1="17.5" x2="105.0" y2="14.5" stroke="#404040" stroke-width="1"/>
<text x="105.0" y="10.9" text-anchor="middle">120°E</text>
<line x1="166.1" y1="421.3" x2="166.1" y2="424.3" stroke="#404040" stroke-width="1"/>
<text x="166.1" y="436.6" text-anchor="middle">120°E</text>
<line x1="181.4" y1="17.5" x2="181.4" y2="14.5" stroke="#404040" stroke-width="1"/>
<text x="181.4" y="10.9" text-anchor="middle">125°E</text>
<line x1="263.5" y1="421.3" x2="263.5" y2="424.3" stroke="#404040" stroke-width="1"/>
<text x="263.5" y="436.6" text-anchor="middle">125°E</text>
<line x1="259.4" y1="17.5" x2="259.4" y2="14.5" stroke="#404040" stroke-width="1"/>
<text x="259.4" y="10.9" text-anchor="middle">130°E</text>
<line x1="362.9" y1="421.3" x2="362.9" y2="424.3" stroke="#404040" stroke-width="1"/>
<text x="362.9" y="436.6" text-anchor="middle">130°E</text>
<line x1="339.5" y1="17.5" x2="339.5" y2="14.5" stroke="#404040" stroke-width="1"/>
<text x="339.5" y="10.9" text-anchor="middle">135°E</text>
<line x1="45.5" y1="380.5" x2="42.5" y2="380.5" stroke="#404040" stroke-width="1"/>
<text transform="translate(38.8,380.5) rotate(-90)" text-anchor="middle">40°N</text>
<line x1="382.0" y1="318.7" x2="385.0" y2="318.7" stroke="#404040" stroke-width="1"/>
<text transform="translate(397.3,318.7) rotate(-90)" text-anchor="middle">40°N</text>
<line x1="45.5" y1="255.3" x2="42.5" y2="255.3" stroke="#404040" stroke-width="1"/>
<text transform="translate(38.8,255.3) rotate(-90)" text-anchor="middle">45°N</text>
<line x1="382.0" y1="188.8" x2="385.0" y2="188.8" stroke="#404040" stroke-width="1"/>
<text transform="translate(397.3,188.8) rotate(-90)" text-anchor="middle">45°N</text>
<line x1="45.5" y1="132.0" x2="42.5" y2="132.0" stroke="#404040" stroke-width="1"/>
<text transform="translate(38.8,132.0) rotate(-90)" text-anchor="middle">50°N</text>
<line x1="382.0" y1="60.0" x2="385.0" y2="60.0" stroke="#404040" stroke-width="1"/>
<text transform="translate(397.3,60.0) rotate(-90)" text-anchor="middle">50°N</text>
</g>
<rect x="49.9" y="383.3" width="56" height="5.4" fill="#000"/>
<rect x="105.9" y="383.7" width="54.8" height="4.8" fill="#fff" stroke="#404040" stroke-width="0.8"/>
<g font-family="Liberation Serif, Times New Roman, serif" font-weight="bold" font-size="12.8" fill="#000">
<text x="46.8" y="376.9">0</text>
<text x="95.5" y="376.9">250</text>
<text x="150.8" y="376.9">500</text>
<text x="164.6" y="388.6">km</text>
</g>
<rect x="225.6" y="375.6" width="28.4" height="15.2" fill="#fff" stroke="#000" stroke-width="1.7"/>
<text x="256.8" y="388.7" font-family="Liberation Serif, Times New Roman, serif" font-weight="bold" font-size="15" textLength="121.7" lengthAdjust="spacingAndGlyphs">Province boundary</text>
<rect x="49.9" y="399.5" width="35.5" height="17.3" fill="#70b074"/>
<text x="86.9" y="413.6" font-family="Liberation Serif, Times New Roman, serif" font-weight="bold" font-size="17.2" fill="#000">CT</text>
<rect x="183.5" y="399.5" width="35.5" height="17.3" fill="#454f8c"/>
<text x="220.5" y="413.6" font-family="Liberation Serif, Times New Roman, serif" font-weight="bold" font-size="17.2" fill="#000">RT</text>
<rect x="316.5" y="399.5" width="35.5" height="17.3" fill="#e60000"/>
<text x="353.5" y="413.6" font-family="Liberation Serif, Times New Roman, serif" font-weight="bold" font-size="17.2" fill="#000">NT</text>
<text x="46.5" y="42.8" font-family="Liberation Sans, Arial, sans-serif" font-size="30.2" fill="#000">(a)</text>
<clipPath id="clipb"><rect x="417.6" y="17.5" width="335.79999999999995" height="403.8"/></clipPath>
<g clip-path="url(#clipb)" fill="none" stroke="#b4b4b4" stroke-width="0.7" stroke-dasharray="1.3 2.2">
<polyline points="458.0,578.1 456.3,561.5 454.7,544.9 453.0,528.3 451.4,511.7 449.7,495.0 448.0,478.4 446.4,461.8 444.7,445.1 443.0,428.5 441.4,411.9 439.7,395.2 438.0,378.6 436.4,362.0 434.7,345.4 433.0,328.9 431.4,312.3 429.7,295.8 428.1,279.3 426.4,262.8 424.8,246.3 423.1,229.9 421.5,213.6 419.9,197.2 418.2,180.9 416.6,164.7 415.0,148.5 413.4,132.4 411.8,116.3 410.2,100.3 408.6,84.4 407.0,68.5 405.4,52.7 403.8,37.0 402.2,21.4 400.7,5.9 399.1,-9.6 397.6,-24.9 396.1,-40.1 394.6,-55.2"/>
<polyline points="560.0,565.3 557.5,548.8 555.0,532.3 552.5,515.8 550.0,499.3 547.5,482.7 545.0,466.2 542.5,449.7 540.0,433.1 537.5,416.6 535.0,400.1 532.5,383.6 530.0,367.1 527.5,350.6 525.0,334.1 522.5,317.6 520.0,301.2 517.6,284.7 515.1,268.3 512.6,252.0 510.1,235.6 507.7,219.3 505.2,203.0 502.7,186.8 500.3,170.6 497.8,154.5 495.4,138.4 493.0,122.4 490.6,106.4 488.2,90.5 485.8,74.7 483.4,58.9 481.0,43.2 478.6,27.6 476.3,12.1 474.0,-3.3 471.6,-18.7 469.3,-33.9 467.0,-49.0 464.8,-64.1"/>
<polyline points="661.2,547.3 657.9,531.0 654.6,514.6 651.3,498.3 647.9,481.9 644.6,465.5 641.3,449.1 637.9,432.8 634.6,416.4 631.3,400.0 628.0,383.6 624.6,367.2 621.3,350.9 618.0,334.5 614.7,318.2 611.3,301.9 608.0,285.6 604.7,269.3 601.4,253.0 598.1,236.8 594.8,220.6 591.5,204.5 588.3,188.3 585.0,172.2 581.7,156.2 578.5,140.2 575.2,124.3 572.0,108.4 568.8,92.6 565.6,76.8 562.4,61.1 559.2,45.5 556.1,29.9 552.9,14.5 549.8,-0.9 546.7,-16.2 543.6,-31.4 540.5,-46.5 537.5,-61.5 534.4,-76.4"/>
<polyline points="761.4,524.3 757.3,508.2 753.1,492.0 749.0,475.8 744.8,459.7 740.7,443.5 736.5,427.3 732.4,411.1 728.2,394.9 724.1,378.7 719.9,362.5 715.8,346.3 711.7,330.1 707.5,314.0 703.4,297.8 699.2,281.7 695.1,265.6 691.0,249.5 686.9,233.4 682.8,217.4 678.7,201.4 674.6,185.4 670.5,169.4 666.4,153.5 662.3,137.7 658.3,121.9 654.2,106.1 650.2,90.4 646.2,74.8 642.2,59.2 638.2,43.7 634.3,28.2 630.3,12.9 626.4,-2.4 622.5,-17.6 618.7,-32.8 614.8,-47.8 611.0,-62.7 607.2,-77.5 603.4,-92.2"/>
<polyline points="860.3,496.3 855.4,480.4 850.4,464.4 845.5,448.5 840.5,432.5 835.6,416.6 830.6,400.6 825.6,384.7 820.7,368.7 815.7,352.7 810.8,336.8 805.8,320.8 800.9,304.9 795.9,288.9 791.0,273.0 786.0,257.1 781.1,241.2 776.1,225.4 771.2,209.5 766.3,193.7 761.4,177.9 756.5,162.2 751.6,146.5 746.8,130.8 741.9,115.1 737.1,99.6 732.2,84.0 727.4,68.6 722.6,53.1 717.9,37.8 713.1,22.5 708.4,7.2 703.7,-7.9 699.0,-23.0 694.3,-38.0 689.7,-52.9 685.1,-67.7 680.5,-82.4 676.0,-97.0 671.5,-111.5"/>
<polyline points="252.9,387.8 271.9,387.7 290.9,387.4 309.9,386.9 329.0,386.3 348.0,385.4 366.9,384.3 385.9,383.1 404.9,381.6 423.8,380.0 442.8,378.1 461.7,376.1 480.6,373.9 499.4,371.4 518.3,368.8 537.1,366.0 555.8,363.0 574.6,359.8 593.3,356.3 612.0,352.8 630.6,349.0 649.2,345.0 667.8,340.8 686.3,336.4 704.7,331.9 723.2,327.1 741.5,322.2 759.8,317.1 778.1,311.8 796.3,306.3 814.5,300.6 832.5,294.7 850.6,288.6 868.5,282.4 886.4,276.0 904.3,269.3 922.0,262.5 939.7,255.5 957.3,248.4 974.9,241.0"/>
<polyline points="253.0,263.1 270.7,263.0 288.5,262.8 306.2,262.3 323.9,261.7 341.6,260.9 359.3,259.9 377.0,258.7 394.7,257.4 412.4,255.8 430.0,254.1 447.6,252.2 465.3,250.1 482.8,247.9 500.4,245.4 517.9,242.8 535.4,240.0 552.9,237.0 570.4,233.8 587.8,230.4 605.1,226.9 622.5,223.2 639.8,219.3 657.0,215.2 674.3,211.0 691.4,206.6 708.6,202.0 725.6,197.2 742.7,192.2 759.6,187.1 776.5,181.8 793.4,176.3 810.2,170.7 827.0,164.9 843.6,158.9 860.3,152.7 876.8,146.3 893.3,139.8 909.7,133.1 926.1,126.3"/>
<polyline points="253.1,140.3 269.6,140.3 286.0,140.0 302.5,139.6 319.0,139.0 335.4,138.3 351.8,137.4 368.3,136.3 384.7,135.0 401.1,133.6 417.5,132.0 433.8,130.2 450.2,128.3 466.5,126.2 482.8,123.9 499.1,121.4 515.3,118.8 531.6,116.1 547.8,113.1 563.9,110.0 580.1,106.7 596.2,103.3 612.2,99.7 628.3,95.9 644.2,91.9 660.2,87.8 676.1,83.6 691.9,79.1 707.7,74.5 723.5,69.8 739.2,64.8 754.9,59.8 770.5,54.5 786.0,49.1 801.5,43.5 816.9,37.8 832.3,31.9 847.6,25.9 862.9,19.7 878.1,13.3"/>
</g>
<g clip-path="url(#clipb)"><path d="M609 119l3-1m-31 6l-1 3m9-3l2 1m-74 0l2 1m8 4l3-1m92 3l2-2m-11 3l2 1m-104 1l3 0m79 0l2 1m36 0l-1 3m-27-1l0 3m-79-2l2-2m150 2l2-2m-76 3l1 3m111-2l1 3m-205-2l2 1m22 0l3 0m74 0l3 0m5 3l3-1m0 1l1 2m86-2l-1 3m-126-2l2-2m11 2l2 1m126-1l-1 3m-119 0l3 1m13-1l2 2m15-2l-1 3m53-3l1 3m-57-2l3 1m-56 0l3-1m25 1l-1 3m-23 0l-1 3m7-3l2 2m20-2l2 1m66-1l1 2m-71-1l2 2m9-2l-1 3m-43-2l0 3m8-3l3 0m23 0l3 0m23 0l2 2m64-2l-1 3m-92-2l2 1m18-1l2 1m13-1l-1 3m-57-2l3 1m29-1l2 2m21-2l0 3m3-2l1 3m-119-2l2 2m41-2l0 3m-4-2l2 1m54-1l1 2m-11-1l2 2m90-2l3 1m-104 0l3 0m-41 1l3 0m36 0l1 3m15-3l1 3m91-3l0 3m-134-2l2-2m55 2l2-2m54 3l2-2m12 2l0 3m-77-2l1 2m15-2l2 1m72-1l0 3m-137-2l3 0m2 0l2-2m24 2l-1 3m31-3l3 0m-37 1l-1 3m30-3l2-2m6 2l2 1m49 0l-1 3m-115-2l2 1m36-1l0 3m-45-2l1 3m12-1l2 2m28-2l3 0m78 0l0 3m12-2l0 3m-172-2l2-2m60 2l-1 3m24-3l2 1m-84 0l2-2m31 2l1 2m18-2l3-1m-44 2l2 2m93-2l1 2m-70-1l1 2m1-1l2-2m5 2l1 2m45-2l3-1m70 1l3 0m-164 1l2-2m61 3l0 3m25-3l-1 3m10-2l3-1m-103 2l2 1m81-1l1 3m-52-2l2-2m8 2l3-1m13 1l2 1m29-1l3 0m-96 1l3 1m67 0l3 0m1 0l2 2m9-2l2-2m6 2l3 1m-2-1l3-1m-82 2l2 1m-6 0l0 3m46-2l3 0m25 0l2 1m-73 0l0 3m21-3l3 0m-34 1l0 3m10-3l3 1m3-1l3 0m2 0l0 3m76-3l2 2m-81-1l1 2m44-1l-1 3m18-3l3 1m-76 0l2-2m74 2l3 1m8-1l1 3m-63-1l2-2m5 2l2 2m15-2l2-2m41 3l2 1m-78 0l2 2m97-2l2-2m-115 3l3 1m66-1l3-1m-1 1l-1 3m9-3l1 2m-10-1l3-1m19 2l-1 3m-42-1l3 1m-6 0l1 3m-40-2l1 2m74-1l3 1m-77 1l1 2m47-2l1 3m13-2l3-1m-71 4l2 1m8-1l3 1m53-1l3 1m-5 0l2 1m-11 0l2 1m-15 0l1 3m-6-2l-1 3m19-2l-1 3m11-2l3 0m-56 1l3 1m44-1l2 1m-19 0l1 3m-27-1l3-1m3 1l2-2m7 3l0 3m34-3l-1 3m-18-2l0 3m-2 0l1 2m11-2l3 1m-29 0l2 1m25-1l2-2m-46 3l2-2m13 2l3-1m36 1l2-2m-23 3l3 0m-23 1l3 0m11 0l3-1m15 2l0 3m21-3l2 1m-65 0l1 2m2-2l0 3m21-3l3 0m28 0l3-1m-105 2l3 1m82-1l3-1m15 1l2 1m-16 0l2 1m-1-1l1 2m-99-1l2-2m48 3l1 3m14-3l2 1m19 1l-1 3m15-3l3 1m-56 0l3 1m31-1l2 2m1-2l1 2m7-2l3-1m1 1l1 2m9-2l2 1m-34 0l3 0m35 0l2 2m5-2l3 0m-33 4l3 0m-4 1l2 1m25 0l3 0m-26 1l1 3m6-2l3-1m0 1l2-2m4 2l2-2m-46 3l0 3m19-3l1 2m23-2l-1 3m13-3l3 0m-54 1l2 1m7-1l3-1m1 1l2 2m10-2l1 2m-1-1l-1 3m9-3l1 3m6-3l2 2m-2-1l0 3m30-3l2-2m-80 4l2-2m11 2l0 3m21-3l2-2m-33 3l3-1m4 1l2 1m19-1l-1 3m20-3l1 2m1-2l2 1m-15 0l3 1m-15 0l0 3m30-3l3 0m4 0l3-1m1 2l1 3m-12-2l2 2m-12-1l1 2m5-2l0 3m-32-2l3 1m5-1l2 1m9-1l2 2m-7-1l2 2m9-2l-1 3m36-1l3 0m-44 1l0 3m-18-2l-1 3m9-3l1 3m8-2l2 1m-6 2l1 2m2-2l1 3m1-2l-1 3m-19-2l3 0m-2 1l2-2m20 2l2 1m-7 0l2-2m-27 23l3 1m-14 0l1 3m1-2l3 0m-16 4l-1 3m14-3l3 1m-14 0l1 2m8-2l1 3m-12-2l1 2m2-1l3 1m-4 1l1 3m1-3l-1 3m2-3l3-1m-8 2l0 3m2-3l2 1m7-1l1 2m-10 0l3 1m-5 0l2 1m0-1l3-1m0 1l2 1m2-1l1 3m4-3l2 2m-19-1l3 1m-1-1l3 1m0-1l2-2m-4 3l2 2m2-2l2 1m-2 0l3 0m-2 0l2 1m5-1l3 0m-16 1l1 2m2-2l1 2m-6-1l2 1m3-1l2 2m1-2l3 1m-6 0l2 1m-3 1l1 3m2-3l2 2m-7-1l1 3m0-3l1 3m9-3l3-1m-13 2l2 2m-3-1l2 1m-1-1l2 2m-1 0l3 1m-2 0l0 3m9 2l2-2m-4 5l3-1m-2 1l3 1m-4 0l0 3m-2-1l1 3m1-1l2 1m20 6l-1 3m-4 2l2 1m-15 5l2-2" fill="none" stroke="#3f923f" stroke-opacity="0.42" stroke-width="1"/>
<path d="M606 110l0 3m20 0l1 3m9 3l3-1m-51 2l1 2m3 9l2-2m14 5l1 3m104-2l-1 3m9-2l-1 3m-125-2l2 1m7-1l0 3m101-3l-1 3m-84-2l1 3m48-2l2 1m46 0l3 1m1 0l2 2m-40-1l2 2m28-2l-1 3m7-3l3 0m-93 1l2 2m53-1l3 1m11 0l3-1m15 1l3 0m-92 1l2-2m-3 3l3 1m-26 0l0 3m24-3l1 3m52-3l-1 3m-86-2l3 1m-8 0l2 2m6-2l1 2m17-2l3-1m65 1l3 0m-1 0l1 2m9-2l0 3m21-3l0 3m-134-2l1 3m119-3l2-2m0 2l-1 3m7-3l2-2m-121 4l1 2m93-2l3 0m1 0l3 0m19 0l2 2m17-2l3 0m-49 1l0 3m-105-2l-1 3m120-3l2 2m-11-1l-1 3m-72-2l3-1m91 1l3-1m-144 2l-1 3m32-3l3-1m90 1l3-1m-44 2l-1 3m40-3l3 0m-7 1l1 2m30 0l0 3m1-3l0 3m-22-2l3 1m21-1l3-1m-90 2l2 2m87-2l3 0m-161 1l1 2m137-1l1 2m-122-1l1 3m2-3l1 2m100-2l1 3m7-3l2-2m3 2l3-1m-88 2l1 2m92-2l2 1m5-1l2 2m-79-1l2-2m34 3l1 2m-97-1l1 3m22-3l3 1m20-1l0 3m29-3l2 2m38-2l2-2m33 2l-1 3m-138-2l2 2m98-2l0 3m5-3l3 1m2-1l1 3m8-3l2-2m-154 3l2 2m25-2l0 3m127-3l1 3m-96-2l0 3m1-2l3 0m-18 1l1 2m31-2l2 1m3-1l3 0m34 0l2 2m22-2l0 3m-94-2l2-2m10 2l2-2m11 2l-1 3m10-3l2-2m-57 3l0 3m42-2l1 3m12-3l3 0m-66 1l-1 3m43-3l1 3m15-3l1 3m4-3l2 2m-56-1l3 1m17-1l2-2m86 2l3-1m-60 2l3 0m-2 0l2 2m-15-1l2-2m-65 3l3-1m21 1l-1 3m47-3l0 3m-86-2l-1 3m57-3l2 1m7-1l0 3m42-3l3 0m-120 1l3 1m98-1l3-1m-43 3l3 0m5 0l3 1m29-1l2 2m-91-1l3-1m51 1l3-1m11 1l-1 3m6-3l3 0m3 0l2-2m2 2l0 3m7-3l2 1m2-1l-1 3m-5-2l0 3m4-3l1 2m-8-1l1 2m3-2l2-2m5 2l2-2m6 2l3 1m-16 0l3 1m-64 0l2 1m19-1l-1 3m13-3l1 2m23-2l3 1m7-1l3-1m-32 2l0 3m9-3l3-1m-2 2l-1 3m11-3l1 3m63-1l1 3m-118-1l2-2m18 2l2 2m28-2l1 2m67-1l0 3m-98-2l3 1m17 2l2 1m53 0l3 0m-69 2l3 1m-13 3l2-2m85 2l2-2m-108 3l3 1m96-1l3 1m-127 1l2-2m114 4l1 2m13-2l1 3m-78-2l3-1m-21 2l3 0m0 0l2-2m-46 3l1 2m46-2l2-2m11 2l1 2m-55 0l2 1m14-1l3 0m18 0l2 1m11 2l2 1m-33 1l2 1m91-1l-1 3m-85-1l2 1m5-1l1 2m-4-1l3 0m36 0l1 2m0 0l0 3m-43-2l2 1m7-1l0 3m18-3l0 3m20-2l3 0m-53 1l1 3m13-2l0 3m1-3l0 3m12-3l2-2m4 2l2 2m-19-1l0 3m1-3l0 3m-63-2l2 1m65 0l2 2m-8-1l1 3m3-3l0 3m23-3l1 2m-43-1l3 1m-1-1l0 3m20-3l2-2m36 2l2 1m-45 0l1 3m3-2l1 2m4-2l1 3m17-3l3-1m3 1l2 2m-38-1l1 3m4-3l1 2m35-1l1 3m-29-2l3-1m21 1l2 1m-40 0l3 0m10 0l1 2m-35-1l2-2m20 2l-1 3m4-3l2 1m32-1l3-1m1 1l-1 3m14-3l-1 3m-44-2l2-2m-1 2l2 1m8-1l3 1m1-1l2-2m14 2l-1 3m-37-2l-1 3m6-3l1 2m-19-1l3 0m7 0l2 2m36-2l3 0m-17 1l1 2m22-2l3-1m-71 2l2 2m23-2l2 2m2-2l0 3m-2-2l2 2m6-2l2-2m17 3l3-1m9 1l2-2m-60 4l-1 3m48-3l1 2m12-2l-1 3m38-2l3-1m-94 2l3-1m18 1l3 0m2 0l3 0m-27 1l1 3m5-3l-1 3m7-3l3 0m0 0l1 3m4-3l2-2m48 2l2 1m-47 0l0 3m4-3l1 3m4-3l2 2m19-2l2-2m-43 3l-1 3m5-3l3-1m25 1l2 2m-42 0l-1 3m9-3l-1 3m10-3l3 0m18 0l3 0m42 0l1 2m-79 0l-1 3m-7-2l2-2m61 2l2 2m-75-1l3 0m18 0l2 1m15-1l3-1m-1 1l0 3m22-3l3 0m36 0l3 0m-105 1l3 1m45 0l1 2m-46 0l-1 3m64-3l3 1m-65 0l3-1m27 4l2-2m45 6l1 3m-73 11l0 3m-1 0l0 3m-12-2l3 1m-4 1l1 2m-6-1l2 1m12 6l2 2m-8 12l1 2m20 15l3-1m-7 12l3 1m-1 1l2-2m-20 5l2-2m-1 4l0 3m-1-1l1 2m-4-1l0 3m8 2l3 1m-17 1l1 2m9-1l2 2" fill="none" stroke="#e01818" stroke-opacity="0.5" stroke-width="1"/></g>
<ellipse cx="564.1" cy="315.0" rx="4.2" ry="10" fill="url(#gblob)"/>
<g fill="none" stroke="#000" stroke-width="1.45" stroke-linejoin="round">
<polygon points="511.2,337.1 509.1,336.3 507.0,336.7 504.9,335.9 502.7,336.3 500.4,336.7 498.0,336.9 495.8,338.0 495.5,335.9 494.7,334.0 494.1,332.0 492.4,330.6 491.5,328.6 492.4,325.2 491.2,322.7 490.7,320.0 488.9,318.9 487.3,317.5 486.5,315.3 485.6,313.2 484.3,311.4 482.3,310.2 481.3,308.1 479.4,308.9 477.3,308.6 475.3,308.9 473.6,310.0 472.2,311.5 470.4,312.4 468.5,313.2 465.1,314.9 463.8,313.1 462.4,311.3 460.8,309.8 459.9,307.6 460.0,305.2 459.1,303.0 457.5,301.5 456.5,299.5 455.5,297.6 454.0,296.1 455.8,293.8 456.5,291.0 457.4,288.9 458.2,286.7 459.4,284.2 461.6,282.5 462.6,280.4 463.4,278.2 463.8,276.0 463.3,273.6 464.2,271.4 466.1,270.2 467.6,268.5 469.7,269.5 471.9,269.1 473.6,270.8 474.5,273.1 477.0,270.5 479.1,268.7 481.3,267.1 482.9,265.9 483.9,264.0 485.6,262.8 487.6,262.2 488.9,260.4 490.7,259.4 492.8,258.0 495.0,256.7 496.7,254.3 497.5,251.6 497.4,249.3 497.4,246.9 498.4,244.7 498.2,242.1 497.5,239.6 498.6,237.2 498.4,234.5 499.4,232.2 500.9,230.2 503.3,228.4 506.1,227.6 506.3,225.5 506.9,223.4 506.7,221.1 505.7,219.1 505.4,217.1 505.0,215.1 505.2,213.1 506.6,211.2 506.9,208.8 506.7,206.7 506.1,204.6 504.9,202.4 503.5,200.3 502.6,197.5 500.9,195.2 498.7,193.4 497.5,190.9 495.8,189.4 494.5,187.6 492.4,186.6 490.5,185.4 489.3,183.4 487.3,182.4 485.6,180.6 483.1,180.4 481.3,178.9 479.2,177.1 477.0,175.5 475.0,175.3 473.1,174.3 471.0,174.3 468.7,174.7 466.4,174.7 464.2,175.5 462.5,176.9 461.6,178.9 459.9,180.6 459.0,182.7 458.2,184.9 455.9,183.5 454.0,181.5 451.5,180.4 448.8,180.1 446.8,180.6 444.9,181.4 442.9,181.8 440.5,183.1 437.7,183.2 436.1,185.0 434.3,186.6 432.6,185.3 430.9,184.1 429.2,182.4 427.5,180.7 427.3,178.1 426.6,175.5 428.7,174.2 430.0,172.1 430.1,169.8 430.0,167.6 430.0,165.3 430.8,163.1 432.6,161.4 433.5,159.3 434.7,157.3 434.8,155.1 435.9,153.1 436.0,150.8 436.2,148.5 437.2,146.5 437.7,144.3 438.6,142.2 438.9,139.9 440.3,137.9 439.9,135.4 441.1,133.3 442.9,134.5 445.2,134.1 447.1,134.9 448.8,136.2 450.7,136.8 452.8,136.8 454.8,137.1 457.0,137.4 459.1,137.9 461.2,136.1 463.4,134.5 465.3,132.6 466.8,130.3 468.7,129.3 470.6,128.3 471.9,126.5 474.4,125.3 477.0,124.3 478.7,122.6 480.3,120.8 480.4,118.2 480.3,115.7 478.6,114.8 479.0,112.7 479.3,110.7 480.3,108.8 481.4,106.8 481.8,104.5 482.4,102.3 483.7,100.3 484.6,98.3 484.4,96.0 484.3,93.8 485.4,91.8 485.7,89.4 486.0,87.1 487.1,84.9 488.8,81.5 490.9,80.3 492.7,78.5 494.8,77.2 495.2,75.0 496.1,73.1 497.4,71.3 496.5,68.8 496.5,66.1 496.3,63.3 494.8,61.0 491.4,59.3 489.3,60.2 487.1,60.7 483.7,59.3 483.7,55.9 485.0,54.3 486.1,52.6 486.5,50.4 488.0,49.0 489.4,47.4 491.0,45.9 492.1,44.1 493.1,42.2 495.3,42.3 497.4,41.4 499.7,40.9 502.0,40.9 504.2,40.2 506.1,38.3 508.5,37.1 510.5,35.5 513.2,35.4 515.3,34.0 517.6,34.0 519.9,33.5 522.1,32.8 524.9,32.3 527.3,30.6 529.6,30.3 531.7,29.2 534.1,29.4 536.4,29.9 538.5,31.0 540.9,31.1 543.5,31.6 546.1,32.0 548.0,33.3 550.3,33.7 552.8,35.0 555.5,35.7 558.0,32.8 560.3,32.4 562.6,32.9 564.9,33.3 566.9,35.3 569.1,37.1 570.8,38.2 572.5,39.5 574.3,40.5 576.1,41.8 577.0,44.0 578.5,45.6 580.0,47.3 581.8,48.7 582.8,50.8 584.1,53.2 584.5,55.9 585.6,57.8 587.6,59.1 588.8,61.0 589.9,62.7 590.5,64.8 592.2,66.1 594.0,68.3 594.7,71.1 596.1,73.2 597.2,75.4 598.8,77.6 600.6,79.6 602.4,81.7 604.1,83.9 604.6,86.1 605.7,87.9 606.6,89.9 608.1,91.8 610.0,93.3 611.7,96.7 612.0,98.7 613.0,100.6 612.6,102.7 614.0,104.7 616.0,106.1 617.9,106.9 620.1,106.7 622.0,107.8 624.1,107.5 626.0,106.7 628.0,106.1 631.0,105.5 634.0,106.1 636.0,106.5 637.9,107.5 639.9,107.8 642.5,107.1 645.1,106.1 646.7,107.6 648.5,108.7 650.1,110.1 651.9,111.3 654.5,112.4 657.0,113.8 659.4,115.2 662.1,115.5 664.7,115.2 667.3,114.7 667.5,117.0 667.6,119.3 668.1,121.5 669.4,123.0 671.3,124.0 672.4,125.8 672.6,127.8 672.5,129.9 673.3,131.8 674.7,133.4 675.8,135.2 677.1,137.3 679.2,138.6 680.9,140.3 683.3,140.0 685.2,138.6 687.2,138.3 689.1,137.5 691.2,137.7 693.7,137.4 695.9,136.6 698.0,135.2 700.1,133.7 702.6,133.4 704.9,132.6 705.0,130.5 705.9,128.6 706.6,126.6 708.0,124.3 710.0,122.4 711.5,120.9 713.3,119.9 715.1,118.9 717.0,118.1 718.7,116.9 720.2,115.5 722.4,114.6 723.3,112.3 725.4,111.3 727.0,110.0 728.7,108.8 730.5,107.8 733.2,107.2 735.6,105.8 737.6,105.1 739.4,104.1 740.4,106.1 738.4,107.7 736.5,109.5 736.0,112.1 735.6,114.7 736.4,117.1 738.2,118.9 739.0,120.8 739.1,122.9 739.0,124.9 737.7,127.1 736.6,129.4 735.6,131.8 735.6,134.4 734.8,136.9 735.1,139.0 735.6,141.1 736.1,143.2 735.6,145.4 735.2,147.5 735.8,149.5 736.2,151.6 736.0,153.7 736.5,155.7 735.5,157.9 735.7,160.3 734.8,162.5 734.4,164.8 734.7,167.1 735.6,169.3 735.1,171.7 734.2,174.0 733.1,176.2 732.7,178.5 732.8,180.8 732.2,183.0 731.1,186.0 731.8,187.9 731.6,190.0 731.9,192.0 729.4,194.5 727.1,194.1 724.8,193.5 722.3,194.2 720.0,193.7 717.6,193.8 715.3,192.8 713.0,192.9 710.6,192.8 710.3,195.5 708.9,197.9 707.1,199.0 706.2,200.9 704.6,202.2 702.6,203.3 700.9,204.7 699.5,206.5 698.6,209.0 699.6,211.3 701.2,213.3 702.8,214.7 703.2,216.9 704.6,218.4 706.1,220.5 707.3,222.8 708.0,225.3 709.2,227.1 709.6,229.2 709.7,231.3 709.5,233.8 710.6,236.0 710.6,238.4 711.4,240.7 712.0,242.7 712.4,244.7 713.2,246.6 713.1,249.2 713.2,251.8 711.4,255.2 708.9,256.5 707.2,258.6 703.8,260.3 704.7,262.3 706.3,263.7 706.3,265.9 707.2,268.0 705.7,266.4 704.6,264.6 702.0,262.0 700.3,260.3 698.6,258.6 695.2,257.7 692.7,258.6 692.7,260.9 692.4,263.2 691.8,265.4 691.1,268.0 690.1,270.6 687.5,273.1 686.0,275.1 685.0,277.4 683.2,279.3 682.4,281.7 679.8,284.2 677.9,284.8 675.8,285.0 673.9,285.9 671.5,286.6 669.4,288.0 667.0,288.5 665.3,290.2 666.4,292.1 667.9,293.6 669.7,295.7 671.3,297.9 672.4,300.3 672.1,303.0 669.7,304.3 667.0,304.7 664.9,304.0 662.8,305.0 660.6,304.1 658.5,304.7 656.5,304.3 654.6,303.7 652.5,303.9 651.1,302.4 649.8,300.8 648.2,299.6 646.1,299.2 644.0,299.6 643.3,302.2 642.3,304.7 642.3,307.0 641.3,309.3 641.4,311.6 640.2,313.5 639.1,315.5 638.0,317.5 635.8,320.0 633.8,321.3 632.7,323.5 630.7,324.5 629.4,326.3 627.3,328.6 626.2,330.7 624.5,332.2 622.8,333.7 621.3,335.4 620.1,337.4 618.1,338.7 617.2,340.9 615.3,342.3 613.7,344.0 612.4,345.8 612.0,348.4 610.2,349.9 609.5,352.4 608.0,354.6 606.8,356.8 604.6,357.9 602.2,358.4 599.9,359.3 597.8,360.7 595.6,361.8 593.1,362.3 590.1,363.4 588.6,365.1 586.6,366.0 584.1,367.2 582.4,369.4 579.9,370.7 578.1,372.8 576.4,374.5 574.7,376.2 573.0,379.7 571.3,383.1 569.3,384.3 567.9,386.1 565.3,389.0 563.3,390.5 561.9,392.5 558.5,394.2 555.5,393.3 555.0,391.2 555.0,389.0 557.5,387.6 560.2,386.5 562.0,385.3 563.6,383.9 563.2,381.4 563.6,378.0 567.0,376.1 563.6,376.7 561.0,376.4 558.5,377.1 555.5,376.2 555.9,373.7 559.3,372.4 558.5,369.4 560.2,366.0 561.6,363.9 562.7,361.7 563.8,359.3 565.7,357.5 566.5,355.2 567.9,353.2 568.8,350.6 570.0,348.1 569.4,346.1 567.9,344.6 566.2,343.5 564.9,341.9 563.6,340.4 561.9,339.1 560.2,337.8 557.6,337.8 555.4,338.2 553.3,338.7 551.0,339.1 548.6,338.7 547.0,340.3 545.7,342.1 543.9,345.5 543.2,348.3 541.4,350.6 539.9,352.6 538.8,354.9 538.0,357.7 537.1,360.4 535.2,361.6 532.8,361.8 531.1,363.4 529.1,364.8 526.9,366.0 525.9,364.1 524.3,362.6 523.1,360.4 521.7,358.3 520.3,356.6 520.0,354.5 517.4,354.4 514.9,354.9 513.5,353.2 511.5,352.3 508.1,350.6 505.9,348.9 506.1,346.2 507.2,343.8 508.9,341.2 510.4,339.3 511.2,337.1"/>
<polyline points="504.2,40.2 505.5,41.8 506.8,43.5 508.5,44.8 507.5,47.3 507.7,50.0 506.8,52.5 504.9,54.4 503.4,56.7 505.2,58.5 507.6,59.3 509.7,61.0 511.9,62.7 515.3,61.0 517.0,57.6 520.4,59.0 522.7,60.9 525.6,61.9 526.5,64.2 528.1,66.1 529.1,68.1 529.0,70.5 530.7,72.4 530.7,74.7 531.9,76.5 532.6,78.4 533.7,80.3 534.1,82.4 536.7,82.9 539.2,83.6 541.3,82.6 543.2,81.2 545.2,80.1 547.8,80.4 550.3,79.8 552.4,79.4 554.4,79.1 556.3,78.1 558.8,77.0 561.4,76.4 562.7,74.8 563.2,72.6 564.9,71.3 567.4,69.5 569.7,69.7 571.7,70.9 573.3,72.3 575.0,73.8 576.9,75.0 578.5,76.4 580.5,77.8 581.8,80.0 583.7,81.5 582.8,83.5 582.4,85.7 581.9,87.8 581.9,90.0 580.8,92.7 579.4,95.2 579.2,97.5 577.6,99.3 577.2,101.5 576.8,103.7 575.8,106.2 575.1,108.8 575.9,110.9 576.0,113.1 575.1,115.3 576.0,117.4 577.5,119.8 578.5,122.5 578.2,125.0 578.5,127.6 576.4,128.4 574.3,129.3 573.4,131.5 574.3,134.0 573.4,136.2 573.0,138.5 572.6,140.8 571.9,143.0 571.2,145.5 571.6,148.0 572.8,150.0 573.0,152.8 572.8,155.7 571.6,152.5 571.0,150.5 569.7,148.8 568.5,145.6 566.6,146.3 565.0,148.2 563.4,150.0 562.7,152.0 561.4,153.7 561.1,155.8 559.7,157.5 558.2,159.2 557.2,161.2 555.3,162.6 553.3,164.4 552.2,166.9 550.2,169.0 547.8,170.7 546.3,173.3 544.0,175.1 543.2,177.5 542.8,180.1 545.3,183.2 547.6,184.8 550.3,185.7 552.2,188.9 553.1,191.0 554.7,192.6 556.6,193.2 559.1,190.1 558.4,187.0 562.2,186.6 564.7,188.2 565.3,191.4 562.2,193.2 559.7,194.2 557.2,195.1 555.9,198.3 557.2,201.4 559.7,203.9"/>
<polyline points="559.7,203.9 560.9,203.3 563.4,203.3 565.9,202.6 569.7,201.4 572.2,200.1 572.8,202.2 574.1,203.9 574.7,206.4 575.3,208.9 577.0,211.2 577.8,213.9 578.9,215.9 581.0,217.0 583.0,218.1 584.7,219.6 588.5,218.9 590.5,217.3 592.9,216.4 596.0,218.3 598.1,218.1 599.8,217.0 602.3,215.8 604.8,214.5 606.9,215.8 608.5,217.7 610.9,219.5 613.6,220.8 615.9,220.2 617.9,218.9 620.1,217.7 622.3,216.4 624.7,217.5 627.3,217.7 629.1,219.7 631.1,221.4 632.9,223.6 633.4,226.1 633.7,228.7 636.3,228.8 638.8,229.5 640.8,231.1 643.1,232.1 644.4,234.2 646.5,235.5 648.5,236.9 649.9,238.9 651.2,237.3 651.7,235.2 653.4,233.8 653.9,231.7 654.2,229.5 656.8,227.8 658.5,229.2 659.3,231.3 660.3,234.0 661.9,236.4 662.8,238.5 664.3,240.2 666.2,241.5 667.1,243.4 668.2,245.1 669.6,246.6 672.1,248.3 675.6,246.6 676.3,244.1 676.4,241.5 678.6,240.3 680.7,238.9 682.7,237.4 685.0,236.4 686.7,233.0 689.2,234.7 690.9,232.5 692.7,230.4 693.5,232.8 695.2,234.7 695.9,237.2 697.8,238.9 700.3,239.8 702.9,239.8 705.4,240.5 708.0,240.7 711.4,240.7"/>
<polyline points="559.7,203.9 559.7,206.4 558.9,208.4 557.1,209.5 555.7,211.5 555.3,213.9 554.3,217.5 550.7,216.4 547.7,214.7 545.5,215.4 543.1,215.4 541.1,214.5 538.9,214.0 537.4,217.2 537.7,220.8 539.8,221.7 541.9,222.6 543.2,224.2 545.0,225.2 547.1,228.5 546.8,231.0 547.5,233.5 546.8,235.8 547.3,238.1 547.2,240.4 547.6,243.0 549.2,245.2 549.9,247.5 551.6,249.1 553.2,251.5 553.2,253.5 553.6,255.5 556.4,255.5 559.6,253.5 561.5,251.9 562.8,249.9 564.5,247.9 566.8,246.7 567.6,249.1 568.7,251.4 570.7,253.1 571.3,255.1 573.1,256.3 573.4,258.5 574.7,260.3 576.2,261.9 577.0,264.0 577.9,265.9 576.7,268.3 574.7,269.5 575.5,271.5 578.7,272.7 581.9,273.5"/>
<polyline points="581.9,273.5 582.7,269.9 583.5,269.5 585.9,271.9 588.0,272.5 589.9,273.5 592.1,274.1 593.9,275.5 595.6,277.1 596.3,279.4 597.9,282.2 599.2,280.5 600.2,278.6 601.8,275.1 603.4,274.7 604.3,276.6 605.0,278.6 605.6,281.0 607.4,282.6 608.2,284.9 609.8,286.6 612.1,289.8 613.1,291.9 615.3,293.1 616.2,295.3 616.7,297.3 617.2,299.3 617.9,301.3 619.3,303.7 619.6,306.4 621.3,308.6 622.9,310.9 624.3,312.5 625.7,314.1 626.6,316.0 626.9,318.1 628.0,319.8 628.6,321.8 629.5,324.0 629.4,326.3"/>
<polyline points="581.9,273.5 582.7,275.6 582.3,277.8 581.9,279.8 581.5,281.8 577.9,282.6 575.5,285.0 575.5,287.4 573.1,289.4 569.9,291.0 566.8,289.8 564.8,289.6 562.8,289.4 561.2,290.6 559.6,293.0 557.7,293.7 555.6,293.8 554.0,296.0 551.1,298.5 548.8,300.4 547.3,301.9 545.7,303.1 543.7,303.8 541.9,304.7 540.3,306.1 538.9,307.8 537.0,308.8 535.1,309.8 533.1,311.2 531.6,313.1 530.0,314.9 528.4,316.5 527.5,318.4 526.8,320.5 526.3,322.6 524.9,324.3 524.1,322.1 522.5,320.4 521.4,318.3 519.2,316.6 518.0,314.1 516.7,312.2 515.0,310.8 512.9,309.8 511.6,311.4 510.0,312.7 508.6,314.1 509.7,316.1 510.3,318.3 510.4,320.6 510.6,322.9 511.7,325.0 512.3,327.2 513.2,329.3 512.8,331.4 512.8,333.5 511.2,337.1"/>
</g>
<g font-family="Liberation Serif, Times New Roman, serif" font-weight="bold" font-size="14.6" fill="#000">
<text x="440.3" y="170.4" textLength="99" lengthAdjust="spacingAndGlyphs">Inner Mongolia</text>
<text x="612.6" y="167.6" textLength="83" lengthAdjust="spacingAndGlyphs">Heilongjiang</text>
<text x="609.8" y="261.2" textLength="27.3" lengthAdjust="spacingAndGlyphs">Jilin</text>
<text x="546.3" y="331.9" textLength="57" lengthAdjust="spacingAndGlyphs">Liaoning</text>
</g>
<rect x="417.6" y="17.5" width="335.79999999999995" height="403.8" fill="none" stroke="#3a3a3a" stroke-width="1.3"/>
<g font-family="Liberation Serif, Times New Roman, serif" font-weight="bold" font-size="12" fill="#000">
<line x1="442.3" y1="421.3" x2="442.3" y2="424.3" stroke="#404040" stroke-width="1"/>
<text x="442.3" y="436.6" text-anchor="middle">115°E</text>
<line x1="477.1" y1="17.5" x2="477.1" y2="14.5" stroke="#404040" stroke-width="1"/>
<text x="477.1" y="10.9" text-anchor="middle">120°E</text>
<line x1="538.2" y1="421.3" x2="538.2" y2="424.3" stroke="#404040" stroke-width="1"/>
<text x="538.2" y="436.6" text-anchor="middle">120°E</text>
<line x1="553.5" y1="17.5" x2="553.5" y2="14.5" stroke="#404040" stroke-width="1"/>
<text x="553.5" y="10.9" text-anchor="middle">125°E</text>
<line x1="635.6" y1="421.3" x2="635.6" y2="424.3" stroke="#404040" stroke-width="1"/>
<text x="635.6" y="436.6" text-anchor="middle">125°E</text>
<line x1="631.5" y1="17.5" x2="631.5" y2="14.5" stroke="#404040" stroke-width="1"/>
<text x="631.5" y="10.9" text-anchor="middle">130°E</text>
<line x1="735.0" y1="421.3" x2="735.0" y2="424.3" stroke="#404040" stroke-width="1"/>
<text x="735.0" y="436.6" text-anchor="middle">130°E</text>
<line x1="711.6" y1="17.5" x2="711.6" y2="14.5" stroke="#404040" stroke-width="1"/>
<text x="711.6" y="10.9" text-anchor="middle">135°E</text>
<line x1="417.6" y1="380.5" x2="414.6" y2="380.5" stroke="#404040" stroke-width="1"/>
<text transform="translate(410.9,380.5) rotate(-90)" text-anchor="middle">40°N</text>
<line x1="753.4" y1="318.9" x2="756.4" y2="318.9" stroke="#404040" stroke-width="1"/>
<text transform="translate(768.7,318.9) rotate(-90)" text-anchor="middle">40°N</text>
<line x1="417.6" y1="255.3" x2="414.6" y2="255.3" stroke="#404040" stroke-width="1"/>
<text transform="translate(410.9,255.3) rotate(-90)" text-anchor="middle">45°N</text>
<line x1="753.4" y1="189.0" x2="756.4" y2="189.0" stroke="#404040" stroke-width="1"/>
<text transform="translate(768.7,189.0) rotate(-90)" text-anchor="middle">45°N</text>
<line x1="417.6" y1="132.0" x2="414.6" y2="132.0" stroke="#404040" stroke-width="1"/>
<text transform="translate(410.9,132.0) rotate(-90)" text-anchor="middle">50°N</text>
<line x1="753.4" y1="60.2" x2="756.4" y2="60.2" stroke="#404040" stroke-width="1"/>
<text transform="translate(768.7,60.2) rotate(-90)" text-anchor="middle">50°N</text>
</g>
<rect x="422.0" y="383.3" width="56" height="5.4" fill="#000"/>
<rect x="478.0" y="383.7" width="54.8" height="4.8" fill="#fff" stroke="#404040" stroke-width="0.8"/>
<g font-family="Liberation Serif, Times New Roman, serif" font-weight="bold" font-size="12.8" fill="#000">
<text x="418.9" y="376.9">0</text>
<text x="467.6" y="376.9">250</text>
<text x="522.9" y="376.9">500</text>
<text x="536.7" y="388.6">km</text>
</g>
<rect x="597.7" y="375.6" width="28.4" height="15.2" fill="#fff" stroke="#000" stroke-width="1.7"/>
<text x="628.9" y="388.7" font-family="Liberation Serif, Times New Roman, serif" font-weight="bold" font-size="15" textLength="121.7" lengthAdjust="spacingAndGlyphs">Province boundary</text>
<rect x="422.0" y="399.5" width="35.5" height="17.3" fill="#70b074"/>
<text x="459.0" y="413.6" font-family="Liberation Serif, Times New Roman, serif" font-weight="bold" font-size="17.2" fill="#000">CT</text>
<rect x="555.6" y="399.5" width="35.5" height="17.3" fill="#454f8c"/>
<text x="592.6" y="413.6" font-family="Liberation Serif, Times New Roman, serif" font-weight="bold" font-size="17.2" fill="#000">RT</text>
<rect x="688.6" y="399.5" width="35.5" height="17.3" fill="#e60000"/>
<text x="725.6" y="413.6" font-family="Liberation Serif, Times New Roman, serif" font-weight="bold" font-size="17.2" fill="#000">NT</text>
<text x="418.6" y="42.8" font-family="Liberation Sans, Arial, sans-serif" font-size="30.2" fill="#000">(b)</text>
<clipPath id="clipc"><rect x="789.0" y="17.5" width="336.5999999999999" height="403.8"/></clipPath>
<g clip-path="url(#clipc)" fill="none" stroke="#b4b4b4" stroke-width="0.7" stroke-dasharray="1.3 2.2">
<polyline points="829.4,578.1 827.7,561.5 826.1,544.9 824.4,528.3 822.8,511.7 821.1,495.0 819.4,478.4 817.8,461.8 816.1,445.1 814.4,428.5 812.8,411.9 811.1,395.2 809.4,378.6 807.8,362.0 806.1,345.4 804.4,328.9 802.8,312.3 801.1,295.8 799.5,279.3 797.8,262.8 796.2,246.3 794.5,229.9 792.9,213.6 791.3,197.2 789.6,180.9 788.0,164.7 786.4,148.5 784.8,132.4 783.2,116.3 781.6,100.3 780.0,84.4 778.4,68.5 776.8,52.7 775.2,37.0 773.6,21.4 772.1,5.9 770.5,-9.6 769.0,-24.9 767.5,-40.1 766.0,-55.2"/>
<polyline points="931.4,565.3 928.9,548.8 926.4,532.3 923.9,515.8 921.4,499.3 918.9,482.7 916.4,466.2 913.9,449.7 911.4,433.1 908.9,416.6 906.4,400.1 903.9,383.6 901.4,367.1 898.9,350.6 896.4,334.1 893.9,317.6 891.4,301.2 889.0,284.7 886.5,268.3 884.0,252.0 881.5,235.6 879.1,219.3 876.6,203.0 874.1,186.8 871.7,170.6 869.2,154.5 866.8,138.4 864.4,122.4 862.0,106.4 859.6,90.5 857.2,74.7 854.8,58.9 852.4,43.2 850.0,27.6 847.7,12.1 845.4,-3.3 843.0,-18.7 840.7,-33.9 838.4,-49.0 836.2,-64.1"/>
<polyline points="1032.6,547.3 1029.3,531.0 1026.0,514.6 1022.7,498.3 1019.3,481.9 1016.0,465.5 1012.7,449.1 1009.3,432.8 1006.0,416.4 1002.7,400.0 999.4,383.6 996.0,367.2 992.7,350.9 989.4,334.5 986.1,318.2 982.7,301.9 979.4,285.6 976.1,269.3 972.8,253.0 969.5,236.8 966.2,220.6 962.9,204.5 959.7,188.3 956.4,172.2 953.1,156.2 949.9,140.2 946.6,124.3 943.4,108.4 940.2,92.6 937.0,76.8 933.8,61.1 930.6,45.5 927.5,29.9 924.3,14.5 921.2,-0.9 918.1,-16.2 915.0,-31.4 911.9,-46.5 908.9,-61.5 905.8,-76.4"/>
<polyline points="1132.8,524.3 1128.7,508.2 1124.5,492.0 1120.4,475.8 1116.2,459.7 1112.1,443.5 1107.9,427.3 1103.8,411.1 1099.6,394.9 1095.5,378.7 1091.3,362.5 1087.2,346.3 1083.1,330.1 1078.9,314.0 1074.8,297.8 1070.6,281.7 1066.5,265.6 1062.4,249.5 1058.3,233.4 1054.2,217.4 1050.1,201.4 1046.0,185.4 1041.9,169.4 1037.8,153.5 1033.7,137.7 1029.7,121.9 1025.6,106.1 1021.6,90.4 1017.6,74.8 1013.6,59.2 1009.6,43.7 1005.7,28.2 1001.7,12.9 997.8,-2.4 993.9,-17.6 990.1,-32.8 986.2,-47.8 982.4,-62.7 978.6,-77.5 974.8,-92.2"/>
<polyline points="1231.7,496.3 1226.8,480.4 1221.8,464.4 1216.9,448.5 1211.9,432.5 1207.0,416.6 1202.0,400.6 1197.0,384.7 1192.1,368.7 1187.1,352.7 1182.2,336.8 1177.2,320.8 1172.3,304.9 1167.3,288.9 1162.4,273.0 1157.4,257.1 1152.5,241.2 1147.5,225.4 1142.6,209.5 1137.7,193.7 1132.8,177.9 1127.9,162.2 1123.0,146.5 1118.2,130.8 1113.3,115.1 1108.5,99.6 1103.6,84.0 1098.8,68.6 1094.0,53.1 1089.3,37.8 1084.5,22.5 1079.8,7.2 1075.1,-7.9 1070.4,-23.0 1065.7,-38.0 1061.1,-52.9 1056.5,-67.7 1051.9,-82.4 1047.4,-97.0 1042.9,-111.5"/>
<polyline points="624.3,387.8 643.3,387.7 662.3,387.4 681.3,386.9 700.4,386.3 719.4,385.4 738.3,384.3 757.3,383.1 776.3,381.6 795.2,380.0 814.2,378.1 833.1,376.1 852.0,373.9 870.8,371.4 889.7,368.8 908.5,366.0 927.2,363.0 946.0,359.8 964.7,356.3 983.4,352.8 1002.0,349.0 1020.6,345.0 1039.2,340.8 1057.7,336.4 1076.1,331.9 1094.6,327.1 1112.9,322.2 1131.2,317.1 1149.5,311.8 1167.7,306.3 1185.9,300.6 1203.9,294.7 1222.0,288.6 1239.9,282.4 1257.8,276.0 1275.7,269.3 1293.4,262.5 1311.1,255.5 1328.7,248.4 1346.3,241.0"/>
<polyline points="624.4,263.1 642.1,263.0 659.9,262.8 677.6,262.3 695.3,261.7 713.0,260.9 730.7,259.9 748.4,258.7 766.1,257.4 783.8,255.8 801.4,254.1 819.0,252.2 836.7,250.1 854.2,247.9 871.8,245.4 889.3,242.8 906.8,240.0 924.3,237.0 941.8,233.8 959.2,230.4 976.5,226.9 993.9,223.2 1011.2,219.3 1028.4,215.2 1045.7,211.0 1062.8,206.6 1080.0,202.0 1097.0,197.2 1114.1,192.2 1131.0,187.1 1147.9,181.8 1164.8,176.3 1181.6,170.7 1198.4,164.9 1215.0,158.9 1231.7,152.7 1248.2,146.3 1264.7,139.8 1281.1,133.1 1297.5,126.3"/>
<polyline points="624.5,140.3 641.0,140.3 657.4,140.0 673.9,139.6 690.4,139.0 706.8,138.3 723.2,137.4 739.7,136.3 756.1,135.0 772.5,133.6 788.9,132.0 805.2,130.2 821.6,128.3 837.9,126.2 854.2,123.9 870.5,121.4 886.7,118.8 903.0,116.1 919.2,113.1 935.3,110.0 951.5,106.7 967.6,103.3 983.6,99.7 999.7,95.9 1015.6,91.9 1031.6,87.8 1047.5,83.6 1063.3,79.1 1079.1,74.5 1094.9,69.8 1110.6,64.8 1126.3,59.8 1141.9,54.5 1157.4,49.1 1172.9,43.5 1188.3,37.8 1203.7,31.9 1219.0,25.9 1234.3,19.7 1249.5,13.3"/>
</g>
<g clip-path="url(#clipc)"><path d="M981 108l3 0m-24 4l3-1m16 5l3 1m11 2l2 2m-10-1l1 3m-110 0l-1 3m78 3l3 0m9 2l3-1m8 1l2-2m111 2l0 3m-95-1l-1 3m87-3l-1 3m-133-1l3 1m-32 1l1 2m-35-1l2 2m191-2l3 0m-192 1l2 1m15 0l1 3m72-3l2 1m73-1l0 3m-97-1l1 3m15-3l1 2m18-1l3 0m-108 1l3 1m100-1l2-2m28 2l3 1m-121 0l3 0m89 0l3-1m0 1l2-2m68 2l3 0m-128 1l2 1m13-1l-1 3m82-3l0 3m-152-2l3-1m190 1l3 0m-1 0l2-2m-174 3l2 1m3 0l2-2m41 2l3 0m26 0l3-1m-97 2l0 3m56-3l2 2m118-2l3 1m11-1l2 1m-132 1l2 1m30-1l2-2m8 2l3 0m3 0l3-1m1 1l3 1m84-1l2 1m-189 1l1 2m55-2l1 3m61-3l-1 3m-137-2l2 2m22-2l0 3m33-3l3-1m20 1l1 2m92-1l1 2m24-2l3 1m-194 0l-1 3m18-2l2-2m89 2l1 2m-83-1l0 3m39-3l2 1m55-1l2 1m-1-1l3 1m-46 0l1 2m-14-1l-1 3m3-3l-1 3m25-3l3 1m-48 0l3 1m19-1l2-2m31 2l3 0m26 0l2 2m35-2l0 3m-39-2l3-1m-75 2l0 3m22-3l1 3m31-3l0 3m21-3l3-1m72 1l1 3m-197-2l2 2m49-2l1 3m-13-2l2 2m129-2l2 2m5-2l2 2m-94-1l2-2m36 2l3-1m30 1l1 3m-103-2l3 0m29 0l0 3m69-3l1 3m7-3l2 2m28-2l3 1m-182 0l1 3m173-3l2 2m-109-1l2-2m-45 3l3 0m7 0l1 3m3-3l-1 3m3-3l2 1m47-1l2-2m76 2l1 2m-17-1l1 2m-111-1l1 2m62-2l1 3m-59-2l1 3m21-3l3-1m6 1l3 0m58 0l3 0m-148 1l1 3m5-3l3 0m91 0l1 3m-42-1l2-2m6 2l2 2m-61-1l0 3m76-3l3-1m5 1l3 0m-97 1l0 3m7-3l3 1m26-1l3 1m42-1l2 2m-46-1l3-1m14 1l3 0m-52 1l3-1m157 1l2 2m-69-1l3 1m5-1l-1 3m-104-2l3-1m92 1l-1 3m-101-2l0 3m16-3l2 2m68-2l3-1m4 1l2-2m6 2l1 2m-55-1l2 1m-1-1l2 1m-33 0l2-2m4 2l-1 3m20-3l1 2m23-2l3 0m30 0l1 3m-76-2l3 1m15-1l3-1m-1 1l2-2m28 2l2-2m39 2l2 2m-64 0l3 0m23 0l1 3m30-3l2-2m-11 3l3 1m-26 0l2-2m19 2l3 1m5-1l2-2m-12 4l3 0m-79 2l-1 3m19-3l3-1m19 1l2-2m-13 3l3-1m-31 2l2 2m34-2l2 2m18-2l2 1m-28 0l2-2m-1 2l2 2m0-2l3 1m10-1l3-1m11 1l1 3m64-3l0 3m-125-2l1 3m7-3l1 3m23-3l0 3m50-3l2 1m-46 0l-1 3m-45-2l0 3m3-3l-1 3m39-3l2 2m42-2l3 1m-33 0l-1 3m35-3l2 1m0-1l-1 3m18-3l3 0m11 0l0 3m-110-2l-1 3m-4-2l2-2m44 2l2 1m9-1l1 3m-42-2l3 0m-29 1l2-2m4 2l2 2m13-2l-1 3m-17-2l0 3m54-3l3-1m-1 1l-1 3m-1-2l-1 3m19-3l1 2m-60-1l2 1m2-1l1 2m31-2l1 2m5-2l0 3m9-3l2 1m7-1l2-2m47 2l3 0m-103 1l-1 3m27-3l3 0m-39 1l3-1m9 1l3 0m24 0l3 1m8-1l-1 3m-23-2l2 1m8-1l2-2m11 2l2-2m-1 3l1 3m-44-2l2 1m34-1l2-2m22 2l3 0m-81 1l1 2m20-2l0 3m29-3l2 1m-14 0l2-2m25 2l2 2m6-2l2 2m-57-1l3 1m21-1l2 1m98-1l3-1m-142 2l2 2m-3-1l3 0m15 0l1 3m22-3l3 0m-3 1l3 1m2-1l2-2m-1 2l3-1m5 1l0 3m91-3l1 3m-145-1l3 1m12-1l1 2m3-2l2 1m-10 0l-1 3m23-3l3 1m16-1l-1 3m-8-2l2 2m2-2l-1 3m21-3l2 1m-61 0l3-1m21 3l3-1m7 1l2 1m8-1l2 2m-25-1l2 2m15-2l1 3m13-2l2 1m7-1l1 2m20-2l2 1m-75 0l-1 3m27-3l2 1m6-1l3 0m8 0l1 3m4-2l0 3m-52-2l2 2m44-2l3 1m-64 0l-1 3m55-3l3-1m2 1l2 2m-56-1l2 2m15-2l1 2m9-2l2 2m10-1l1 2m16-2l2-2m13 2l3-1m-2 1l1 2m-73-1l3-1m30 1l2-2m21 2l2-2m19 2l3 1m-55 0l-1 3m3-3l0 3m24-3l2-2m0 2l2 1m2-1l1 2m0-2l3 0m1 0l2 2m-37-1l3 0m3 0l2 2m31-2l0 3m11-2l2 1m-69 0l3 1m0-1l1 2m4-2l3-1m35 1l-1 3m14-3l-1 3m-26-2l1 3m12-3l3 0m18 0l1 3m-35-2l2 1m16-1l1 2m1-2l1 2m19-2l2 2m-78-1l0 3m24-3l3-1m5 1l1 2m14-2l-1 3m-91-2l3 1m45-1l1 2m17-1l1 2m24-2l0 3m17-3l2-2m-60 3l3-1m0 1l1 3m39-3l2 1m-30 0l3-1m-1 1l3-1m7 1l3 1m0-1l-1 3m14-3l1 2m0-2l3 0m0 0l2-2m13 2l3-1m-69 2l2-2m20 2l2 1m0-1l3 0m5 0l-1 3m5-2l-1 3m9-3l3-1m-1 1l1 2m26-2l0 3m-39-2l2 2m-1-2l2-2m11 2l1 3m24-3l-1 3m-67-2l3 1m38-1l2 2m12-2l3-1m-54 2l3-1m5 1l-1 3m81-3l3 1m-136 1l3 1m42-1l1 2m57-2l1 2m17-2l2 1m-46 0l0 3m7-3l-1 3m4-3l3 0m3 0l1 2m-44-1l-1 3m21-3l1 2m14-2l3 1m22-1l2 1m-71 0l3-1m34 1l2-2m17 2l2 1m-1-1l2 2m16-1l3-1m-41 2l2-2m7 2l3 0m-13 1l3-1m7 1l3 1m-15 0l3-1m1 1l3 1m10-1l3-1m60 1l1 3m-99-2l3-1m39 1l1 3m-42-2l0 3m12-3l3 0m29 0l3 1m8-1l1 2m9-2l2-2m23 2l2 2m-74-1l-1 3m2-3l1 3m28-3l2 1m12-1l3 0m-118 1l2 2m71-2l1 3m-18-2l2 2m0-2l3-1m2 1l0 3m7-3l2-2m22 3l1 3m-25-2l3 0m12 0l3-1m1 1l3-1m-39 2l-1 3m22-2l3 1m2-1l2 1m-28 0l-1 3m47-3l3 1m-23 0l-1 3m-19-2l2 1m2-1l3 1m5-1l2 2m17-2l2 1m-104 0l1 2m73-2l2-2m6 2l0 3m-14-2l3-1m-2 4l3 0m-63 4l2-2m71 3l3-1m38 5l3-1m-55 2l2 1m49-1l2-2m-54 3l2-2m-7 6l-1 3m-8 1l3-1m2 2l-1 3m4-3l2 2m-6-1l2-2m-11 5l-1 3m7-3l2 2m3-2l0 3m5-3l1 2m-9-1l2 1m-3 0l2 1m-11 0l2 1m4-1l3 0m0 0l2 1m12-1l3 0m-27 2l3 0m7 0l3 1m-16 1l2 2m1-2l2-2m12 2l2 2m3-2l3 1m0-1l-1 3m-15-2l1 2m1-2l2-2m-15 3l1 2m1-2l2-2m25 2l3 1m-27 0l0 3m-3-2l2-2m-1 3l2 2m1-2l2 1m-6 0l1 2m0-2l2-2m8 2l2 1m-10 0l0 3m2-2l2 2m-1-2l1 2m-8-1l1 3m0-3l-1 3m6-3l3 1m7-1l3 0m-12 1l2 2m14-2l3 1m-24 0l1 2m2-1l3-1m-2 1l2 1m-3 0l3 0m-2 0l2-2m3 2l3 0m6 0l0 3m-8-1l-1 3m-7-2l2 2m-2 0l3-1m-1 1l3-1m-5 2l2 1m6 4l0 3m0-1l1 3m1 1l3 0m12 0l1 2m-15-1l3 1m-6 3l3 0m16 2l3 1m-4 6l3 0m-8 3l3 0m-15 5l2-2m0 2l-1 3" fill="none" stroke="#3f923f" stroke-opacity="0.42" stroke-width="1"/>
<path d="M984 121l3 0m-2 6l2 2m-10 3l3-1m3 2l3-1m12 1l1 2m-28-1l2 1m112 3l3-1m-140 2l1 2m137 0l2-2m-119 4l-1 3m45-3l1 2m51-2l1 2m3-2l3 1m-3 0l0 3m-81-1l-1 3m74-3l2 2m-83 0l3-1m-9 4l1 3m104-3l2 2m-185 0l2-2m60 3l1 3m133-3l2-2m1 2l-1 3m-98-2l3 0m-27 1l3 0m19 0l-1 3m55-3l3-1m-81 2l3 0m2 3l2 2m3-2l2 2m99-2l2-2m-141 3l0 3m80-3l1 3m55-3l3 1m-121 2l3 0m119 0l2-2m-144 3l-1 3m45-3l3 1m7-1l2 1m4-1l2-2m67 2l-1 3m-154-2l0 3m29-3l3 0m14 0l0 3m13-3l-1 3m5-3l-1 3m9-1l-1 3m92-3l3 1m-95 0l0 3m-29-2l3 1m48-1l2 1m50-1l1 3m9-3l2 2m-130-1l3-1m50 2l3-1m-29 2l1 2m100-2l2 1m10-1l3 0m-134 1l1 3m13-1l0 3m6-3l2-2m78 3l0 3m-104-2l2 1m56-1l3 0m20 0l3 0m-61 1l1 2m10-2l1 2m17-2l2 1m7-1l1 3m-8-2l1 3m61-2l1 3m-148-2l3-1m148 1l1 3m-156-1l1 3m8-3l3 0m47 0l3 0m34 0l0 3m2-3l0 3m-7-2l1 3m19-3l0 3m-24-2l1 2m-89 0l3 1m65-1l0 3m12-3l1 2m27-2l2 2m-56-1l-1 3m56-3l3 1m-30 0l3-1m2 1l0 3m-5-2l1 2m12-2l3 0m-49 2l3-1m31 2l3 1m10-1l2 1m1-1l3-1m-17 2l2 1m5 0l2-2m4 2l3 1m-52 0l3 0m24 0l3 1m-68 0l3 1m79-1l2 1m-22 0l3 0m23 0l2 1m7-1l2 2m37-2l1 3m-44-1l0 3m-84-1l-1 3m-10-1l2-2m54 4l3 0m21 0l2-2m32 3l1 2m-115-1l2-2m134 3l-1 3m-130-1l0 3m2 0l2 1m131 1l0 3m-4 1l2 1m-118 3l-1 3m8 1l0 3m26 0l2 2m16 2l1 3m2-1l1 3m-30-1l2 1m-10 0l2 2m44-2l2 2m-56-1l1 2m56-1l3-1m-51 4l3 0m9 2l2-2m-1 2l3 0m22 0l3-1m7 2l1 3m6-2l0 3m-53-1l3-1m11 1l1 3m44-2l0 3m-23-2l2 1m-27 0l3 1m21 0l1 3m13-3l3 1m-12 0l3 0m-23 5l1 3m-7-2l1 2m26-2l1 3m20-3l-1 3m3-3l3 1m-66 4l3 0m75 0l3-1m-38 2l3 1m45-1l3-1m-99 2l3 1m75 2l0 3m-45-2l2 1m-98 1l3 1m154-1l2 2m-5 5l3 0m-99 17l1 3m1 0l1 2m-5 34l2 2m22 0l1 2m-5 2l1 3m-9 5l2-2m6 5l2 1m-18 2l-1 3m13-3l3 0m-16 11l1 2" fill="none" stroke="#e01818" stroke-opacity="0.5" stroke-width="1"/>
<path d="M1001 183l3 0m9 15l3 0" fill="none" stroke="#30308c" stroke-opacity="0.5" stroke-width="1"/></g>
<ellipse cx="935.5" cy="315.0" rx="4.2" ry="10" fill="url(#gblob)"/>
<g fill="none" stroke="#000" stroke-width="1.45" stroke-linejoin="round">
<polygon points="882.6,337.1 880.5,336.3 878.4,336.7 876.3,335.9 874.1,336.3 871.8,336.7 869.4,336.9 867.2,338.0 866.9,335.9 866.1,334.0 865.5,332.0 863.8,330.6 862.9,328.6 863.8,325.2 862.6,322.7 862.1,320.0 860.3,318.9 858.7,317.5 857.9,315.3 857.0,313.2 855.7,311.4 853.7,310.2 852.7,308.1 850.8,308.9 848.7,308.6 846.7,308.9 845.0,310.0 843.6,311.5 841.8,312.4 839.9,313.2 836.5,314.9 835.2,313.1 833.8,311.3 832.2,309.8 831.3,307.6 831.4,305.2 830.5,303.0 828.9,301.5 827.9,299.5 826.9,297.6 825.4,296.1 827.2,293.8 827.9,291.0 828.8,288.9 829.6,286.7 830.8,284.2 833.0,282.5 834.0,280.4 834.8,278.2 835.2,276.0 834.7,273.6 835.6,271.4 837.5,270.2 839.0,268.5 841.1,269.5 843.3,269.1 845.0,270.8 845.9,273.1 848.4,270.5 850.5,268.7 852.7,267.1 854.3,265.9 855.3,264.0 857.0,262.8 859.0,262.2 860.3,260.4 862.1,259.4 864.2,258.0 866.4,256.7 868.1,254.3 868.9,251.6 868.8,249.3 868.8,246.9 869.8,244.7 869.6,242.1 868.9,239.6 870.0,237.2 869.8,234.5 870.8,232.2 872.3,230.2 874.7,228.4 877.5,227.6 877.7,225.5 878.3,223.4 878.1,221.1 877.1,219.1 876.8,217.1 876.4,215.1 876.6,213.1 878.0,211.2 878.3,208.8 878.1,206.7 877.5,204.6 876.3,202.4 874.9,200.3 874.0,197.5 872.3,195.2 870.1,193.4 868.9,190.9 867.2,189.4 865.9,187.6 863.8,186.6 861.9,185.4 860.7,183.4 858.7,182.4 857.0,180.6 854.5,180.4 852.7,178.9 850.6,177.1 848.4,175.5 846.4,175.3 844.5,174.3 842.4,174.3 840.1,174.7 837.8,174.7 835.6,175.5 833.9,176.9 833.0,178.9 831.3,180.6 830.4,182.7 829.6,184.9 827.3,183.5 825.4,181.5 822.9,180.4 820.2,180.1 818.2,180.6 816.3,181.4 814.3,181.8 811.9,183.1 809.1,183.2 807.5,185.0 805.7,186.6 804.0,185.3 802.3,184.1 800.6,182.4 798.9,180.7 798.7,178.1 798.0,175.5 800.1,174.2 801.4,172.1 801.5,169.8 801.4,167.6 801.4,165.3 802.2,163.1 804.0,161.4 804.9,159.3 806.1,157.3 806.2,155.1 807.3,153.1 807.4,150.8 807.6,148.5 808.6,146.5 809.1,144.3 810.0,142.2 810.3,139.9 811.7,137.9 811.3,135.4 812.5,133.3 814.3,134.5 816.6,134.1 818.5,134.9 820.2,136.2 822.1,136.8 824.2,136.8 826.2,137.1 828.4,137.4 830.5,137.9 832.6,136.1 834.8,134.5 836.7,132.6 838.2,130.3 840.1,129.3 842.0,128.3 843.3,126.5 845.8,125.3 848.4,124.3 850.1,122.6 851.7,120.8 851.8,118.2 851.7,115.7 850.0,114.8 850.4,112.7 850.7,110.7 851.7,108.8 852.8,106.8 853.2,104.5 853.8,102.3 855.1,100.3 856.0,98.3 855.8,96.0 855.7,93.8 856.8,91.8 857.1,89.4 857.4,87.1 858.5,84.9 860.2,81.5 862.3,80.3 864.1,78.5 866.2,77.2 866.6,75.0 867.5,73.1 868.8,71.3 867.9,68.8 867.9,66.1 867.7,63.3 866.2,61.0 862.8,59.3 860.7,60.2 858.5,60.7 855.1,59.3 855.1,55.9 856.4,54.3 857.5,52.6 857.9,50.4 859.4,49.0 860.8,47.4 862.4,45.9 863.5,44.1 864.5,42.2 866.7,42.3 868.8,41.4 871.1,40.9 873.4,40.9 875.6,40.2 877.5,38.3 879.9,37.1 881.9,35.5 884.6,35.4 886.7,34.0 889.0,34.0 891.3,33.5 893.5,32.8 896.3,32.3 898.7,30.6 901.0,30.3 903.1,29.2 905.5,29.4 907.8,29.9 909.9,31.0 912.3,31.1 914.9,31.6 917.5,32.0 919.4,33.3 921.7,33.7 924.2,35.0 926.9,35.7 929.4,32.8 931.7,32.4 934.0,32.9 936.3,33.3 938.3,35.3 940.5,37.1 942.2,38.2 943.9,39.5 945.7,40.5 947.5,41.8 948.4,44.0 949.9,45.6 951.4,47.3 953.2,48.7 954.2,50.8 955.5,53.2 955.9,55.9 957.0,57.8 959.0,59.1 960.2,61.0 961.3,62.7 961.9,64.8 963.6,66.1 965.4,68.3 966.1,71.1 967.5,73.2 968.6,75.4 970.2,77.6 972.0,79.6 973.8,81.7 975.5,83.9 976.0,86.1 977.1,87.9 978.0,89.9 979.5,91.8 981.4,93.3 983.1,96.7 983.4,98.7 984.4,100.6 984.0,102.7 985.4,104.7 987.4,106.1 989.3,106.9 991.5,106.7 993.4,107.8 995.5,107.5 997.4,106.7 999.4,106.1 1002.4,105.5 1005.4,106.1 1007.4,106.5 1009.3,107.5 1011.3,107.8 1013.9,107.1 1016.5,106.1 1018.1,107.6 1019.9,108.7 1021.5,110.1 1023.3,111.3 1025.9,112.4 1028.4,113.8 1030.8,115.2 1033.5,115.5 1036.1,115.2 1038.7,114.7 1038.9,117.0 1039.0,119.3 1039.5,121.5 1040.8,123.0 1042.7,124.0 1043.8,125.8 1044.0,127.8 1043.9,129.9 1044.7,131.8 1046.1,133.4 1047.2,135.2 1048.5,137.3 1050.6,138.6 1052.3,140.3 1054.7,140.0 1056.6,138.6 1058.6,138.3 1060.5,137.5 1062.6,137.7 1065.1,137.4 1067.3,136.6 1069.4,135.2 1071.5,133.7 1074.0,133.4 1076.3,132.6 1076.4,130.5 1077.3,128.6 1078.0,126.6 1079.4,124.3 1081.4,122.4 1082.9,120.9 1084.7,119.9 1086.5,118.9 1088.4,118.1 1090.1,116.9 1091.6,115.5 1093.8,114.6 1094.7,112.3 1096.8,111.3 1098.4,110.0 1100.1,108.8 1101.9,107.8 1104.6,107.2 1107.0,105.8 1109.0,105.1 1110.8,104.1 1111.8,106.1 1109.8,107.7 1107.9,109.5 1107.4,112.1 1107.0,114.7 1107.8,117.1 1109.6,118.9 1110.4,120.8 1110.5,122.9 1110.4,124.9 1109.1,127.1 1108.0,129.4 1107.0,131.8 1107.0,134.4 1106.2,136.9 1106.5,139.0 1107.0,141.1 1107.5,143.2 1107.0,145.4 1106.6,147.5 1107.2,149.5 1107.6,151.6 1107.4,153.7 1107.9,155.7 1106.9,157.9 1107.1,160.3 1106.2,162.5 1105.8,164.8 1106.1,167.1 1107.0,169.3 1106.5,171.7 1105.6,174.0 1104.5,176.2 1104.1,178.5 1104.2,180.8 1103.6,183.0 1102.5,186.0 1103.2,187.9 1103.0,190.0 1103.3,192.0 1100.8,194.5 1098.5,194.1 1096.2,193.5 1093.7,194.2 1091.4,193.7 1089.0,193.8 1086.7,192.8 1084.4,192.9 1082.0,192.8 1081.7,195.5 1080.3,197.9 1078.5,199.0 1077.6,200.9 1076.0,202.2 1074.0,203.3 1072.3,204.7 1070.9,206.5 1070.0,209.0 1071.0,211.3 1072.6,213.3 1074.2,214.7 1074.6,216.9 1076.0,218.4 1077.5,220.5 1078.7,222.8 1079.4,225.3 1080.6,227.1 1081.0,229.2 1081.1,231.3 1080.9,233.8 1082.0,236.0 1082.0,238.4 1082.8,240.7 1083.4,242.7 1083.8,244.7 1084.6,246.6 1084.5,249.2 1084.6,251.8 1082.8,255.2 1080.3,256.5 1078.6,258.6 1075.2,260.3 1076.1,262.3 1077.7,263.7 1077.7,265.9 1078.6,268.0 1077.1,266.4 1076.0,264.6 1073.4,262.0 1071.7,260.3 1070.0,258.6 1066.6,257.7 1064.1,258.6 1064.1,260.9 1063.8,263.2 1063.2,265.4 1062.5,268.0 1061.5,270.6 1058.9,273.1 1057.4,275.1 1056.4,277.4 1054.6,279.3 1053.8,281.7 1051.2,284.2 1049.3,284.8 1047.2,285.0 1045.3,285.9 1042.9,286.6 1040.8,288.0 1038.4,288.5 1036.7,290.2 1037.8,292.1 1039.3,293.6 1041.1,295.7 1042.7,297.9 1043.8,300.3 1043.5,303.0 1041.1,304.3 1038.4,304.7 1036.3,304.0 1034.2,305.0 1032.0,304.1 1029.9,304.7 1027.9,304.3 1026.0,303.7 1023.9,303.9 1022.5,302.4 1021.2,300.8 1019.6,299.6 1017.5,299.2 1015.4,299.6 1014.7,302.2 1013.7,304.7 1013.7,307.0 1012.7,309.3 1012.8,311.6 1011.6,313.5 1010.5,315.5 1009.4,317.5 1007.2,320.0 1005.2,321.3 1004.1,323.5 1002.1,324.5 1000.8,326.3 998.7,328.6 997.6,330.7 995.9,332.2 994.2,333.7 992.7,335.4 991.5,337.4 989.5,338.7 988.6,340.9 986.7,342.3 985.1,344.0 983.8,345.8 983.4,348.4 981.6,349.9 980.9,352.4 979.4,354.6 978.2,356.8 976.0,357.9 973.6,358.4 971.3,359.3 969.2,360.7 967.0,361.8 964.5,362.3 961.5,363.4 960.0,365.1 958.0,366.0 955.5,367.2 953.8,369.4 951.3,370.7 949.5,372.8 947.8,374.5 946.1,376.2 944.4,379.7 942.7,383.1 940.7,384.3 939.3,386.1 936.7,389.0 934.7,390.5 933.3,392.5 929.9,394.2 926.9,393.3 926.4,391.2 926.4,389.0 928.9,387.6 931.6,386.5 933.4,385.3 935.0,383.9 934.6,381.4 935.0,378.0 938.4,376.1 935.0,376.7 932.4,376.4 929.9,377.1 926.9,376.2 927.3,373.7 930.7,372.4 929.9,369.4 931.6,366.0 933.0,363.9 934.1,361.7 935.2,359.3 937.1,357.5 937.9,355.2 939.3,353.2 940.2,350.6 941.4,348.1 940.8,346.1 939.3,344.6 937.6,343.5 936.3,341.9 935.0,340.4 933.3,339.1 931.6,337.8 929.0,337.8 926.8,338.2 924.7,338.7 922.4,339.1 920.0,338.7 918.4,340.3 917.1,342.1 915.3,345.5 914.6,348.3 912.8,350.6 911.3,352.6 910.2,354.9 909.4,357.7 908.5,360.4 906.6,361.6 904.2,361.8 902.5,363.4 900.5,364.8 898.3,366.0 897.3,364.1 895.7,362.6 894.5,360.4 893.1,358.3 891.7,356.6 891.4,354.5 888.8,354.4 886.3,354.9 884.9,353.2 882.9,352.3 879.5,350.6 877.3,348.9 877.5,346.2 878.6,343.8 880.3,341.2 881.8,339.3 882.6,337.1"/>
<polyline points="875.6,40.2 876.9,41.8 878.2,43.5 879.9,44.8 878.9,47.3 879.1,50.0 878.2,52.5 876.3,54.4 874.8,56.7 876.6,58.5 879.0,59.3 881.1,61.0 883.3,62.7 886.7,61.0 888.4,57.6 891.8,59.0 894.1,60.9 897.0,61.9 897.9,64.2 899.5,66.1 900.5,68.1 900.4,70.5 902.1,72.4 902.1,74.7 903.3,76.5 904.0,78.4 905.1,80.3 905.5,82.4 908.1,82.9 910.6,83.6 912.7,82.6 914.6,81.2 916.6,80.1 919.2,80.4 921.7,79.8 923.8,79.4 925.8,79.1 927.7,78.1 930.2,77.0 932.8,76.4 934.1,74.8 934.6,72.6 936.3,71.3 938.8,69.5 941.1,69.7 943.1,70.9 944.7,72.3 946.4,73.8 948.3,75.0 949.9,76.4 951.9,77.8 953.2,80.0 955.1,81.5 954.2,83.5 953.8,85.7 953.3,87.8 953.3,90.0 952.2,92.7 950.8,95.2 950.6,97.5 949.0,99.3 948.6,101.5 948.2,103.7 947.2,106.2 946.5,108.8 947.3,110.9 947.4,113.1 946.5,115.3 947.4,117.4 948.9,119.8 949.9,122.5 949.6,125.0 949.9,127.6 947.8,128.4 945.7,129.3 944.8,131.5 945.7,134.0 944.8,136.2 944.4,138.5 944.0,140.8 943.3,143.0 942.6,145.5 943.0,148.0 944.2,150.0 944.4,152.8 944.2,155.7 943.0,152.5 942.4,150.5 941.1,148.8 939.9,145.6 938.0,146.3 936.4,148.2 934.8,150.0 934.1,152.0 932.8,153.7 932.5,155.8 931.1,157.5 929.6,159.2 928.6,161.2 926.7,162.6 924.7,164.4 923.6,166.9 921.6,169.0 919.2,170.7 917.7,173.3 915.4,175.1 914.6,177.5 914.2,180.1 916.7,183.2 919.0,184.8 921.7,185.7 923.6,188.9 924.5,191.0 926.1,192.6 928.0,193.2 930.5,190.1 929.8,187.0 933.6,186.6 936.1,188.2 936.7,191.4 933.6,193.2 931.1,194.2 928.6,195.1 927.3,198.3 928.6,201.4 931.1,203.9"/>
<polyline points="931.1,203.9 932.3,203.3 934.8,203.3 937.3,202.6 941.1,201.4 943.6,200.1 944.2,202.2 945.5,203.9 946.1,206.4 946.7,208.9 948.4,211.2 949.2,213.9 950.3,215.9 952.4,217.0 954.4,218.1 956.1,219.6 959.9,218.9 961.9,217.3 964.3,216.4 967.4,218.3 969.5,218.1 971.2,217.0 973.7,215.8 976.2,214.5 978.3,215.8 979.9,217.7 982.3,219.5 985.0,220.8 987.3,220.2 989.3,218.9 991.5,217.7 993.7,216.4 996.1,217.5 998.7,217.7 1000.5,219.7 1002.5,221.4 1004.3,223.6 1004.8,226.1 1005.1,228.7 1007.7,228.8 1010.2,229.5 1012.2,231.1 1014.5,232.1 1015.8,234.2 1017.9,235.5 1019.9,236.9 1021.3,238.9 1022.6,237.3 1023.1,235.2 1024.8,233.8 1025.3,231.7 1025.6,229.5 1028.2,227.8 1029.9,229.2 1030.7,231.3 1031.7,234.0 1033.3,236.4 1034.2,238.5 1035.7,240.2 1037.6,241.5 1038.5,243.4 1039.6,245.1 1041.0,246.6 1043.5,248.3 1047.0,246.6 1047.7,244.1 1047.8,241.5 1050.0,240.3 1052.1,238.9 1054.1,237.4 1056.4,236.4 1058.1,233.0 1060.6,234.7 1062.3,232.5 1064.1,230.4 1064.9,232.8 1066.6,234.7 1067.3,237.2 1069.2,238.9 1071.7,239.8 1074.3,239.8 1076.8,240.5 1079.4,240.7 1082.8,240.7"/>
<polyline points="931.1,203.9 931.1,206.4 930.3,208.4 928.5,209.5 927.1,211.5 926.7,213.9 925.7,217.5 922.1,216.4 919.1,214.7 916.9,215.4 914.5,215.4 912.5,214.5 910.3,214.0 908.8,217.2 909.1,220.8 911.2,221.7 913.3,222.6 914.6,224.2 916.4,225.2 918.5,228.5 918.2,231.0 918.9,233.5 918.2,235.8 918.7,238.1 918.6,240.4 919.0,243.0 920.6,245.2 921.3,247.5 923.0,249.1 924.6,251.5 924.6,253.5 925.0,255.5 927.8,255.5 931.0,253.5 932.9,251.9 934.2,249.9 935.9,247.9 938.2,246.7 939.0,249.1 940.1,251.4 942.1,253.1 942.7,255.1 944.5,256.3 944.8,258.5 946.1,260.3 947.6,261.9 948.4,264.0 949.3,265.9 948.1,268.3 946.1,269.5 946.9,271.5 950.1,272.7 953.3,273.5"/>
<polyline points="953.3,273.5 954.1,269.9 954.9,269.5 957.3,271.9 959.4,272.5 961.3,273.5 963.5,274.1 965.3,275.5 967.0,277.1 967.7,279.4 969.3,282.2 970.6,280.5 971.6,278.6 973.2,275.1 974.8,274.7 975.7,276.6 976.4,278.6 977.0,281.0 978.8,282.6 979.6,284.9 981.2,286.6 983.5,289.8 984.5,291.9 986.7,293.1 987.6,295.3 988.1,297.3 988.6,299.3 989.3,301.3 990.7,303.7 991.0,306.4 992.7,308.6 994.3,310.9 995.7,312.5 997.1,314.1 998.0,316.0 998.3,318.1 999.4,319.8 1000.0,321.8 1000.9,324.0 1000.8,326.3"/>
<polyline points="953.3,273.5 954.1,275.6 953.7,277.8 953.3,279.8 952.9,281.8 949.3,282.6 946.9,285.0 946.9,287.4 944.5,289.4 941.3,291.0 938.2,289.8 936.2,289.6 934.2,289.4 932.6,290.6 931.0,293.0 929.1,293.7 927.0,293.8 925.4,296.0 922.5,298.5 920.2,300.4 918.7,301.9 917.1,303.1 915.1,303.8 913.3,304.7 911.7,306.1 910.3,307.8 908.4,308.8 906.5,309.8 904.5,311.2 903.0,313.1 901.4,314.9 899.8,316.5 898.9,318.4 898.2,320.5 897.7,322.6 896.3,324.3 895.5,322.1 893.9,320.4 892.8,318.3 890.6,316.6 889.4,314.1 888.1,312.2 886.4,310.8 884.3,309.8 883.0,311.4 881.4,312.7 880.0,314.1 881.1,316.1 881.7,318.3 881.8,320.6 882.0,322.9 883.1,325.0 883.7,327.2 884.6,329.3 884.2,331.4 884.2,333.5 882.6,337.1"/>
</g>
<g font-family="Liberation Serif, Times New Roman, serif" font-weight="bold" font-size="14.6" fill="#000">
<text x="811.7" y="170.4" textLength="99" lengthAdjust="spacingAndGlyphs">Inner Mongolia</text>
<text x="984.0" y="167.6" textLength="83" lengthAdjust="spacingAndGlyphs">Heilongjiang</text>
<text x="981.2" y="261.2" textLength="27.3" lengthAdjust="spacingAndGlyphs">Jilin</text>
<text x="917.7" y="331.9" textLength="57" lengthAdjust="spacingAndGlyphs">Liaoning</text>
</g>
<rect x="789.0" y="17.5" width="336.5999999999999" height="403.8" fill="none" stroke="#3a3a3a" stroke-width="1.3"/>
<g font-family="Liberation Serif, Times New Roman, serif" font-weight="bold" font-size="12" fill="#000">
<line x1="813.7" y1="421.3" x2="813.7" y2="424.3" stroke="#404040" stroke-width="1"/>
<text x="813.7" y="436.6" text-anchor="middle">115°E</text>
<line x1="848.5" y1="17.5" x2="848.5" y2="14.5" stroke="#404040" stroke-width="1"/>
<text x="848.5" y="10.9" text-anchor="middle">120°E</text>
<line x1="909.6" y1="421.3" x2="909.6" y2="424.3" stroke="#404040" stroke-width="1"/>
<text x="909.6" y="436.6" text-anchor="middle">120°E</text>
<line x1="924.9" y1="17.5" x2="924.9" y2="14.5" stroke="#404040" stroke-width="1"/>
<text x="924.9" y="10.9" text-anchor="middle">125°E</text>
<line x1="1007.0" y1="421.3" x2="1007.0" y2="424.3" stroke="#404040" stroke-width="1"/>
<text x="1007.0" y="436.6" text-anchor="middle">125°E</text>
<line x1="1002.9" y1="17.5" x2="1002.9" y2="14.5" stroke="#404040" stroke-width="1"/>
<text x="1002.9" y="10.9" text-anchor="middle">130°E</text>
<line x1="1106.4" y1="421.3" x2="1106.4" y2="424.3" stroke="#404040" stroke-width="1"/>
<text x="1106.4" y="436.6" text-anchor="middle">130°E</text>
<line x1="1083.0" y1="17.5" x2="1083.0" y2="14.5" stroke="#404040" stroke-width="1"/>
<text x="1083.0" y="10.9" text-anchor="middle">135°E</text>
<line x1="789.0" y1="380.5" x2="786.0" y2="380.5" stroke="#404040" stroke-width="1"/>
<text transform="translate(782.3,380.5) rotate(-90)" text-anchor="middle">40°N</text>
<line x1="1125.6" y1="318.7" x2="1128.6" y2="318.7" stroke="#404040" stroke-width="1"/>
<text transform="translate(1140.9,318.7) rotate(-90)" text-anchor="middle">40°N</text>
<line x1="789.0" y1="255.3" x2="786.0" y2="255.3" stroke="#404040" stroke-width="1"/>
<text transform="translate(782.3,255.3) rotate(-90)" text-anchor="middle">45°N</text>
<line x1="1125.6" y1="188.8" x2="1128.6" y2="188.8" stroke="#404040" stroke-width="1"/>
<text transform="translate(1140.9,188.8) rotate(-90)" text-anchor="middle">45°N</text>
<line x1="789.0" y1="132.0" x2="786.0" y2="132.0" stroke="#404040" stroke-width="1"/>
<text transform="translate(782.3,132.0) rotate(-90)" text-anchor="middle">50°N</text>
<line x1="1125.6" y1="60.0" x2="1128.6" y2="60.0" stroke="#404040" stroke-width="1"/>
<text transform="translate(1140.9,60.0) rotate(-90)" text-anchor="middle">50°N</text>
</g>
<rect x="793.4" y="383.3" width="56" height="5.4" fill="#000"/>
<rect x="849.4" y="383.7" width="54.8" height="4.8" fill="#fff" stroke="#404040" stroke-width="0.8"/>
<g font-family="Liberation Serif, Times New Roman, serif" font-weight="bold" font-size="12.8" fill="#000">
<text x="790.3" y="376.9">0</text>
<text x="839.0" y="376.9">250</text>
<text x="894.3" y="376.9">500</text>
<text x="908.1" y="388.6">km</text>
</g>
<rect x="969.1" y="375.6" width="28.4" height="15.2" fill="#fff" stroke="#000" stroke-width="1.7"/>
<text x="1000.3" y="388.7" font-family="Liberation Serif, Times New Roman, serif" font-weight="bold" font-size="15" textLength="121.7" lengthAdjust="spacingAndGlyphs">Province boundary</text>
<rect x="793.4" y="399.5" width="35.5" height="17.3" fill="#70b074"/>
<text x="830.4" y="413.6" font-family="Liberation Serif, Times New Roman, serif" font-weight="bold" font-size="17.2" fill="#000">CT</text>
<rect x="927.0" y="399.5" width="35.5" height="17.3" fill="#454f8c"/>
<text x="964.0" y="413.6" font-family="Liberation Serif, Times New Roman, serif" font-weight="bold" font-size="17.2" fill="#000">RT</text>
<rect x="1060.0" y="399.5" width="35.5" height="17.3" fill="#e60000"/>
<text x="1097.0" y="413.6" font-family="Liberation Serif, Times New Roman, serif" font-weight="bold" font-size="17.2" fill="#000">NT</text>
<text x="790.0" y="42.8" font-family="Liberation Sans, Arial, sans-serif" font-size="30.2" fill="#000">(c)</text>
<clipPath id="clipd"><rect x="45.6" y="456.8" width="336.59999999999997" height="403.09999999999997"/></clipPath>
<g clip-path="url(#clipd)" fill="none" stroke="#b4b4b4" stroke-width="0.7" stroke-dasharray="1.3 2.2">
<polyline points="85.9,1017.4 84.2,1000.8 82.6,984.2 80.9,967.6 79.3,951.0 77.6,934.3 75.9,917.7 74.3,901.1 72.6,884.4 70.9,867.8 69.3,851.2 67.6,834.5 65.9,817.9 64.3,801.3 62.6,784.7 60.9,768.2 59.3,751.6 57.6,735.1 56.0,718.6 54.3,702.1 52.7,685.6 51.0,669.2 49.4,652.9 47.8,636.5 46.1,620.2 44.5,604.0 42.9,587.8 41.3,571.7 39.7,555.6 38.1,539.6 36.5,523.7 34.9,507.8 33.3,492.0 31.7,476.3 30.1,460.7 28.6,445.2 27.0,429.7 25.5,414.4 24.0,399.2 22.5,384.1"/>
<polyline points="187.9,1004.6 185.4,988.1 182.9,971.6 180.4,955.1 177.9,938.6 175.4,922.0 172.9,905.5 170.4,889.0 167.9,872.4 165.4,855.9 162.9,839.4 160.4,822.9 157.9,806.4 155.4,789.9 152.9,773.4 150.4,756.9 147.9,740.5 145.5,724.0 143.0,707.6 140.5,691.3 138.0,674.9 135.6,658.6 133.1,642.3 130.6,626.1 128.2,609.9 125.7,593.8 123.3,577.7 120.9,561.7 118.5,545.7 116.1,529.8 113.7,514.0 111.3,498.2 108.9,482.5 106.5,466.9 104.2,451.4 101.9,436.0 99.5,420.6 97.2,405.4 94.9,390.3 92.7,375.2"/>
<polyline points="289.1,986.6 285.8,970.3 282.5,953.9 279.2,937.6 275.8,921.2 272.5,904.8 269.2,888.4 265.8,872.1 262.5,855.7 259.2,839.3 255.9,822.9 252.5,806.5 249.2,790.2 245.9,773.8 242.6,757.5 239.2,741.2 235.9,724.9 232.6,708.6 229.3,692.3 226.0,676.1 222.7,659.9 219.4,643.8 216.2,627.6 212.9,611.5 209.6,595.5 206.4,579.5 203.1,563.6 199.9,547.7 196.7,531.9 193.5,516.1 190.3,500.4 187.1,484.8 184.0,469.2 180.8,453.8 177.7,438.4 174.6,423.1 171.5,407.9 168.4,392.8 165.4,377.8 162.3,362.9"/>
<polyline points="389.3,963.6 385.2,947.5 381.0,931.3 376.9,915.1 372.7,899.0 368.6,882.8 364.4,866.6 360.3,850.4 356.1,834.2 352.0,818.0 347.8,801.8 343.7,785.6 339.6,769.4 335.4,753.3 331.3,737.1 327.1,721.0 323.0,704.9 318.9,688.8 314.8,672.7 310.7,656.7 306.6,640.7 302.5,624.7 298.4,608.7 294.3,592.8 290.2,577.0 286.2,561.2 282.1,545.4 278.1,529.7 274.1,514.1 270.1,498.5 266.1,483.0 262.2,467.5 258.2,452.2 254.3,436.9 250.4,421.7 246.6,406.5 242.7,391.5 238.9,376.6 235.1,361.8 231.3,347.1"/>
<polyline points="488.2,935.6 483.3,919.7 478.3,903.7 473.4,887.8 468.4,871.8 463.5,855.9 458.5,839.9 453.5,824.0 448.6,808.0 443.6,792.0 438.7,776.1 433.7,760.1 428.8,744.2 423.8,728.2 418.9,712.3 413.9,696.4 409.0,680.5 404.0,664.7 399.1,648.8 394.2,633.0 389.3,617.2 384.4,601.5 379.5,585.8 374.7,570.1 369.8,554.4 365.0,538.9 360.1,523.3 355.3,507.9 350.5,492.4 345.8,477.1 341.0,461.8 336.3,446.5 331.6,431.4 326.9,416.3 322.2,401.3 317.6,386.4 313.0,371.6 308.4,356.9 303.9,342.3 299.4,327.8"/>
<polyline points="-119.2,827.1 -100.2,827.0 -81.2,826.7 -62.2,826.2 -43.1,825.6 -24.1,824.7 -5.2,823.6 13.8,822.4 32.8,820.9 51.7,819.3 70.7,817.4 89.6,815.4 108.5,813.2 127.3,810.7 146.2,808.1 165.0,805.3 183.7,802.3 202.5,799.1 221.2,795.6 239.9,792.1 258.5,788.3 277.1,784.3 295.7,780.1 314.2,775.7 332.6,771.2 351.1,766.4 369.4,761.5 387.7,756.4 406.0,751.1 424.2,745.6 442.4,739.9 460.4,734.0 478.5,727.9 496.4,721.7 514.3,715.3 532.2,708.6 549.9,701.8 567.6,694.8 585.2,687.7 602.8,680.3"/>
<polyline points="-119.1,702.4 -101.4,702.3 -83.6,702.1 -65.9,701.6 -48.2,701.0 -30.5,700.2 -12.8,699.2 4.9,698.0 22.6,696.7 40.3,695.1 57.9,693.4 75.5,691.5 93.2,689.4 110.7,687.2 128.3,684.7 145.8,682.1 163.3,679.3 180.8,676.3 198.3,673.1 215.7,669.7 233.0,666.2 250.4,662.5 267.7,658.6 284.9,654.5 302.2,650.3 319.3,645.9 336.5,641.3 353.5,636.5 370.6,631.5 387.5,626.4 404.4,621.1 421.3,615.6 438.1,610.0 454.9,604.2 471.5,598.2 488.2,592.0 504.7,585.6 521.2,579.1 537.6,572.4 554.0,565.6"/>
<polyline points="-119.0,579.6 -102.5,579.6 -86.1,579.3 -69.6,578.9 -53.1,578.3 -36.7,577.6 -20.3,576.7 -3.8,575.6 12.6,574.3 29.0,572.9 45.4,571.3 61.7,569.5 78.1,567.6 94.4,565.5 110.7,563.2 127.0,560.7 143.2,558.1 159.5,555.4 175.7,552.4 191.8,549.3 208.0,546.0 224.1,542.6 240.1,539.0 256.2,535.2 272.1,531.2 288.1,527.1 304.0,522.9 319.8,518.4 335.6,513.8 351.4,509.1 367.1,504.1 382.8,499.1 398.4,493.8 413.9,488.4 429.4,482.8 444.8,477.1 460.2,471.2 475.5,465.2 490.8,459.0 506.0,452.6"/>
</g>
<g clip-path="url(#clipd)"><path d="M203 564l0 3m12 5l-1 3m38-2l2-2m-38 7l2 1m17 1l3 1m-89 0l3-1m9 1l3-1m72 1l1 3m19-3l1 2m-106-1l1 3m17-2l3-1m130 1l1 3m-103 0l2-2m29 2l1 3m42-3l0 3m33-3l1 2m-136-1l1 2m147-2l3-1m-119 2l1 3m32-3l3 1m15-1l3 1m58-1l3-1m16 1l3 1m-74 0l-1 3m63-2l1 2m-111-1l3 0m10 0l-1 3m4-3l0 3m10-3l2-2m70 2l1 2m-107-1l0 3m110-1l3 0m-85 1l-1 3m8-3l-1 3m61-3l2 1m-160 0l3-1m82 1l3 0m98 0l1 2m-71 0l1 3m-58-2l1 3m4-3l1 3m65-3l0 3m41-3l0 3m22-3l2-2m-185 3l3-1m49 1l-1 3m21-3l1 2m37-2l-1 3m13-2l1 2m75-2l1 3m-88-2l1 2m8-2l2-2m39 2l0 3m-85-2l2-2m-18 3l3 1m93-1l-1 3m-138-2l-1 3m6-3l1 3m32-3l1 3m38-3l2-2m4 2l-1 3m-33-2l-1 3m33-3l0 3m14-3l-1 3m57-3l2 2m6-2l2 1m-127 0l-1 3m3-3l-1 3m51-3l1 3m-41-2l2 2m4-2l3-1m11 1l3 1m32-1l3 0m47 0l3 1m-77 0l1 3m102-3l2 2m-142-1l3 1m24-1l0 3m29-3l1 3m13-3l3 1m-92 0l3 0m15 0l0 3m12-1l3 1m35-1l1 3m-37-2l1 3m93-3l2-2m-77 3l2 1m-75 0l2-2m79 2l1 2m35-2l0 3m-120-2l-1 3m6-3l0 3m89-3l3-1m-74 2l2-2m49 2l-1 3m11-3l3 1m13-1l2 2m2-2l2 1m-1-1l3 1m-32 1l1 2m35-2l2 2m-40-1l3 0m-13 1l3 0m8 0l3-1m4 1l3-1m1 1l2-2m7 3l3 0m-99 1l2 1m79-1l3 0m8 1l0 3m-85-2l0 3m35-3l2 1m52-1l1 3m-65-2l1 3m32-3l1 2m-15 0l3-1m4 1l2 2m14-2l2 1m-62 0l3 0m7 0l3 1m25-1l2 1m13-1l2 1m-21 0l3 0m35 0l3 0m-88 1l3-1m32 1l2 1m39-1l2 2m30-2l3 0m4 0l1 3m-74-2l2 1m8 0l3-1m23 1l2-2m24 2l1 2m-92-1l-1 3m39-3l-1 3m37-3l3 1m-2-1l2-2m-39 3l3 0m40 0l1 2m-32-1l3-1m14 1l-1 3m8-3l0 3m-72-2l2 1m51-1l-1 3m11-3l3-1m1 1l1 2m1-2l1 2m0-2l2-2m-66 3l2-2m69 2l1 2m5-2l1 2m2-2l2 1m-32 0l2-2m36 2l3 1m-108 0l2 2m93-2l3 1m-89 0l3-1m84 1l2 2m1-2l-1 3m-52-2l0 3m37-3l3 0m-31 1l1 3m6-3l3-1m-1 1l-1 3m-11-2l3 0m89 0l2 1m-148 0l3 0m5 0l3 1m42 0l3 1m85-1l1 3m-131-2l2 2m38-1l3-1m-47 3l3-1m41 1l1 2m84-2l1 3m-135-2l2 2m46-2l2 2m9-2l3 0m8 0l0 3m-25-2l3-1m-49 2l1 2m53-2l2-2m71 2l3-1m-110 2l1 3m39-3l2-2m9 3l3 1m-28 0l-1 3m19-2l3 1m6-1l3-1m-59 2l2-2m12 2l1 2m-4-1l3 1m90-1l3 1m-99 1l3-1m25 1l-1 3m25-2l2 1m-71 0l3 0m17 0l1 2m26-2l3 0m22 0l-1 3m-29-2l0 3m-11-2l-1 3m4-3l-1 3m4-3l3 1m9-1l2-2m5 2l-1 3m21-3l2 1m-54 0l2-2m5 2l1 2m21-2l0 3m4-3l2-2m14 2l2 2m-53-1l2 1m17-1l3 1m10-1l3-1m14 1l3 1m-56 1l3 0m16 0l1 2m4-2l0 3m16-3l-1 3m8-3l3 0m7 0l2 2m-55-1l3-1m31 1l3 1m11-1l3-1m-48 2l2 2m26-2l2-2m6 2l1 3m-7-2l-1 3m2-3l3 0m-44 1l-1 3m18-3l1 3m4-3l1 3m2-3l2 1m1-1l2-2m1 2l2-2m16 2l3 0m-52 1l2 2m29-2l2 1m-1-1l2 2m-5-1l2-2m39 2l3 1m-65 0l3 1m41-1l-1 3m12-3l1 2m-75-1l1 2m14-2l2-2m2 2l3 0m2 1l2 2m10-2l3-1m36 1l3-1m-43 2l1 2m2-1l2-2m1 2l0 3m4-3l0 3m40-2l2 1m-44 0l0 3m-16-2l2-2m6 2l2-2m0 2l2 2m17-2l3-1m-25 2l1 3m26-3l2-2m4 2l-1 3m3-3l1 2m-34-1l-1 3m15-3l1 3m10-3l3 1m10-1l1 2m-49-1l2 1m24-1l1 2m27-2l3 1m-66 0l2 1m6-1l3 0m18 0l2 1m-20 0l-1 3m15-3l2 1m2-1l2 1m6-1l0 3m11-3l3 1m5-1l-1 3m7-3l3 0m8 0l3-1m-40 2l2 1m38-1l0 3m-68-1l2 1m4-1l2-2m10 2l3 1m-23 0l3-1m2 1l2 2m21-2l2 1m1-1l2 1m-1-1l1 2m9-2l0 3m-39-1l2 1m15-1l-1 3m16-3l0 3m39-3l3 0m-79 1l1 3m24-3l1 2m9-2l-1 3m-38-1l1 2m16-2l1 3m19-3l-1 3m8-3l2 1m-95 0l2 1m78-1l1 2m-80-1l1 2m91-2l2 1m-40 0l-1 3m59-1l2-2m-46 3l1 3m7-3l3-1m12 1l2-2m-5 3l0 3m35-3l3 1m-34 0l3-1m-39 2l2 1m13-1l2-2m-8 3l1 2m16-2l2 1m-18 0l3 1m74-1l3-1m-73 2l3-1m-10 2l1 2m7-2l1 2m67-1l1 3m-81-2l2 2m43-2l3 0m-2 0l3 0m-39 1l3 1m9-1l2-2m55 4l3 1m-89 0l-1 3m26-2l3 0m-20 2l1 3m15-1l-1 3m-12 4l0 3m2 2l2 2m-16 0l3 1m0 0l2 1m-7 1l3 0m-3 1l2 1m-6 0l3-1m-2 2l2-2m-12 6l2 2m-1-1l0 3m10-3l-1 3m-7-1l3-1m-2 1l2 2m-2-1l2 1m-9 2l3 1m-2-1l-1 3m6-3l2 1m0-1l2-2m1 2l1 2m1-2l2 2m-13-1l3 1m-2-1l3-1m1 1l2 1m-1-1l2 1m-10 0l2 1m1-1l2 1m2-1l1 2m-5 0l0 3m21-3l3 0m-25 2l1 2m0-2l3 0m0 0l2 1m0-1l-1 3m-4-2l2 2m-1-2l3 1m-5 0l0 3m1-3l1 3m1-3l0 3m1-3l3 1m-7 0l0 3m5-3l2 2m-9-1l2-2m-1 2l2 1m2 0l1 3m2-3l-1 3m12-2l0 3m-17-2l3-1m11 6l2 2m-7 6l1 2m1-2l2 2" fill="none" stroke="#3f923f" stroke-opacity="0.42" stroke-width="1"/>
<path d="M235 552l2 2m-19 0l3-1m4 5l2-2m10 4l3 0m-100 1l2 2m91-2l3 1m2 1l-1 3m8-1l3-1m-78 2l2 2m55 0l2 2m10-1l3-1m-3 3l-1 3m5-3l2-2m-9 3l1 3m-79-2l1 2m-7 3l2-2m46 2l3-1m19 1l1 3m-89-2l-1 3m6-1l-1 3m67-3l1 2m-54 1l2-2m-4 4l2-2m51 3l3 1m7-1l3 1m4 2l2 1m8-1l3 0m93 0l2 1m-34 0l-1 3m-96-2l-1 3m129-3l3-1m-175 4l-1 3m107-3l0 3m55-2l3-1m-114 3l-1 3m3-3l3 0m114 0l2 1m-175 0l3-1m51 1l3 1m-45 0l2 2m1-1l3 0m39 0l2-2m24 2l-1 3m83-3l2-2m37 3l1 2m-132-1l3 1m3-1l-1 3m-58 0l3-1m145 1l3-1m-113 3l2 1m22-1l2 2m35-1l2 2m-65 0l2 1m-50 0l1 2m43-2l1 2m-2-1l3 1m-6 0l2-2m26 2l3 0m92 0l2 2m-139-1l3 1m28-1l3-1m-38 2l3 0m4 0l3-1m42 2l1 2m22-2l2-2m-79 3l1 3m34-3l2 2m36-2l3-1m-26 2l1 3m38-3l3-1m-78 2l-1 3m-20-2l3 0m14 0l3 0m130 0l2 1m-94 0l2 1m16-1l1 3m93-3l3 0m-163 1l0 3m83-3l2 2m-32-1l3 0m21 0l2 1m-86 1l3 1m68-1l2 2m5-1l1 2m-52 0l1 2m34 0l-1 3m5-3l3-1m18 3l1 2m-65-1l1 2m8-2l3 1m-27 5l1 2m51-2l-1 3m-55-2l-1 3m14-3l3 1m-2-1l-1 3m62-3l2-2m-84 5l3 1m89 3l0 3m-87-2l2-2m8 4l3 0m112 1l3 1m-73 2l3 0m60 0l3 0m-66 2l3 1m-55 0l3 1m119 0l1 3m-102-2l2 1m-9 0l0 3m51 1l3-1m-60 5l3-1m125 1l0 3m-68-2l1 2m-15-1l2 2m-42-1l3 0m3 2l3 1m5 2l3 1m51-1l3 0m-29 1l1 2m22-2l3-1m-82 2l3 1m5 1l3 1m36-1l-1 3m3-3l3 1m-33 1l1 2m61-1l2-2m-113 3l3 1m108-1l1 3m45-1l3 1m-109 1l2-2m29 2l3 0m15 0l2-2m8 2l1 2m0 1l2 2m-25 1l1 2m8-2l2-2m-11 3l3 0m33 2l-1 3m9-2l1 3m-138-2l0 3m86-3l1 3m24-3l1 2m9-2l0 3m-46-2l1 3m-5-2l2 2m44 2l1 3m4-3l0 3m-34-1l0 3m41-3l2 1m-18 0l2 1m-43 0l3-1m1 1l2 2m74-1l1 2m-29 1l2-2m-42 3l3 0m-15 1l2 1m51 0l3 1m30 1l1 2m-81 1l2-2m-20 6l0 3m6-2l2 2m-64 5l2 1m59 8l2 1m-12 0l3 0m0 0l3 0m4 12l-1 3m22 18l1 2m-6-1l1 2m2-1l1 3m-4 0l3 1m1 1l2 1m-4 2l2-2m0 3l0 3m-15 4l3 1m6 0l2 2m-11 0l2 1m-11 0l0 3m8-2l0 3m-13-2l2-2m-6 6l3 0m5 3l3-1" fill="none" stroke="#e01818" stroke-opacity="0.5" stroke-width="1"/>
<path d="M342 576l1 2m-16 1l-1 3m23-3l1 2m-4 1l2 1m-14 1l2 1m-15 1l0 3m-9-2l3-1m0 1l0 3m26 1l-1 3m-47-2l2 1m0-1l1 2m23 1l2 2m-14-1l2-2m6 3l2 2m-92-1l2 1m26-1l0 3m93 1l2-2m-93 3l2 1m89 1l0 3m-133-1l3 0m46 0l3-1m83 2l2-2m-144 3l0 3m-10 0l2-2m66 2l3-1m-7 8l-1 3m14-3l3-1m-34 11l-1 3m12-2l3-1m6 5l2 1m-94 0l-1 3m86 0l3 0m6 3l1 2m-75-1l3-1m-31 4l3 1m86 8l2-2m-7 17l2 2m-12 7l-1 3m-80 24l2 1m59 2l3-1m20 8l1 2m-34 0l1 2m6 0l3 0m1 1l2-2m-18 7l3 0m15 15l1 2m-30 2l3 0m12 0l3 1m-9 0l3 0m2 5l3-1m-14 3l2 2m-4-1l3-1m16 2l1 3m-21-1l1 2m15-2l3 0m-21 2l1 2m-2 1l1 3m4-2l2 2m1-2l3 1m6 3l2 2m-6 8l3 1m-5 1l1 2m2-2l0 3m26 10l2-2m-18 17l2 2" fill="none" stroke="#30308c" stroke-opacity="0.5" stroke-width="1"/></g>
<ellipse cx="192.0" cy="754.3" rx="4.2" ry="10" fill="url(#gblob)"/>
<g fill="none" stroke="#000" stroke-width="1.45" stroke-linejoin="round">
<polygon points="139.1,776.4 137.0,775.6 134.9,776.0 132.8,775.2 130.6,775.6 128.3,776.0 125.9,776.2 123.7,777.3 123.4,775.2 122.6,773.3 122.0,771.3 120.3,769.9 119.4,767.9 120.3,764.5 119.1,762.0 118.6,759.3 116.8,758.2 115.2,756.8 114.4,754.6 113.5,752.5 112.2,750.7 110.2,749.5 109.2,747.4 107.3,748.2 105.2,747.9 103.2,748.2 101.5,749.3 100.1,750.8 98.3,751.7 96.4,752.5 93.0,754.2 91.7,752.4 90.3,750.6 88.7,749.1 87.8,746.9 87.9,744.5 87.0,742.3 85.4,740.8 84.4,738.8 83.4,736.9 81.9,735.4 83.7,733.1 84.4,730.3 85.3,728.2 86.1,726.0 87.3,723.5 89.5,721.8 90.5,719.7 91.3,717.5 91.7,715.3 91.2,712.9 92.1,710.7 94.0,709.5 95.5,707.8 97.6,708.8 99.8,708.4 101.5,710.1 102.4,712.4 104.9,709.8 107.0,708.0 109.2,706.4 110.8,705.2 111.8,703.3 113.5,702.1 115.5,701.5 116.8,699.7 118.6,698.7 120.7,697.3 122.9,696.0 124.6,693.6 125.4,690.9 125.3,688.6 125.3,686.2 126.3,684.0 126.1,681.4 125.4,678.9 126.5,676.5 126.3,673.8 127.3,671.5 128.8,669.5 131.2,667.7 134.0,666.9 134.2,664.8 134.8,662.7 134.6,660.4 133.6,658.4 133.3,656.4 132.9,654.4 133.1,652.4 134.5,650.5 134.8,648.1 134.6,646.0 134.0,643.9 132.8,641.7 131.4,639.6 130.5,636.8 128.8,634.5 126.6,632.7 125.4,630.2 123.7,628.7 122.4,626.9 120.3,625.9 118.4,624.7 117.2,622.7 115.2,621.7 113.5,619.9 111.0,619.7 109.2,618.2 107.1,616.4 104.9,614.8 102.9,614.6 101.0,613.6 98.9,613.6 96.6,614.0 94.3,614.0 92.1,614.8 90.4,616.2 89.5,618.2 87.8,619.9 86.9,622.0 86.1,624.2 83.8,622.8 81.9,620.8 79.4,619.7 76.7,619.4 74.7,619.9 72.8,620.7 70.8,621.1 68.4,622.4 65.6,622.5 64.0,624.3 62.2,625.9 60.5,624.6 58.8,623.4 57.1,621.7 55.4,620.0 55.2,617.4 54.5,614.8 56.6,613.5 57.9,611.4 58.0,609.1 57.9,606.9 57.9,604.6 58.7,602.4 60.5,600.7 61.4,598.6 62.6,596.6 62.7,594.4 63.8,592.4 63.9,590.1 64.1,587.8 65.1,585.8 65.6,583.6 66.5,581.5 66.8,579.2 68.2,577.2 67.8,574.7 69.0,572.6 70.8,573.8 73.1,573.4 75.0,574.2 76.7,575.5 78.6,576.1 80.7,576.1 82.7,576.4 84.9,576.7 87.0,577.2 89.1,575.4 91.3,573.8 93.2,571.9 94.7,569.6 96.6,568.6 98.5,567.6 99.8,565.8 102.3,564.6 104.9,563.6 106.6,561.9 108.2,560.1 108.3,557.5 108.2,555.0 106.5,554.1 106.9,552.0 107.2,550.0 108.2,548.1 109.3,546.1 109.7,543.8 110.3,541.6 111.6,539.6 112.5,537.6 112.3,535.3 112.2,533.1 113.3,531.1 113.6,528.7 113.9,526.4 115.0,524.2 116.7,520.8 118.8,519.6 120.6,517.8 122.7,516.5 123.1,514.3 124.0,512.4 125.3,510.6 124.4,508.1 124.4,505.4 124.2,502.6 122.7,500.3 119.3,498.6 117.2,499.5 115.0,500.0 111.6,498.6 111.6,495.2 112.9,493.6 114.0,491.9 114.4,489.7 115.9,488.3 117.3,486.7 118.9,485.2 120.0,483.4 121.0,481.5 123.2,481.6 125.3,480.7 127.6,480.2 129.9,480.2 132.1,479.5 134.0,477.6 136.4,476.4 138.4,474.8 141.1,474.7 143.2,473.3 145.5,473.3 147.8,472.8 150.0,472.1 152.8,471.6 155.2,469.9 157.5,469.6 159.6,468.5 162.0,468.7 164.3,469.2 166.4,470.3 168.8,470.4 171.4,470.9 174.0,471.3 175.9,472.6 178.2,473.0 180.7,474.3 183.4,475.0 185.9,472.1 188.2,471.7 190.5,472.2 192.8,472.6 194.8,474.6 197.0,476.4 198.7,477.5 200.4,478.8 202.2,479.8 204.0,481.1 204.9,483.3 206.4,484.9 207.9,486.6 209.7,488.0 210.7,490.1 212.0,492.5 212.4,495.2 213.5,497.1 215.5,498.4 216.7,500.3 217.8,502.0 218.4,504.1 220.1,505.4 221.9,507.6 222.6,510.4 224.0,512.5 225.1,514.7 226.7,516.9 228.5,518.9 230.3,521.0 232.0,523.2 232.5,525.4 233.6,527.2 234.5,529.2 236.0,531.1 237.9,532.6 239.6,536.0 239.9,538.0 240.9,539.9 240.5,542.0 241.9,544.0 243.9,545.4 245.8,546.2 248.0,546.0 249.9,547.1 252.0,546.8 253.9,546.0 255.9,545.4 258.9,544.8 261.9,545.4 263.9,545.8 265.8,546.8 267.8,547.1 270.4,546.4 273.0,545.4 274.6,546.9 276.4,548.0 278.0,549.4 279.8,550.6 282.4,551.7 284.9,553.1 287.3,554.5 290.0,554.8 292.6,554.5 295.2,554.0 295.4,556.3 295.5,558.6 296.0,560.8 297.3,562.3 299.2,563.3 300.3,565.1 300.5,567.1 300.4,569.2 301.2,571.1 302.6,572.7 303.7,574.5 305.0,576.6 307.1,577.9 308.8,579.6 311.2,579.3 313.1,577.9 315.1,577.6 317.0,576.8 319.1,577.0 321.6,576.7 323.8,575.9 325.9,574.5 328.0,573.0 330.5,572.7 332.8,571.9 332.9,569.8 333.8,567.9 334.5,565.9 335.9,563.6 337.9,561.7 339.4,560.2 341.2,559.2 343.0,558.2 344.9,557.4 346.6,556.2 348.1,554.8 350.3,553.9 351.2,551.6 353.3,550.6 354.9,549.3 356.6,548.1 358.4,547.1 361.1,546.5 363.5,545.1 365.5,544.4 367.3,543.4 368.3,545.4 366.3,547.0 364.4,548.8 363.9,551.4 363.5,554.0 364.3,556.4 366.1,558.2 366.9,560.1 367.0,562.2 366.9,564.2 365.6,566.4 364.5,568.7 363.5,571.1 363.5,573.7 362.7,576.2 363.0,578.3 363.5,580.4 364.0,582.5 363.5,584.7 363.1,586.8 363.7,588.8 364.1,590.9 363.9,593.0 364.4,595.0 363.4,597.2 363.6,599.6 362.7,601.8 362.3,604.1 362.6,606.4 363.5,608.6 363.0,611.0 362.1,613.3 361.0,615.5 360.6,617.8 360.7,620.1 360.1,622.3 359.0,625.3 359.7,627.2 359.5,629.3 359.8,631.3 357.3,633.8 355.0,633.4 352.7,632.8 350.2,633.5 347.9,633.0 345.5,633.1 343.2,632.1 340.9,632.2 338.5,632.1 338.2,634.8 336.8,637.2 335.0,638.3 334.1,640.2 332.5,641.5 330.5,642.6 328.8,644.0 327.4,645.8 326.5,648.3 327.5,650.6 329.1,652.6 330.7,654.0 331.1,656.2 332.5,657.7 334.0,659.8 335.2,662.1 335.9,664.6 337.1,666.4 337.5,668.5 337.6,670.6 337.4,673.1 338.5,675.3 338.5,677.7 339.3,680.0 339.9,682.0 340.3,684.0 341.1,685.9 341.0,688.5 341.1,691.1 339.3,694.5 336.8,695.8 335.1,697.9 331.7,699.6 332.6,701.6 334.2,703.0 334.2,705.2 335.1,707.3 333.6,705.7 332.5,703.9 329.9,701.3 328.2,699.6 326.5,697.9 323.1,697.0 320.6,697.9 320.6,700.2 320.3,702.5 319.7,704.7 319.0,707.3 318.0,709.9 315.4,712.4 313.9,714.4 312.9,716.7 311.1,718.6 310.3,721.0 307.7,723.5 305.8,724.1 303.7,724.3 301.8,725.2 299.4,725.9 297.3,727.3 294.9,727.8 293.2,729.5 294.3,731.4 295.8,732.9 297.6,735.0 299.2,737.2 300.3,739.6 300.0,742.3 297.6,743.6 294.9,744.0 292.8,743.3 290.6,744.3 288.5,743.4 286.4,744.0 284.4,743.6 282.5,743.0 280.4,743.2 279.0,741.7 277.7,740.1 276.1,738.9 274.0,738.5 271.9,738.9 271.2,741.5 270.2,744.0 270.2,746.3 269.2,748.6 269.3,750.9 268.1,752.8 267.0,754.8 265.9,756.8 263.7,759.3 261.7,760.6 260.6,762.8 258.6,763.8 257.3,765.6 255.2,767.9 254.1,770.0 252.4,771.5 250.7,773.0 249.2,774.7 248.0,776.7 246.0,778.0 245.1,780.2 243.2,781.6 241.6,783.3 240.3,785.1 239.9,787.7 238.1,789.2 237.4,791.7 235.9,793.9 234.7,796.1 232.5,797.2 230.1,797.7 227.8,798.6 225.7,800.0 223.5,801.1 221.0,801.6 218.0,802.7 216.5,804.4 214.5,805.3 212.0,806.5 210.3,808.7 207.8,810.0 206.0,812.1 204.3,813.8 202.6,815.5 200.9,819.0 199.2,822.4 197.2,823.6 195.8,825.4 193.2,828.3 191.2,829.8 189.8,831.8 186.4,833.5 183.4,832.6 182.9,830.5 182.9,828.3 185.4,826.9 188.1,825.8 189.9,824.6 191.5,823.2 191.1,820.7 191.5,817.3 194.9,815.4 191.5,816.0 188.9,815.7 186.4,816.4 183.4,815.5 183.8,813.0 187.2,811.7 186.4,808.7 188.1,805.3 189.5,803.2 190.6,801.0 191.7,798.6 193.6,796.8 194.4,794.5 195.8,792.5 196.7,789.9 197.9,787.4 197.3,785.4 195.8,783.9 194.1,782.8 192.8,781.2 191.5,779.7 189.8,778.4 188.1,777.1 185.5,777.1 183.3,777.5 181.2,778.0 178.8,778.4 176.5,778.0 174.9,779.6 173.6,781.4 171.8,784.8 171.1,787.6 169.3,789.9 167.8,791.9 166.7,794.2 165.9,797.0 165.0,799.7 163.1,800.9 160.7,801.1 159.0,802.7 157.0,804.1 154.8,805.3 153.8,803.4 152.2,801.9 151.0,799.7 149.6,797.6 148.2,795.9 147.9,793.8 145.3,793.7 142.8,794.2 141.4,792.5 139.4,791.6 136.0,789.9 133.8,788.2 134.0,785.5 135.1,783.1 136.8,780.5 138.3,778.6 139.1,776.4"/>
<polyline points="132.1,479.5 133.4,481.1 134.7,482.8 136.4,484.1 135.4,486.6 135.6,489.3 134.7,491.8 132.8,493.7 131.3,496.0 133.1,497.8 135.5,498.6 137.6,500.3 139.8,502.0 143.2,500.3 144.9,496.9 148.3,498.3 150.6,500.2 153.5,501.2 154.4,503.5 156.0,505.4 157.0,507.4 156.9,509.8 158.6,511.7 158.6,514.0 159.8,515.8 160.5,517.7 161.6,519.6 162.0,521.7 164.6,522.2 167.1,522.9 169.2,521.9 171.1,520.5 173.1,519.4 175.7,519.7 178.2,519.1 180.3,518.7 182.3,518.4 184.2,517.4 186.7,516.3 189.3,515.7 190.6,514.1 191.1,511.9 192.8,510.6 195.3,508.8 197.6,509.0 199.6,510.2 201.2,511.6 202.9,513.1 204.8,514.3 206.4,515.7 208.4,517.1 209.7,519.3 211.6,520.8 210.7,522.8 210.3,525.0 209.8,527.1 209.8,529.3 208.7,532.0 207.3,534.5 207.1,536.8 205.5,538.6 205.1,540.8 204.7,543.0 203.7,545.5 203.0,548.1 203.8,550.2 203.9,552.4 203.0,554.6 203.9,556.7 205.4,559.1 206.4,561.8 206.1,564.4 206.4,566.9 204.3,567.7 202.2,568.6 201.3,570.8 202.2,573.3 201.3,575.5 200.9,577.8 200.5,580.1 199.8,582.3 199.1,584.8 199.5,587.3 200.7,589.3 200.9,592.1 200.7,595.0 199.5,591.8 198.9,589.8 197.6,588.1 196.4,584.9 194.5,585.6 192.9,587.5 191.3,589.3 190.6,591.3 189.3,593.0 189.0,595.1 187.6,596.8 186.1,598.5 185.1,600.5 183.2,601.9 181.2,603.7 180.1,606.2 178.1,608.3 175.7,610.0 174.2,612.6 171.9,614.4 171.1,616.8 170.7,619.4 173.2,622.5 175.5,624.1 178.2,625.0 180.1,628.2 181.0,630.3 182.6,631.9 184.5,632.5 187.0,629.4 186.3,626.3 190.1,625.9 192.6,627.5 193.2,630.7 190.1,632.5 187.6,633.5 185.1,634.4 183.8,637.6 185.1,640.7 187.6,643.2"/>
<polyline points="187.6,643.2 188.8,642.6 191.3,642.6 193.8,641.9 197.6,640.7 200.1,639.4 200.7,641.5 202.0,643.2 202.6,645.7 203.2,648.2 204.9,650.5 205.7,653.2 206.8,655.2 208.9,656.3 210.9,657.4 212.6,658.9 216.4,658.2 218.4,656.6 220.8,655.7 223.9,657.6 226.0,657.4 227.7,656.3 230.2,655.1 232.7,653.8 234.8,655.1 236.4,657.0 238.8,658.8 241.5,660.1 243.8,659.5 245.8,658.2 248.0,657.0 250.2,655.7 252.6,656.8 255.2,657.0 257.0,659.0 259.0,660.7 260.8,662.9 261.3,665.4 261.6,668.0 264.2,668.1 266.7,668.8 268.7,670.4 271.0,671.4 272.3,673.5 274.4,674.8 276.4,676.2 277.8,678.2 279.1,676.6 279.6,674.5 281.3,673.1 281.8,671.0 282.1,668.8 284.7,667.1 286.4,668.5 287.2,670.6 288.2,673.3 289.8,675.7 290.7,677.8 292.2,679.5 294.1,680.8 295.0,682.7 296.1,684.4 297.5,685.9 300.0,687.6 303.5,685.9 304.2,683.4 304.3,680.8 306.5,679.6 308.6,678.2 310.6,676.7 312.9,675.7 314.6,672.3 317.1,674.0 318.8,671.8 320.6,669.7 321.4,672.1 323.1,674.0 323.8,676.5 325.7,678.2 328.2,679.1 330.8,679.1 333.3,679.8 335.9,680.0 339.3,680.0"/>
<polyline points="187.6,643.2 187.6,645.7 186.8,647.7 185.0,648.8 183.6,650.8 183.2,653.2 182.2,656.8 178.6,655.7 175.6,654.0 173.4,654.7 171.0,654.7 169.0,653.8 166.8,653.3 165.3,656.5 165.6,660.1 167.7,661.0 169.8,661.9 171.1,663.5 172.9,664.5 175.0,667.8 174.7,670.3 175.4,672.8 174.7,675.1 175.2,677.4 175.1,679.7 175.5,682.3 177.1,684.5 177.8,686.8 179.5,688.4 181.1,690.8 181.1,692.8 181.5,694.8 184.3,694.8 187.5,692.8 189.4,691.2 190.7,689.2 192.4,687.2 194.7,686.0 195.5,688.4 196.6,690.7 198.6,692.4 199.2,694.4 201.0,695.6 201.3,697.8 202.6,699.6 204.1,701.2 204.9,703.3 205.8,705.2 204.6,707.6 202.6,708.8 203.4,710.8 206.6,712.0 209.8,712.8"/>
<polyline points="209.8,712.8 210.6,709.2 211.4,708.8 213.8,711.2 215.9,711.8 217.8,712.8 220.0,713.4 221.8,714.8 223.5,716.4 224.2,718.7 225.8,721.5 227.1,719.8 228.1,717.9 229.7,714.4 231.3,714.0 232.2,715.9 232.9,717.9 233.5,720.3 235.3,721.9 236.1,724.2 237.7,725.9 240.0,729.1 241.0,731.2 243.2,732.4 244.1,734.6 244.6,736.6 245.1,738.6 245.8,740.6 247.2,743.0 247.5,745.7 249.2,747.9 250.8,750.2 252.2,751.8 253.6,753.4 254.5,755.3 254.8,757.4 255.9,759.1 256.5,761.1 257.4,763.3 257.3,765.6"/>
<polyline points="209.8,712.8 210.6,714.9 210.2,717.1 209.8,719.1 209.4,721.1 205.8,721.9 203.4,724.3 203.4,726.7 201.0,728.7 197.8,730.3 194.7,729.1 192.7,728.9 190.7,728.7 189.1,729.9 187.5,732.3 185.6,733.0 183.5,733.1 181.9,735.3 179.0,737.8 176.7,739.7 175.2,741.2 173.6,742.4 171.6,743.1 169.8,744.0 168.2,745.4 166.8,747.1 164.9,748.1 163.0,749.1 161.0,750.5 159.5,752.4 157.9,754.2 156.3,755.8 155.4,757.7 154.7,759.8 154.2,761.9 152.8,763.6 152.0,761.4 150.4,759.7 149.3,757.6 147.1,755.9 145.9,753.4 144.6,751.5 142.9,750.1 140.8,749.1 139.5,750.7 137.9,752.0 136.5,753.4 137.6,755.4 138.2,757.6 138.3,759.9 138.5,762.2 139.6,764.3 140.2,766.5 141.1,768.6 140.7,770.7 140.7,772.8 139.1,776.4"/>
</g>
<g font-family="Liberation Serif, Times New Roman, serif" font-weight="bold" font-size="14.6" fill="#000">
<text x="68.2" y="609.7" textLength="99" lengthAdjust="spacingAndGlyphs">Inner Mongolia</text>
<text x="240.5" y="606.9" textLength="83" lengthAdjust="spacingAndGlyphs">Heilongjiang</text>
<text x="237.7" y="700.5" textLength="27.3" lengthAdjust="spacingAndGlyphs">Jilin</text>
<text x="174.2" y="771.2" textLength="57" lengthAdjust="spacingAndGlyphs">Liaoning</text>
</g>
<rect x="45.6" y="456.8" width="336.59999999999997" height="403.09999999999997" fill="none" stroke="#3a3a3a" stroke-width="1.3"/>
<g font-family="Liberation Serif, Times New Roman, serif" font-weight="bold" font-size="12" fill="#000">
<line x1="70.1" y1="859.9" x2="70.1" y2="862.9" stroke="#404040" stroke-width="1"/>
<text x="70.1" y="875.2" text-anchor="middle">115°E</text>
<line x1="105.0" y1="456.8" x2="105.0" y2="453.8" stroke="#404040" stroke-width="1"/>
<text x="105.0" y="450.2" text-anchor="middle">120°E</text>
<line x1="166.0" y1="859.9" x2="166.0" y2="862.9" stroke="#404040" stroke-width="1"/>
<text x="166.0" y="875.2" text-anchor="middle">120°E</text>
<line x1="181.4" y1="456.8" x2="181.4" y2="453.8" stroke="#404040" stroke-width="1"/>
<text x="181.4" y="450.2" text-anchor="middle">125°E</text>
<line x1="263.4" y1="859.9" x2="263.4" y2="862.9" stroke="#404040" stroke-width="1"/>
<text x="263.4" y="875.2" text-anchor="middle">125°E</text>
<line x1="259.4" y1="456.8" x2="259.4" y2="453.8" stroke="#404040" stroke-width="1"/>
<text x="259.4" y="450.2" text-anchor="middle">130°E</text>
<line x1="362.7" y1="859.9" x2="362.7" y2="862.9" stroke="#404040" stroke-width="1"/>
<text x="362.7" y="875.2" text-anchor="middle">130°E</text>
<line x1="339.5" y1="456.8" x2="339.5" y2="453.8" stroke="#404040" stroke-width="1"/>
<text x="339.5" y="450.2" text-anchor="middle">135°E</text>
<line x1="45.6" y1="819.8" x2="42.6" y2="819.8" stroke="#404040" stroke-width="1"/>
<text transform="translate(38.9,819.8) rotate(-90)" text-anchor="middle">40°N</text>
<line x1="382.2" y1="758.0" x2="385.2" y2="758.0" stroke="#404040" stroke-width="1"/>
<text transform="translate(397.5,758.0) rotate(-90)" text-anchor="middle">40°N</text>
<line x1="45.6" y1="694.6" x2="42.6" y2="694.6" stroke="#404040" stroke-width="1"/>
<text transform="translate(38.9,694.6) rotate(-90)" text-anchor="middle">45°N</text>
<line x1="382.2" y1="628.0" x2="385.2" y2="628.0" stroke="#404040" stroke-width="1"/>
<text transform="translate(397.5,628.0) rotate(-90)" text-anchor="middle">45°N</text>
<line x1="45.6" y1="571.2" x2="42.6" y2="571.2" stroke="#404040" stroke-width="1"/>
<text transform="translate(38.9,571.2) rotate(-90)" text-anchor="middle">50°N</text>
<line x1="382.2" y1="499.2" x2="385.2" y2="499.2" stroke="#404040" stroke-width="1"/>
<text transform="translate(397.5,499.2) rotate(-90)" text-anchor="middle">50°N</text>
</g>
<rect x="50.0" y="822.6" width="56" height="5.4" fill="#000"/>
<rect x="106.0" y="823.0" width="54.8" height="4.8" fill="#fff" stroke="#404040" stroke-width="0.8"/>
<g font-family="Liberation Serif, Times New Roman, serif" font-weight="bold" font-size="12.8" fill="#000">
<text x="46.9" y="816.2">0</text>
<text x="95.6" y="816.2">250</text>
<text x="150.9" y="816.2">500</text>
<text x="164.7" y="827.9">km</text>
</g>
<rect x="225.7" y="814.9" width="28.4" height="15.2" fill="#fff" stroke="#000" stroke-width="1.7"/>
<text x="256.9" y="828.0" font-family="Liberation Serif, Times New Roman, serif" font-weight="bold" font-size="15" textLength="121.7" lengthAdjust="spacingAndGlyphs">Province boundary</text>
<rect x="50.0" y="838.8" width="35.5" height="17.3" fill="#70b074"/>
<text x="87.0" y="852.9" font-family="Liberation Serif, Times New Roman, serif" font-weight="bold" font-size="17.2" fill="#000">CT</text>
<rect x="183.6" y="838.8" width="35.5" height="17.3" fill="#454f8c"/>
<text x="220.6" y="852.9" font-family="Liberation Serif, Times New Roman, serif" font-weight="bold" font-size="17.2" fill="#000">RT</text>
<rect x="316.6" y="838.8" width="35.5" height="17.3" fill="#e60000"/>
<text x="353.6" y="852.9" font-family="Liberation Serif, Times New Roman, serif" font-weight="bold" font-size="17.2" fill="#000">NT</text>
<text x="46.6" y="480.5" font-family="Liberation Sans, Arial, sans-serif" font-size="30.2" fill="#000">(d)</text>
<clipPath id="clipe"><rect x="417.4" y="454.5" width="336.1" height="402.9"/></clipPath>
<g clip-path="url(#clipe)" fill="none" stroke="#b4b4b4" stroke-width="0.7" stroke-dasharray="1.3 2.2">
<polyline points="462.3,1012.1 460.6,995.5 459.0,978.9 457.3,962.3 455.7,945.7 454.0,929.0 452.3,912.4 450.7,895.8 449.0,879.1 447.3,862.5 445.7,845.9 444.0,829.2 442.3,812.6 440.7,796.0 439.0,779.4 437.3,762.9 435.7,746.3 434.0,729.8 432.4,713.3 430.7,696.8 429.1,680.3 427.4,663.9 425.8,647.6 424.2,631.2 422.5,614.9 420.9,598.7 419.3,582.5 417.7,566.4 416.1,550.3 414.5,534.3 412.9,518.4 411.3,502.5 409.7,486.7 408.1,471.0 406.5,455.4 405.0,439.9 403.4,424.4 401.9,409.1 400.4,393.9 398.9,378.8"/>
<polyline points="564.3,999.3 561.8,982.8 559.3,966.3 556.8,949.8 554.3,933.3 551.8,916.7 549.3,900.2 546.8,883.7 544.3,867.1 541.8,850.6 539.3,834.1 536.8,817.6 534.3,801.1 531.8,784.6 529.3,768.1 526.8,751.6 524.3,735.2 521.9,718.7 519.4,702.3 516.9,686.0 514.4,669.6 512.0,653.3 509.5,637.0 507.0,620.8 504.6,604.6 502.1,588.5 499.7,572.4 497.3,556.4 494.9,540.4 492.5,524.5 490.1,508.7 487.7,492.9 485.3,477.2 482.9,461.6 480.6,446.1 478.3,430.7 475.9,415.3 473.6,400.1 471.3,385.0 469.1,369.9"/>
<polyline points="665.5,981.3 662.2,965.0 658.9,948.6 655.6,932.3 652.2,915.9 648.9,899.5 645.6,883.1 642.2,866.8 638.9,850.4 635.6,834.0 632.3,817.6 628.9,801.2 625.6,784.9 622.3,768.5 619.0,752.2 615.6,735.9 612.3,719.6 609.0,703.3 605.7,687.0 602.4,670.8 599.1,654.6 595.8,638.5 592.6,622.3 589.3,606.2 586.0,590.2 582.8,574.2 579.5,558.3 576.3,542.4 573.1,526.6 569.9,510.8 566.7,495.1 563.5,479.5 560.4,463.9 557.2,448.5 554.1,433.1 551.0,417.8 547.9,402.6 544.8,387.5 541.8,372.5 538.7,357.6"/>
<polyline points="765.7,958.3 761.6,942.2 757.4,926.0 753.3,909.8 749.1,893.7 745.0,877.5 740.8,861.3 736.7,845.1 732.5,828.9 728.4,812.7 724.2,796.5 720.1,780.3 716.0,764.1 711.8,748.0 707.7,731.8 703.5,715.7 699.4,699.6 695.3,683.5 691.2,667.4 687.1,651.4 683.0,635.4 678.9,619.4 674.8,603.4 670.7,587.5 666.6,571.7 662.6,555.9 658.5,540.1 654.5,524.4 650.5,508.8 646.5,493.2 642.5,477.7 638.6,462.2 634.6,446.9 630.7,431.6 626.8,416.4 623.0,401.2 619.1,386.2 615.3,371.3 611.5,356.5 607.7,341.8"/>
<polyline points="864.6,930.3 859.7,914.4 854.7,898.4 849.8,882.5 844.8,866.5 839.9,850.6 834.9,834.6 829.9,818.7 825.0,802.7 820.0,786.7 815.1,770.8 810.1,754.8 805.2,738.9 800.2,722.9 795.3,707.0 790.3,691.1 785.4,675.2 780.4,659.4 775.5,643.5 770.6,627.7 765.7,611.9 760.8,596.2 755.9,580.5 751.1,564.8 746.2,549.1 741.4,533.6 736.5,518.0 731.7,502.6 726.9,487.1 722.2,471.8 717.4,456.5 712.7,441.2 708.0,426.1 703.3,411.0 698.6,396.0 694.0,381.1 689.4,366.3 684.8,351.6 680.3,337.0 675.8,322.5"/>
<polyline points="257.2,821.8 276.2,821.7 295.2,821.4 314.2,820.9 333.3,820.3 352.3,819.4 371.2,818.3 390.2,817.1 409.2,815.6 428.1,814.0 447.1,812.1 466.0,810.1 484.9,807.9 503.7,805.4 522.6,802.8 541.4,800.0 560.1,797.0 578.9,793.8 597.6,790.3 616.3,786.8 634.9,783.0 653.5,779.0 672.1,774.8 690.6,770.4 709.0,765.9 727.5,761.1 745.8,756.2 764.1,751.1 782.4,745.8 800.6,740.3 818.8,734.6 836.8,728.7 854.9,722.6 872.8,716.4 890.7,710.0 908.6,703.3 926.3,696.5 944.0,689.5 961.6,682.4 979.2,675.0"/>
<polyline points="257.3,697.1 275.0,697.0 292.8,696.8 310.5,696.3 328.2,695.7 345.9,694.9 363.6,693.9 381.3,692.7 399.0,691.4 416.7,689.8 434.3,688.1 451.9,686.2 469.6,684.1 487.1,681.9 504.7,679.4 522.2,676.8 539.7,674.0 557.2,671.0 574.7,667.8 592.1,664.4 609.4,660.9 626.8,657.2 644.1,653.3 661.3,649.2 678.6,645.0 695.7,640.6 712.9,636.0 729.9,631.2 747.0,626.2 763.9,621.1 780.8,615.8 797.7,610.3 814.5,604.7 831.3,598.9 847.9,592.9 864.6,586.7 881.1,580.3 897.6,573.8 914.0,567.1 930.4,560.3"/>
<polyline points="257.4,574.3 273.9,574.3 290.3,574.0 306.8,573.6 323.3,573.0 339.7,572.3 356.1,571.4 372.6,570.3 389.0,569.0 405.4,567.6 421.8,566.0 438.1,564.2 454.5,562.3 470.8,560.2 487.1,557.9 503.4,555.4 519.6,552.8 535.9,550.1 552.1,547.1 568.2,544.0 584.4,540.7 600.5,537.3 616.5,533.7 632.6,529.9 648.5,525.9 664.5,521.8 680.4,517.6 696.2,513.1 712.0,508.5 727.8,503.8 743.5,498.8 759.2,493.8 774.8,488.5 790.3,483.1 805.8,477.5 821.2,471.8 836.6,465.9 851.9,459.9 867.2,453.7 882.4,447.3"/>
</g>
<g clip-path="url(#clipe)"><path d="M613 540l1 2m-1 2l2 1m-3 8l3-1m-9 3l2-2m24 3l3-1m-105 3l-1 3m66-3l2 2m24-2l1 3m-29 0l-1 3m-59-2l2 2m71-1l1 2m22-2l1 2m3-2l2 1m-20 1l0 3m-3-2l2-2m100 2l-1 3m-186-2l3 1m60-1l2 2m-48 1l3 0m69 0l2-2m6 2l1 2m-95-1l1 3m170-3l-1 3m-163-2l0 3m105-3l2 1m-67 0l1 3m109-2l2 2m18-2l2 2m2-2l1 3m0-3l3 1m-126 0l2-2m9 2l3 0m36 0l2-2m69 2l-1 3m-76-2l3 1m45-1l2-2m9 2l3-1m-186 2l-1 3m22-3l1 2m4-1l2 2m61-2l-1 3m-1-2l3 1m31-1l2 1m48-1l2 2m15-1l2 1m7-1l2-2m-9 3l2-2m3 2l2-2m-122 3l3-1m39 1l1 3m28-3l2 1m69-1l1 2m-116-1l1 3m-30-2l0 3m11-3l3 1m90-1l3 0m40 0l-1 3m-152-2l1 2m70-2l1 3m49-3l3 0m12 0l3-1m-181 2l1 2m41-2l-1 3m9-3l2 2m25-2l3 0m6 0l1 2m7-2l-1 3m0-2l0 3m-54-2l1 2m1-2l2-2m127 2l3 1m-175 0l1 3m15-3l1 3m35-3l1 3m40-3l2 1m-34 0l2 1m19-1l3-1m13 1l0 3m-100-2l2-2m51 2l3 0m8 0l2 2m100-2l3 0m14 0l0 3m-127-2l1 2m29-2l2-2m-102 3l1 3m69-3l2-2m4 2l3 0m0 0l2 2m55-2l1 2m20-2l2 2m16-2l-1 3m-153-2l1 2m36-2l1 2m61-2l1 2m-90-1l3 1m40-1l-1 3m5-3l3-1m3 1l-1 3m121-3l2 1m-207 0l2-2m207 2l2 1m-54 0l1 3m20-3l3 1m10-1l2 1m24-1l3-1m-184 2l2-2m40 2l3 0m4 0l2-2m39 2l1 2m70-2l3 1m-165 0l-1 3m25-3l2 1m4-1l1 2m18-2l1 2m27-2l3 0m80 0l1 2m-89-1l2 2m6-2l2 1m1-1l3 0m87 0l3 0m-194 1l3-1m40 1l3 0m3 0l2-2m15 2l2 1m14-1l1 3m8-3l2 2m0-2l3 0m55 0l3 0m37 0l0 3m-148-2l2 1m0-1l0 3m20-3l1 2m108-2l3 0m-180 1l2-2m55 2l2 2m2-2l3-1m10 1l2 1m25-1l0 3m17-3l1 2m16-2l-1 3m56-3l2 2m7-2l1 3m-155-2l-1 3m35-3l2 1m25-1l3 1m59-1l1 2m-132-1l1 2m1-2l2 1m13-1l1 2m4-2l-1 3m33-3l2 2m-92-1l1 3m36-3l3-1m10 2l2 1m105-1l2 1m-94 0l1 2m-65-1l2 1m39-1l1 2m4-2l3-1m24 1l0 3m-21-2l3 1m49-1l3-1m-33 2l2 1m44-1l2 2m-115-1l3-1m11 1l1 2m42-2l-1 3m28-3l3 1m20-1l0 3m-48-2l3-1m47 1l2-2m13 2l0 3m54-3l2 1m-97 0l-1 3m6-3l-1 3m-80-2l3 0m77 0l3-1m4 1l3-1m8 1l1 3m8-3l1 3m-32-2l3 1m13-1l3 1m5-1l2 1m3-1l3-1m58 1l0 3m-130-2l1 2m28-2l0 3m7-3l1 3m6-3l2-2m7 2l1 2m14-2l1 3m-97-2l2 1m62-1l2 2m-66-1l2-2m19 2l1 2m45-2l3 0m9 0l3 0m-91 1l3 0m51 0l0 3m33-3l2 2m1-2l2-2m9 2l0 3m-104-2l2 1m94-1l0 3m9-3l1 3m-95-2l0 3m31-3l2-2m25 2l2 1m28-1l-1 3m11-3l3 0m-113 1l2-2m-1 2l2 2m32-2l-1 3m20-3l3 0m14 0l3-1m18 1l3 1m14-1l1 2m-102-1l3-1m-1 1l2 2m20-2l2 2m41-2l2 1m-73 0l1 2m8-2l0 3m28-3l1 3m9-3l1 2m3-2l2 1m14-1l-1 3m14-3l0 3m-27-2l2 2m6-2l2-2m20 2l2-2m15 2l2 2m6-2l1 2m-10-1l0 3m2-3l3-1m-2 1l1 2m4-2l3 0m-116 1l3-1m58 1l0 3m22-3l2-2m1 2l1 3m7-3l2 2m5-2l1 2m6-2l3 0m-14 1l0 3m2-3l3 1m-31 0l2 2m33-2l3-1m-90 2l2 2m21-2l1 3m12-3l1 3m11-3l-1 3m19-3l1 3m16-2l0 3m-83-2l3-1m0 1l3-1m0 1l1 3m3-3l3-1m2 1l1 3m27-3l3 0m29 0l1 2m-13 0l2-2m-6 4l0 3m-13-1l3-1m41 1l2 2m-107-1l2 1m3-1l2 2m71-2l0 3m-19-2l3 1m70-1l1 3m-128-2l2 2m71-2l0 3m8-3l1 3m-72-2l2 2m7-2l0 3m67-3l0 3m-69-2l1 3m106-3l0 3m16-3l1 2m-71-1l1 3m69-3l3 1m-140 1l-1 3m8-3l1 3m10-3l3 1m35-1l1 3m4-3l1 2m-92-1l0 3m82-3l0 3m33-3l-1 3m-35-1l2-2m2 2l2 1m2-1l1 2m67-2l3-1m-124 3l2 1m10-1l-1 3m57-3l2 1m77-1l3 0m-150 1l2 2m20-2l3-1m22 1l3 0m-12 1l3 1m7-1l3 0m16 0l2 1m-98 0l1 2m24-2l3 1m-1-1l3 0m15 0l1 3m33-3l3 1m-1-1l2 1m5-1l2-2m-48 3l0 3m142-3l2-2m-142 3l3 0m127 1l1 3m-104-2l1 2m-21-1l3 1m11-1l3 1m-9 0l1 2m0-2l1 3m21-3l3 1m82-1l2 2m-120-1l3-1m12 1l3 0m6 0l2 2m13-2l3 1m-55 0l2-2m2 2l1 2m35-1l3 1m11-1l2 2m-1-2l2-2m-40 3l3 0m8 0l2 1m10-1l3 0m-19 1l0 3m19-3l2 2m5-2l3 1m-2-1l1 2m20-2l0 3m-42-2l-1 3m13-3l2-2m4 2l1 2m1-2l3-1m13 1l2 2m-23-1l0 3m7-3l3-1m16 1l2-2m-74 3l2 1m14-1l0 3m17-3l1 2m14-2l1 3m3-3l2 2m9-2l0 3m1-3l3-1m1 1l3 0m-72 1l3-1m12 1l1 2m25-2l2 2m18-2l2 2m4-2l3-1m-66 2l-1 3m2-3l0 3m36-3l0 3m-18-2l3-1m17 1l3 0m12 0l1 2m8-2l3 1m15-1l3-1m-43 2l1 3m8-3l3 0m15 0l0 3m-19-2l2-2m-29 3l2 2m4-2l2 1m36-1l-1 3m-54-2l1 3m22-3l0 3m31-3l2 2m13-2l2 2m-8-1l2 1m-65 0l0 3m2-3l2-2m1 2l3 0m30 0l2-2m3 2l-1 3m2-3l-1 3m-57-2l3 1m22-1l2 1m6-1l-1 3m3-3l1 2m1-2l2 2m4-2l0 3m-94-2l2 1m54-1l2 1m14-1l-1 3m10-2l0 3m16-3l-1 3m17-3l2 1m11-1l1 2m0-2l2 1m1-1l0 3m-53-2l3-1m26 1l2-2m5 2l2 2m5-2l0 3m-36-2l1 3m5-3l3 1m17-1l2-2m7 2l3 0m-66 1l3-1m25 1l2 2m5-2l1 2m29-2l1 3m-36-2l3 0m-31 1l2 1m27-1l-1 3m3-3l2 2m2-2l0 3m26-3l3 1m1-1l3 0m2 0l2 1m-51 0l-1 3m2-3l2 2m11-2l2-2m-15 3l2 2m14-2l0 3m45-3l3 0m-73 1l3 0m20 0l3 0m-1 0l3 0m27 0l2-2m-65 3l2 1m1-1l0 3m23-3l0 3m34-3l0 3m10-3l3 1m36-1l0 3m-93-2l1 2m29-2l2-2m-44 3l3 1m26-1l0 3m9-3l1 2m2-2l2 1m-45 0l2-2m5 2l1 2m36-2l1 3m-36-2l1 3m7-3l-1 3m2-3l0 3m27-3l2-2m7 2l0 3m10-2l1 2m-49-1l2 1m16-1l3-1m19 1l2-2m6 2l2 2m-47-1l1 2m3-2l1 3m54-3l2 1m-72 0l2-2m12 2l-1 3m23-3l1 2m22-2l0 3m-108-2l2 2m62-2l3-1m0 1l3 0m14 0l3-1m0 1l3 0m27 1l2-2m20 2l3 1m-71 0l2 2m89-1l2-2m-115 3l-1 3m8-3l1 3m7-3l1 3m12-3l0 3m4-3l2-2m6 2l3 1m5-1l3 1m8-1l3 0m35 0l3 0m-91 1l2 2m8-2l3 1m15-1l2-2m-32 3l2-2m8 2l3-1m34 1l2 2m29-2l3 1m-69 1l3 1m20-1l2 1m4-1l2-2m57 2l3-1m-48 2l3 1m-58 0l3 0m-5 1l2 1m31-1l2 2m27-2l2 2m19-2l3 1m-29 0l0 3m-33-2l2-2m66 2l2 2m-93 0l3 0m25 0l2 1m47-1l3 0m-87 1l2 2m21-1l1 3m9-3l0 3m-18-1l2 2m-11 2l0 3m9-2l1 3m-17 0l1 2m11-2l3 0m-13 2l0 3m-7-2l2-2m7 3l3-1m9 2l3 1m-17 2l-1 3m7-3l1 2m-12 0l2 2m0-2l-1 3m3-3l1 3m1-3l2 1m0-1l1 3m-14-1l3 0m3 0l2 2m-12-1l-1 3m17-2l0 3m-6-2l2 1m6-1l3-1m0 1l3-1m-14 2l0 3m-6-2l1 2m1-2l1 3m1-3l2-2m-10 3l3-1m1 1l2-2m13 2l3 0m-21 1l1 2m6-2l2 1m-1-1l3 0m-14 1l3-1m2 1l1 2m-4-1l2 2m-1-2l0 3m3-3l1 3m15-3l2-2m-23 4l3 1m1-1l2 1m-5 0l3 1m-2-1l3 0m-2 1l2 1m-5 1l2 2m0-2l3-1m-1 1l1 3m-6-2l2 1m11-1l3-1m-10 2l2-2m13 2l1 2m-15-1l-1 3m-4-2l-1 3m2-1l2 1m-4 0l0 3m4-2l1 2m5 1l1 2m2-1l3 0m-9 1l1 2m1 2l1 2m1-2l2 1m-1-1l1 2m0 0l2 1m-10 1l1 3m18-1l0 3m13 4l3 1m-12 2l1 3m-9 1l2 2m3 0l1 2m-6 2l3-1" fill="none" stroke="#3f923f" stroke-opacity="0.42" stroke-width="1"/>
<path d="M697 584l1 3m6 1l0 3m-13 18l2 2m-53 50l2-2m-2 15l0 3m-105 7l2-2m-4 3l2 1m50 27l3 0m-10 12l3-1m4 4l2 1m6 10l3 1m-18 3l1 2m-6 15l2 2m6 1l2 1m5 12l3 0m0 12l2-2" fill="none" stroke="#e01818" stroke-opacity="0.5" stroke-width="1"/>
<path d="M628 558l3-1m-23 20l3 1m0 4l3 0m17 7l0 3m78 0l3 1m-106 0l1 2m94 1l3 1m-5 0l1 3m-123-2l1 3m112-1l1 3m-105 9l1 2m-37 1l0 3m-2-1l3-1m28 4l2-2m59 3l2 2m-5-1l3 1m-93 0l3-1m79 5l2 1m-5 4l2 2m-3 6l0 3m24-3l2-2m-90 8l3-1m63 30l2-2m-56 5l1 2m3-2l-1 3m27 2l1 2m-8-1l3 0m-10 6l3-1m6 1l3-1" fill="none" stroke="#30308c" stroke-opacity="0.5" stroke-width="1"/></g>
<ellipse cx="568.4" cy="749.0" rx="4.2" ry="10" fill="url(#gblob)"/>
<g fill="none" stroke="#000" stroke-width="1.45" stroke-linejoin="round">
<polygon points="515.5,771.1 513.4,770.3 511.3,770.7 509.2,769.9 507.0,770.3 504.7,770.7 502.3,770.9 500.1,772.0 499.8,769.9 499.0,768.0 498.4,766.0 496.7,764.6 495.8,762.6 496.7,759.2 495.5,756.7 495.0,754.0 493.2,752.9 491.6,751.5 490.8,749.3 489.9,747.2 488.6,745.4 486.6,744.2 485.6,742.1 483.7,742.9 481.6,742.6 479.6,742.9 477.9,744.0 476.5,745.5 474.7,746.4 472.8,747.2 469.4,748.9 468.1,747.1 466.7,745.3 465.1,743.8 464.2,741.6 464.3,739.2 463.4,737.0 461.8,735.5 460.8,733.5 459.8,731.6 458.3,730.1 460.1,727.8 460.8,725.0 461.7,722.9 462.5,720.7 463.7,718.2 465.9,716.5 466.9,714.4 467.7,712.2 468.1,710.0 467.6,707.6 468.5,705.4 470.4,704.2 471.9,702.5 474.0,703.5 476.2,703.1 477.9,704.8 478.8,707.1 481.3,704.5 483.4,702.7 485.6,701.1 487.2,699.9 488.2,698.0 489.9,696.8 491.9,696.2 493.2,694.4 495.0,693.4 497.1,692.0 499.3,690.7 501.0,688.3 501.8,685.6 501.7,683.3 501.7,680.9 502.7,678.7 502.5,676.1 501.8,673.6 502.9,671.2 502.7,668.5 503.7,666.2 505.2,664.2 507.6,662.4 510.4,661.6 510.6,659.5 511.2,657.4 511.0,655.1 510.0,653.1 509.7,651.1 509.3,649.1 509.5,647.1 510.9,645.2 511.2,642.8 511.0,640.7 510.4,638.6 509.2,636.4 507.8,634.3 506.9,631.5 505.2,629.2 503.0,627.4 501.8,624.9 500.1,623.4 498.8,621.6 496.7,620.6 494.8,619.4 493.6,617.4 491.6,616.4 489.9,614.6 487.4,614.4 485.6,612.9 483.5,611.1 481.3,609.5 479.3,609.3 477.4,608.3 475.3,608.3 473.0,608.7 470.7,608.7 468.5,609.5 466.8,610.9 465.9,612.9 464.2,614.6 463.3,616.7 462.5,618.9 460.2,617.5 458.3,615.5 455.8,614.4 453.1,614.1 451.1,614.6 449.2,615.4 447.2,615.8 444.8,617.1 442.0,617.2 440.4,619.0 438.6,620.6 436.9,619.3 435.2,618.1 433.5,616.4 431.8,614.7 431.6,612.1 430.9,609.5 433.0,608.2 434.3,606.1 434.4,603.8 434.3,601.6 434.3,599.3 435.1,597.1 436.9,595.4 437.8,593.3 439.0,591.3 439.1,589.1 440.2,587.1 440.3,584.8 440.5,582.5 441.5,580.5 442.0,578.3 442.9,576.2 443.2,573.9 444.6,571.9 444.2,569.4 445.4,567.3 447.2,568.5 449.5,568.1 451.4,568.9 453.1,570.2 455.0,570.8 457.1,570.8 459.1,571.1 461.3,571.4 463.4,571.9 465.5,570.1 467.7,568.5 469.6,566.6 471.1,564.3 473.0,563.3 474.9,562.3 476.2,560.5 478.7,559.3 481.3,558.3 483.0,556.6 484.6,554.8 484.7,552.2 484.6,549.7 482.9,548.8 483.3,546.7 483.6,544.7 484.6,542.8 485.7,540.8 486.1,538.5 486.7,536.3 488.0,534.3 488.9,532.3 488.7,530.0 488.6,527.8 489.7,525.8 490.0,523.4 490.3,521.1 491.4,518.9 493.1,515.5 495.2,514.3 497.0,512.5 499.1,511.2 499.5,509.0 500.4,507.1 501.7,505.3 500.8,502.8 500.8,500.1 500.6,497.3 499.1,495.0 495.7,493.3 493.6,494.2 491.4,494.7 488.0,493.3 488.0,489.9 489.3,488.3 490.4,486.6 490.8,484.4 492.3,483.0 493.7,481.4 495.3,479.9 496.4,478.1 497.4,476.2 499.6,476.3 501.7,475.4 504.0,474.9 506.3,474.9 508.5,474.2 510.4,472.3 512.8,471.1 514.8,469.5 517.5,469.4 519.6,468.0 521.9,468.0 524.2,467.5 526.4,466.8 529.2,466.3 531.6,464.6 533.9,464.3 536.0,463.2 538.4,463.4 540.7,463.9 542.8,465.0 545.2,465.1 547.8,465.6 550.4,466.0 552.3,467.3 554.6,467.7 557.1,469.0 559.8,469.7 562.3,466.8 564.6,466.4 566.9,466.9 569.2,467.3 571.2,469.3 573.4,471.1 575.1,472.2 576.8,473.5 578.6,474.5 580.4,475.8 581.3,478.0 582.8,479.6 584.3,481.3 586.1,482.7 587.1,484.8 588.4,487.2 588.8,489.9 589.9,491.8 591.9,493.1 593.1,495.0 594.2,496.7 594.8,498.8 596.5,500.1 598.3,502.3 599.0,505.1 600.4,507.2 601.5,509.4 603.1,511.6 604.9,513.6 606.7,515.7 608.4,517.9 608.9,520.1 610.0,521.9 610.9,523.9 612.4,525.8 614.3,527.3 616.0,530.7 616.3,532.7 617.3,534.6 616.9,536.7 618.3,538.7 620.3,540.1 622.2,540.9 624.4,540.7 626.3,541.8 628.4,541.5 630.3,540.7 632.3,540.1 635.3,539.5 638.3,540.1 640.3,540.5 642.2,541.5 644.2,541.8 646.8,541.1 649.4,540.1 651.0,541.6 652.8,542.7 654.4,544.1 656.2,545.3 658.8,546.4 661.3,547.8 663.7,549.2 666.4,549.5 669.0,549.2 671.6,548.7 671.8,551.0 671.9,553.3 672.4,555.5 673.7,557.0 675.6,558.0 676.7,559.8 676.9,561.8 676.8,563.9 677.6,565.8 679.0,567.4 680.1,569.2 681.4,571.3 683.5,572.6 685.2,574.3 687.6,574.0 689.5,572.6 691.5,572.3 693.4,571.5 695.5,571.7 698.0,571.4 700.2,570.6 702.3,569.2 704.4,567.7 706.9,567.4 709.2,566.6 709.3,564.5 710.2,562.6 710.9,560.6 712.3,558.3 714.3,556.4 715.8,554.9 717.6,553.9 719.4,552.9 721.3,552.1 723.0,550.9 724.5,549.5 726.7,548.6 727.6,546.3 729.7,545.3 731.3,544.0 733.0,542.8 734.8,541.8 737.5,541.2 739.9,539.8 741.9,539.1 743.7,538.1 744.7,540.1 742.7,541.7 740.8,543.5 740.3,546.1 739.9,548.7 740.7,551.1 742.5,552.9 743.3,554.8 743.4,556.9 743.3,558.9 742.0,561.1 740.9,563.4 739.9,565.8 739.9,568.4 739.1,570.9 739.4,573.0 739.9,575.1 740.4,577.2 739.9,579.4 739.5,581.5 740.1,583.5 740.5,585.6 740.3,587.7 740.8,589.7 739.8,591.9 740.0,594.3 739.1,596.5 738.7,598.8 739.0,601.1 739.9,603.3 739.4,605.7 738.5,608.0 737.4,610.2 737.0,612.5 737.1,614.8 736.5,617.0 735.4,620.0 736.1,621.9 735.9,624.0 736.2,626.0 733.7,628.5 731.4,628.1 729.1,627.5 726.6,628.2 724.3,627.7 721.9,627.8 719.6,626.8 717.3,626.9 714.9,626.8 714.6,629.5 713.2,631.9 711.4,633.0 710.5,634.9 708.9,636.2 706.9,637.3 705.2,638.7 703.8,640.5 702.9,643.0 703.9,645.3 705.5,647.3 707.1,648.7 707.5,650.9 708.9,652.4 710.4,654.5 711.6,656.8 712.3,659.3 713.5,661.1 713.9,663.2 714.0,665.3 713.8,667.8 714.9,670.0 714.9,672.4 715.7,674.7 716.3,676.7 716.7,678.7 717.5,680.6 717.4,683.2 717.5,685.8 715.7,689.2 713.2,690.5 711.5,692.6 708.1,694.3 709.0,696.3 710.6,697.7 710.6,699.9 711.5,702.0 710.0,700.4 708.9,698.6 706.3,696.0 704.6,694.3 702.9,692.6 699.5,691.7 697.0,692.6 697.0,694.9 696.7,697.2 696.1,699.4 695.4,702.0 694.4,704.6 691.8,707.1 690.3,709.1 689.3,711.4 687.5,713.3 686.7,715.7 684.1,718.2 682.2,718.8 680.1,719.0 678.2,719.9 675.8,720.6 673.7,722.0 671.3,722.5 669.6,724.2 670.7,726.1 672.2,727.6 674.0,729.7 675.6,731.9 676.7,734.3 676.4,737.0 674.0,738.3 671.3,738.7 669.2,738.0 667.0,739.0 664.9,738.1 662.8,738.7 660.8,738.3 658.9,737.7 656.8,737.9 655.4,736.4 654.1,734.8 652.5,733.6 650.4,733.2 648.3,733.6 647.6,736.2 646.6,738.7 646.6,741.0 645.6,743.3 645.7,745.6 644.5,747.5 643.4,749.5 642.3,751.5 640.1,754.0 638.1,755.3 637.0,757.5 635.0,758.5 633.7,760.3 631.6,762.6 630.5,764.7 628.8,766.2 627.1,767.7 625.6,769.4 624.4,771.4 622.4,772.7 621.5,774.9 619.6,776.3 618.0,778.0 616.7,779.8 616.3,782.4 614.5,783.9 613.8,786.4 612.3,788.6 611.1,790.8 608.9,791.9 606.5,792.4 604.2,793.3 602.1,794.7 599.9,795.8 597.4,796.3 594.4,797.4 592.9,799.1 590.9,800.0 588.4,801.2 586.7,803.4 584.2,804.7 582.4,806.8 580.7,808.5 579.0,810.2 577.3,813.7 575.6,817.1 573.6,818.3 572.2,820.1 569.6,823.0 567.6,824.5 566.2,826.5 562.8,828.2 559.8,827.3 559.3,825.2 559.3,823.0 561.8,821.6 564.5,820.5 566.3,819.3 567.9,817.9 567.5,815.4 567.9,812.0 571.3,810.1 567.9,810.7 565.3,810.4 562.8,811.1 559.8,810.2 560.2,807.7 563.6,806.4 562.8,803.4 564.5,800.0 565.9,797.9 567.0,795.7 568.1,793.3 570.0,791.5 570.8,789.2 572.2,787.2 573.1,784.6 574.3,782.1 573.7,780.1 572.2,778.6 570.5,777.5 569.2,775.9 567.9,774.4 566.2,773.1 564.5,771.8 561.9,771.8 559.7,772.2 557.6,772.7 555.2,773.1 552.9,772.7 551.3,774.3 550.0,776.1 548.2,779.5 547.5,782.3 545.7,784.6 544.2,786.6 543.1,788.9 542.3,791.7 541.4,794.4 539.5,795.6 537.1,795.8 535.4,797.4 533.4,798.8 531.2,800.0 530.2,798.1 528.6,796.6 527.4,794.4 526.0,792.3 524.6,790.6 524.3,788.5 521.7,788.4 519.2,788.9 517.8,787.2 515.8,786.3 512.4,784.6 510.2,782.9 510.4,780.2 511.5,777.8 513.2,775.2 514.7,773.3 515.5,771.1"/>
<polyline points="508.5,474.2 509.8,475.8 511.1,477.5 512.8,478.8 511.8,481.3 512.0,484.0 511.1,486.5 509.2,488.4 507.7,490.7 509.5,492.5 511.9,493.3 514.0,495.0 516.2,496.7 519.6,495.0 521.3,491.6 524.7,493.0 527.0,494.9 529.9,495.9 530.8,498.2 532.4,500.1 533.4,502.1 533.3,504.5 535.0,506.4 535.0,508.7 536.2,510.5 536.9,512.4 538.0,514.3 538.4,516.4 541.0,516.9 543.5,517.6 545.6,516.6 547.5,515.2 549.5,514.1 552.1,514.4 554.6,513.8 556.7,513.4 558.7,513.1 560.6,512.1 563.1,511.0 565.7,510.4 567.0,508.8 567.5,506.6 569.2,505.3 571.7,503.5 574.0,503.7 576.0,504.9 577.6,506.3 579.3,507.8 581.2,509.0 582.8,510.4 584.8,511.8 586.1,514.0 588.0,515.5 587.1,517.5 586.7,519.7 586.2,521.8 586.2,524.0 585.1,526.7 583.7,529.2 583.5,531.5 581.9,533.3 581.5,535.5 581.1,537.7 580.1,540.2 579.4,542.8 580.2,544.9 580.3,547.1 579.4,549.3 580.3,551.4 581.8,553.8 582.8,556.5 582.5,559.0 582.8,561.6 580.7,562.4 578.6,563.3 577.7,565.5 578.6,568.0 577.7,570.2 577.3,572.5 576.9,574.8 576.2,577.0 575.5,579.5 575.9,582.0 577.1,584.0 577.3,586.9 577.1,589.7 575.9,586.5 575.3,584.5 574.0,582.8 572.8,579.6 570.9,580.3 569.3,582.2 567.7,584.0 567.0,586.0 565.7,587.7 565.4,589.8 564.0,591.5 562.5,593.2 561.5,595.2 559.6,596.6 557.6,598.4 556.5,600.9 554.5,603.0 552.1,604.7 550.6,607.3 548.3,609.1 547.5,611.5 547.1,614.1 549.6,617.2 551.9,618.8 554.6,619.7 556.5,622.9 557.4,625.0 559.0,626.6 560.9,627.2 563.4,624.1 562.7,621.0 566.5,620.6 569.0,622.2 569.6,625.4 566.5,627.2 564.0,628.2 561.5,629.1 560.2,632.3 561.5,635.4 564.0,637.9"/>
<polyline points="564.0,637.9 565.2,637.3 567.7,637.3 570.2,636.6 574.0,635.4 576.5,634.1 577.1,636.2 578.4,637.9 579.0,640.4 579.6,642.9 581.3,645.2 582.1,647.9 583.2,649.9 585.3,651.0 587.3,652.1 589.0,653.6 592.8,652.9 594.8,651.3 597.2,650.4 600.3,652.3 602.4,652.1 604.1,651.0 606.6,649.8 609.1,648.5 611.2,649.8 612.8,651.7 615.2,653.5 617.9,654.8 620.2,654.2 622.2,652.9 624.4,651.7 626.6,650.4 629.0,651.5 631.6,651.7 633.4,653.7 635.4,655.4 637.2,657.6 637.7,660.1 638.0,662.7 640.6,662.8 643.1,663.5 645.1,665.1 647.4,666.1 648.7,668.2 650.8,669.5 652.8,670.9 654.2,672.9 655.5,671.3 656.0,669.2 657.7,667.8 658.2,665.7 658.5,663.5 661.1,661.8 662.8,663.2 663.6,665.3 664.6,668.0 666.2,670.4 667.1,672.5 668.6,674.2 670.5,675.5 671.4,677.4 672.5,679.1 673.9,680.6 676.4,682.3 679.9,680.6 680.6,678.1 680.7,675.5 682.9,674.3 685.0,672.9 687.0,671.4 689.3,670.4 691.0,667.0 693.5,668.7 695.2,666.5 697.0,664.4 697.8,666.8 699.5,668.7 700.2,671.2 702.1,672.9 704.6,673.8 707.2,673.8 709.7,674.5 712.3,674.7 715.7,674.7"/>
<polyline points="564.0,637.9 564.0,640.4 563.2,642.4 561.4,643.5 560.0,645.5 559.6,647.9 558.6,651.5 555.0,650.4 552.0,648.7 549.8,649.4 547.4,649.4 545.4,648.5 543.2,648.0 541.7,651.2 542.0,654.8 544.1,655.7 546.2,656.6 547.5,658.2 549.3,659.2 551.4,662.5 551.1,665.0 551.8,667.5 551.1,669.8 551.6,672.1 551.5,674.4 551.9,677.0 553.5,679.2 554.2,681.5 555.9,683.1 557.5,685.5 557.5,687.5 557.9,689.5 560.7,689.5 563.9,687.5 565.8,685.9 567.1,683.9 568.8,681.9 571.1,680.7 571.9,683.1 573.0,685.4 575.0,687.1 575.6,689.1 577.4,690.3 577.7,692.5 579.0,694.3 580.5,695.9 581.3,698.0 582.2,699.9 581.0,702.3 579.0,703.5 579.8,705.5 583.0,706.7 586.2,707.5"/>
<polyline points="586.2,707.5 587.0,703.9 587.8,703.5 590.2,705.9 592.3,706.5 594.2,707.5 596.4,708.1 598.2,709.5 599.9,711.1 600.6,713.4 602.2,716.2 603.5,714.5 604.5,712.6 606.1,709.1 607.7,708.7 608.6,710.6 609.3,712.6 609.9,715.0 611.7,716.6 612.5,718.9 614.1,720.6 616.4,723.8 617.4,725.9 619.6,727.1 620.5,729.3 621.0,731.3 621.5,733.3 622.2,735.3 623.6,737.7 623.9,740.4 625.6,742.6 627.2,744.9 628.6,746.5 630.0,748.1 630.9,750.0 631.2,752.1 632.3,753.8 632.9,755.8 633.8,758.0 633.7,760.3"/>
<polyline points="586.2,707.5 587.0,709.6 586.6,711.8 586.2,713.8 585.8,715.8 582.2,716.6 579.8,719.0 579.8,721.4 577.4,723.4 574.2,725.0 571.1,723.8 569.1,723.6 567.1,723.4 565.5,724.6 563.9,727.0 562.0,727.7 559.9,727.8 558.3,730.0 555.4,732.5 553.1,734.4 551.6,735.9 550.0,737.1 548.0,737.8 546.2,738.7 544.6,740.1 543.2,741.8 541.3,742.8 539.4,743.8 537.4,745.2 535.9,747.1 534.3,748.9 532.7,750.5 531.8,752.4 531.1,754.5 530.6,756.6 529.2,758.3 528.4,756.1 526.8,754.4 525.7,752.3 523.5,750.6 522.3,748.1 521.0,746.2 519.3,744.8 517.2,743.8 515.9,745.4 514.3,746.7 512.9,748.1 514.0,750.1 514.6,752.3 514.7,754.6 514.9,756.9 516.0,759.0 516.6,761.2 517.5,763.3 517.1,765.4 517.1,767.5 515.5,771.1"/>
</g>
<g font-family="Liberation Serif, Times New Roman, serif" font-weight="bold" font-size="14.6" fill="#000">
<text x="444.59999999999997" y="604.4" textLength="99" lengthAdjust="spacingAndGlyphs">Inner Mongolia</text>
<text x="616.9" y="601.6" textLength="83" lengthAdjust="spacingAndGlyphs">Heilongjiang</text>
<text x="614.0999999999999" y="695.2" textLength="27.3" lengthAdjust="spacingAndGlyphs">Jilin</text>
<text x="550.5999999999999" y="765.9" textLength="57" lengthAdjust="spacingAndGlyphs">Liaoning</text>
</g>
<rect x="417.4" y="454.5" width="336.1" height="402.9" fill="none" stroke="#3a3a3a" stroke-width="1.3"/>
<g font-family="Liberation Serif, Times New Roman, serif" font-weight="bold" font-size="12" fill="#000">
<line x1="446.8" y1="857.4" x2="446.8" y2="860.4" stroke="#404040" stroke-width="1"/>
<text x="446.8" y="872.7" text-anchor="middle">115°E</text>
<line x1="481.9" y1="454.5" x2="481.9" y2="451.5" stroke="#404040" stroke-width="1"/>
<text x="481.9" y="447.9" text-anchor="middle">120°E</text>
<line x1="542.8" y1="857.4" x2="542.8" y2="860.4" stroke="#404040" stroke-width="1"/>
<text x="542.8" y="872.7" text-anchor="middle">120°E</text>
<line x1="558.4" y1="454.5" x2="558.4" y2="451.5" stroke="#404040" stroke-width="1"/>
<text x="558.4" y="447.9" text-anchor="middle">125°E</text>
<line x1="640.3" y1="857.4" x2="640.3" y2="860.4" stroke="#404040" stroke-width="1"/>
<text x="640.3" y="872.7" text-anchor="middle">125°E</text>
<line x1="636.6" y1="454.5" x2="636.6" y2="451.5" stroke="#404040" stroke-width="1"/>
<text x="636.6" y="447.9" text-anchor="middle">130°E</text>
<line x1="739.9" y1="857.4" x2="739.9" y2="860.4" stroke="#404040" stroke-width="1"/>
<text x="739.9" y="872.7" text-anchor="middle">130°E</text>
<line x1="716.8" y1="454.5" x2="716.8" y2="451.5" stroke="#404040" stroke-width="1"/>
<text x="716.8" y="447.9" text-anchor="middle">135°E</text>
<line x1="417.4" y1="814.9" x2="414.4" y2="814.9" stroke="#404040" stroke-width="1"/>
<text transform="translate(410.7,814.9) rotate(-90)" text-anchor="middle">40°N</text>
<line x1="753.5" y1="754.1" x2="756.5" y2="754.1" stroke="#404040" stroke-width="1"/>
<text transform="translate(768.8,754.1) rotate(-90)" text-anchor="middle">40°N</text>
<line x1="417.4" y1="689.8" x2="414.4" y2="689.8" stroke="#404040" stroke-width="1"/>
<text transform="translate(410.7,689.8) rotate(-90)" text-anchor="middle">45°N</text>
<line x1="753.5" y1="624.3" x2="756.5" y2="624.3" stroke="#404040" stroke-width="1"/>
<text transform="translate(768.8,624.3) rotate(-90)" text-anchor="middle">45°N</text>
<line x1="417.4" y1="566.4" x2="414.4" y2="566.4" stroke="#404040" stroke-width="1"/>
<text transform="translate(410.7,566.4) rotate(-90)" text-anchor="middle">50°N</text>
<line x1="753.5" y1="495.6" x2="756.5" y2="495.6" stroke="#404040" stroke-width="1"/>
<text transform="translate(768.8,495.6) rotate(-90)" text-anchor="middle">50°N</text>
</g>
<rect x="421.8" y="820.3" width="56" height="5.4" fill="#000"/>
<rect x="477.8" y="820.7" width="54.8" height="4.8" fill="#fff" stroke="#404040" stroke-width="0.8"/>
<g font-family="Liberation Serif, Times New Roman, serif" font-weight="bold" font-size="12.8" fill="#000">
<text x="418.7" y="813.9">0</text>
<text x="467.4" y="813.9">250</text>
<text x="522.7" y="813.9">500</text>
<text x="536.5" y="825.6">km</text>
</g>
<rect x="597.5" y="812.6" width="28.4" height="15.2" fill="#fff" stroke="#000" stroke-width="1.7"/>
<text x="628.7" y="825.7" font-family="Liberation Serif, Times New Roman, serif" font-weight="bold" font-size="15" textLength="121.7" lengthAdjust="spacingAndGlyphs">Province boundary</text>
<rect x="421.8" y="836.5" width="35.5" height="17.3" fill="#70b074"/>
<text x="458.8" y="850.6" font-family="Liberation Serif, Times New Roman, serif" font-weight="bold" font-size="17.2" fill="#000">CT</text>
<rect x="555.4" y="836.5" width="35.5" height="17.3" fill="#454f8c"/>
<text x="592.4" y="850.6" font-family="Liberation Serif, Times New Roman, serif" font-weight="bold" font-size="17.2" fill="#000">RT</text>
<rect x="688.4" y="836.5" width="35.5" height="17.3" fill="#e60000"/>
<text x="725.4" y="850.6" font-family="Liberation Serif, Times New Roman, serif" font-weight="bold" font-size="17.2" fill="#000">NT</text>
<text x="417.5" y="480.5" font-family="Liberation Sans, Arial, sans-serif" font-size="30.2" fill="#000">(e)</text>
<rect x="835.20" y="477.20" width="54.4" height="35.31" fill="#e63446"/>
<rect x="835.20" y="512.51" width="54.4" height="44.66" fill="#1d3557"/>
<rect x="835.20" y="557.17" width="54.4" height="266.23" fill="#d6e6f2"/>
<text transform="translate(862.4,501.4) scale(0.75,1)" text-anchor="middle" font-family="Liberation Serif, Times New Roman, serif" font-weight="normal" font-size="19.3" fill="#fff">10.2</text>
<text transform="translate(862.4,541.3) scale(0.75,1)" text-anchor="middle" font-family="Liberation Serif, Times New Roman, serif" font-weight="normal" font-size="19.3" fill="#fff">12.9</text>
<text transform="translate(862.4,696.8) scale(0.75,1)" text-anchor="middle" font-family="Liberation Serif, Times New Roman, serif" font-weight="bold" font-size="19.3" fill="#000">76.9</text>
<line x1="862.4" y1="823.4" x2="862.4" y2="827.4" stroke="#222" stroke-width="1"/>
<text transform="translate(862.4,844.6) scale(0.75,1)" text-anchor="middle" font-family="Liberation Serif, Times New Roman, serif" font-weight="bold" font-size="18.6" fill="#000">2019</text>
<rect x="892.75" y="477.20" width="54.4" height="95.20" fill="#e63446"/>
<rect x="892.75" y="572.40" width="54.4" height="54.35" fill="#1d3557"/>
<rect x="892.75" y="626.76" width="54.4" height="196.64" fill="#d6e6f2"/>
<line x1="892.25" y1="477.20" x2="892.25" y2="823.40" stroke="#8a8a8a" stroke-width="1"/>
<text transform="translate(920.0,531.3) scale(0.75,1)" text-anchor="middle" font-family="Liberation Serif, Times New Roman, serif" font-weight="normal" font-size="19.3" fill="#fff">27.5</text>
<text transform="translate(920.0,606.1) scale(0.75,1)" text-anchor="middle" font-family="Liberation Serif, Times New Roman, serif" font-weight="normal" font-size="19.3" fill="#fff">15.7</text>
<text transform="translate(920.0,731.6) scale(0.75,1)" text-anchor="middle" font-family="Liberation Serif, Times New Roman, serif" font-weight="bold" font-size="19.3" fill="#000">56.8</text>
<line x1="920.0" y1="823.4" x2="920.0" y2="827.4" stroke="#222" stroke-width="1"/>
<text transform="translate(920.0,844.6) scale(0.75,1)" text-anchor="middle" font-family="Liberation Serif, Times New Roman, serif" font-weight="bold" font-size="18.6" fill="#000">2020</text>
<rect x="950.30" y="477.20" width="54.4" height="67.86" fill="#e63446"/>
<rect x="950.30" y="545.06" width="54.4" height="41.54" fill="#1d3557"/>
<rect x="950.30" y="586.60" width="54.4" height="236.80" fill="#d6e6f2"/>
<text transform="translate(977.5,517.6) scale(0.75,1)" text-anchor="middle" font-family="Liberation Serif, Times New Roman, serif" font-weight="normal" font-size="19.3" fill="#fff">19.6</text>
<text transform="translate(977.5,572.3) scale(0.75,1)" text-anchor="middle" font-family="Liberation Serif, Times New Roman, serif" font-weight="normal" font-size="19.3" fill="#fff">12</text>
<text transform="translate(977.5,711.5) scale(0.75,1)" text-anchor="middle" font-family="Liberation Serif, Times New Roman, serif" font-weight="bold" font-size="19.3" fill="#000">68.4</text>
<line x1="977.5" y1="823.4" x2="977.5" y2="827.4" stroke="#222" stroke-width="1"/>
<text transform="translate(977.5,844.6) scale(0.75,1)" text-anchor="middle" font-family="Liberation Serif, Times New Roman, serif" font-weight="bold" font-size="18.6" fill="#000">2021</text>
<rect x="1007.85" y="477.20" width="54.4" height="53.66" fill="#e63446"/>
<rect x="1007.85" y="530.86" width="54.4" height="103.86" fill="#1d3557"/>
<rect x="1007.85" y="634.72" width="54.4" height="188.68" fill="#d6e6f2"/>
<line x1="1007.35" y1="477.20" x2="1007.35" y2="823.40" stroke="#8a8a8a" stroke-width="1"/>
<text transform="translate(1035.0,510.5) scale(0.75,1)" text-anchor="middle" font-family="Liberation Serif, Times New Roman, serif" font-weight="normal" font-size="19.3" fill="#fff">15.5</text>
<text transform="translate(1035.0,589.3) scale(0.75,1)" text-anchor="middle" font-family="Liberation Serif, Times New Roman, serif" font-weight="normal" font-size="19.3" fill="#fff">30</text>
<text transform="translate(1035.0,735.6) scale(0.75,1)" text-anchor="middle" font-family="Liberation Serif, Times New Roman, serif" font-weight="bold" font-size="19.3" fill="#000">54.5</text>
<line x1="1035.0" y1="823.4" x2="1035.0" y2="827.4" stroke="#222" stroke-width="1"/>
<text transform="translate(1035.0,844.6) scale(0.75,1)" text-anchor="middle" font-family="Liberation Serif, Times New Roman, serif" font-weight="bold" font-size="18.6" fill="#000">2022</text>
<rect x="1065.40" y="477.20" width="54.4" height="23.89" fill="#e63446"/>
<rect x="1065.40" y="501.09" width="54.4" height="63.70" fill="#1d3557"/>
<rect x="1065.40" y="564.79" width="54.4" height="258.61" fill="#d6e6f2"/>
<text transform="translate(1092.6,495.6) scale(0.75,1)" text-anchor="middle" font-family="Liberation Serif, Times New Roman, serif" font-weight="normal" font-size="19.3" fill="#fff">6.9</text>
<text transform="translate(1092.6,539.4) scale(0.75,1)" text-anchor="middle" font-family="Liberation Serif, Times New Roman, serif" font-weight="normal" font-size="19.3" fill="#fff">18.4</text>
<text transform="translate(1092.6,700.6) scale(0.75,1)" text-anchor="middle" font-family="Liberation Serif, Times New Roman, serif" font-weight="bold" font-size="19.3" fill="#000">74.7</text>
<line x1="1092.6" y1="823.4" x2="1092.6" y2="827.4" stroke="#222" stroke-width="1"/>
<text transform="translate(1092.6,844.6) scale(0.75,1)" text-anchor="middle" font-family="Liberation Serif, Times New Roman, serif" font-weight="bold" font-size="18.6" fill="#000">2023</text>
<line x1="833.4" y1="458.3" x2="833.4" y2="824.0" stroke="#222" stroke-width="1.3"/>
<line x1="832.8" y1="823.4" x2="1121" y2="823.4" stroke="#222" stroke-width="1.2"/>
<line x1="830.6" y1="823.4" x2="833.4" y2="823.4" stroke="#222" stroke-width="1"/>
<text transform="translate(828.4,829.1) scale(0.74,1)" text-anchor="end" font-family="Liberation Serif, Times New Roman, serif" font-weight="bold" font-size="19.3" fill="#000">0</text>
<line x1="830.6" y1="754.2" x2="833.4" y2="754.2" stroke="#222" stroke-width="1"/>
<text transform="translate(828.4,759.9) scale(0.74,1)" text-anchor="end" font-family="Liberation Serif, Times New Roman, serif" font-weight="bold" font-size="19.3" fill="#000">20</text>
<line x1="830.6" y1="684.9" x2="833.4" y2="684.9" stroke="#222" stroke-width="1"/>
<text transform="translate(828.4,690.6) scale(0.74,1)" text-anchor="end" font-family="Liberation Serif, Times New Roman, serif" font-weight="bold" font-size="19.3" fill="#000">40</text>
<line x1="830.6" y1="615.7" x2="833.4" y2="615.7" stroke="#222" stroke-width="1"/>
<text transform="translate(828.4,621.4) scale(0.74,1)" text-anchor="end" font-family="Liberation Serif, Times New Roman, serif" font-weight="bold" font-size="19.3" fill="#000">60</text>
<line x1="830.6" y1="546.4" x2="833.4" y2="546.4" stroke="#222" stroke-width="1"/>
<text transform="translate(828.4,552.1) scale(0.74,1)" text-anchor="end" font-family="Liberation Serif, Times New Roman, serif" font-weight="bold" font-size="19.3" fill="#000">80</text>
<line x1="830.6" y1="477.2" x2="833.4" y2="477.2" stroke="#222" stroke-width="1"/>
<text transform="translate(828.4,482.9) scale(0.74,1)" text-anchor="end" font-family="Liberation Serif, Times New Roman, serif" font-weight="bold" font-size="19.3" fill="#000">100</text>
<text transform="translate(801.2,640.8) rotate(-90) scale(1,0.8)" text-anchor="middle" font-family="Liberation Serif, Times New Roman, serif" font-weight="bold" font-size="18.4" fill="#000">Percentage of tillage practices(%)</text>
<text transform="translate(977.5,874.3) scale(0.76,1)" text-anchor="middle" font-family="Liberation Serif, Times New Roman, serif" font-weight="bold" font-size="20.1" fill="#000">Year</text>
<rect x="838.2" y="460.5" width="19.6" height="11.5" fill="#e63446"/>
<text transform="translate(860.8,470.7) scale(0.74,1)" font-family="Liberation Serif, Times New Roman, serif" font-weight="bold" font-size="13.9" fill="#000">No Tillage</text>
<rect x="909.0" y="460.5" width="19.6" height="11.5" fill="#1d3557"/>
<text transform="translate(931.6,470.7) scale(0.74,1)" font-family="Liberation Serif, Times New Roman, serif" font-weight="bold" font-size="13.9" fill="#000">Reduced Tillage</text>
<rect x="1006.0" y="460.5" width="19.6" height="11.5" fill="#d6e6f2"/>
<text transform="translate(1028.6,470.7) scale(0.74,1)" font-family="Liberation Serif, Times New Roman, serif" font-weight="bold" font-size="13.9" fill="#000">Conventional Tillage</text>
<text x="768.6" y="480.7" font-family="Liberation Sans, Arial, sans-serif" font-size="30.2" fill="#000">(f)</text>
</svg>
</body></html>
